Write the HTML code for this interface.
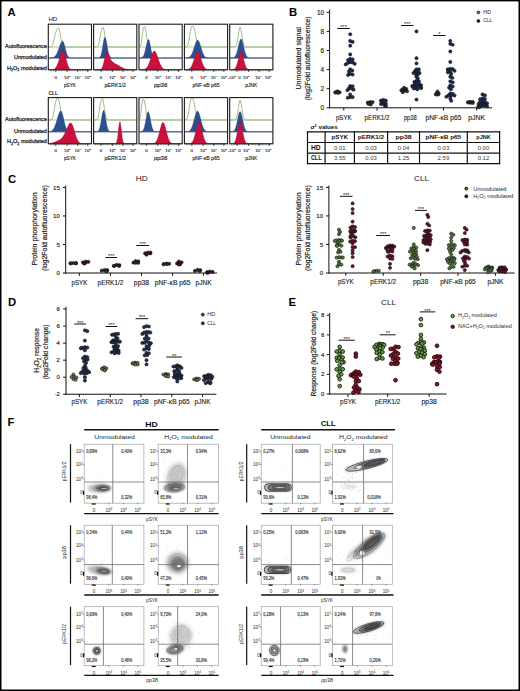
<!DOCTYPE html>
<html><head><meta charset="utf-8"><style>
html,body{margin:0;padding:0;background:#fff;overflow:hidden;}
svg{display:block;font-family:"Liberation Sans", sans-serif;}
</style></head><body>
<svg width="520" height="691" viewBox="0 0 520 691">
<rect width="520" height="691" fill="#fff"/>
<text x="7.6" y="16.1" font-size="11.3" text-anchor="start" font-weight="bold" fill="#000">A</text>
<text x="289" y="16.4" font-size="11.3" text-anchor="start" font-weight="bold" fill="#000">B</text>
<text x="8" y="182.6" font-size="11.3" text-anchor="start" font-weight="bold" fill="#000">C</text>
<text x="8" y="305.6" font-size="11.3" text-anchor="start" font-weight="bold" fill="#000">D</text>
<text x="288.6" y="306" font-size="11.3" text-anchor="start" font-weight="bold" fill="#000">E</text>
<text x="7.6" y="425.7" font-size="11.3" text-anchor="start" font-weight="bold" fill="#000">F</text>
<clipPath id="ha0"><rect x="48.3" y="24.2" width="43.2" height="45.6"/></clipPath>
<g clip-path="url(#ha0)">
<line x1="48.3" y1="47" x2="91.5" y2="47" stroke="#a2bd8a" stroke-width="0.85"/>
<line x1="48.3" y1="58" x2="91.5" y2="58" stroke="#4a5676" stroke-width="0.85"/>
<path d="M48.3,47 L48.3,47 L49.02,47 L49.74,46.99 L50.46,46.96 L51.18,46.82 L51.9,46.33 L52.62,45.08 L53.34,42.7 L54.06,39.33 L54.78,35.87 L55.5,33.22 L56.22,31.37 L56.94,29.76 L57.66,28.28 L58.38,27.72 L59.1,28.89 L59.82,31.85 L60.54,35.82 L61.26,39.74 L61.98,42.86 L62.7,44.93 L63.42,46.09 L64.14,46.65 L64.86,46.88 L65.58,46.96 L66.3,46.99 L67.02,47 L67.74,47 L68.46,47 L69.18,47 L69.9,47 L70.62,47 L71.34,47 L72.06,47 L72.78,47 L73.5,47 L74.22,47 L74.94,47 L75.66,47 L76.38,47 L77.1,47 L77.82,47 L78.54,47 L79.26,47 L79.98,47 L80.7,47 L81.42,47 L82.14,47 L82.86,47 L83.58,47 L84.3,47 L85.02,47 L85.74,47 L86.46,47 L87.18,47 L87.9,47 L88.62,47 L89.34,47 L90.06,47 L90.78,47 L91.5,47 L91.5,47" fill="none" stroke="#7ea85e" stroke-width="0.75"/>
<path d="M48.3,58 L48.3,58 L49.02,57.99 L49.74,57.98 L50.46,57.96 L51.18,57.92 L51.9,57.84 L52.62,57.71 L53.34,57.49 L54.06,57.14 L54.78,56.62 L55.5,55.85 L56.22,54.81 L56.94,53.46 L57.66,51.8 L58.38,49.88 L59.1,47.81 L59.82,45.75 L60.54,43.87 L61.26,42.39 L61.98,41.46 L62.7,41.21 L63.42,42.08 L64.14,44.1 L64.86,46.84 L65.58,49.74 L66.3,52.38 L67.02,54.48 L67.74,55.97 L68.46,56.92 L69.18,57.47 L69.9,57.76 L70.62,57.9 L71.34,57.96 L72.06,57.99 L72.78,58 L73.5,58 L74.22,58 L74.94,58 L75.66,58 L76.38,58 L77.1,58 L77.82,58 L78.54,58 L79.26,58 L79.98,58 L80.7,58 L81.42,58 L82.14,58 L82.86,58 L83.58,58 L84.3,58 L85.02,58 L85.74,58 L86.46,58 L87.18,58 L87.9,58 L88.62,58 L89.34,58 L90.06,58 L90.78,58 L91.5,58 L91.5,58 Z" fill="#2c4f8e" stroke="#27427a" stroke-width="0.4"/>
<path d="M48.3,69.8 L48.3,69.8 L49.02,69.79 L49.74,69.79 L50.46,69.77 L51.18,69.74 L51.9,69.69 L52.62,69.58 L53.34,69.41 L54.06,69.12 L54.78,68.66 L55.5,67.98 L56.22,67.02 L56.94,65.72 L57.66,64.06 L58.38,62.07 L59.1,59.81 L59.82,57.42 L60.54,55.11 L61.26,53.08 L61.98,51.56 L62.7,50.72 L63.42,50.72 L64.14,51.88 L64.86,54.04 L65.58,56.83 L66.3,59.81 L67.02,62.59 L67.74,64.94 L68.46,66.73 L69.18,67.98 L69.9,68.79 L70.62,69.28 L71.34,69.55 L72.06,69.69 L72.78,69.75 L73.5,69.78 L74.22,69.79 L74.94,69.8 L75.66,69.8 L76.38,69.8 L77.1,69.8 L77.82,69.8 L78.54,69.8 L79.26,69.8 L79.98,69.8 L80.7,69.8 L81.42,69.8 L82.14,69.8 L82.86,69.8 L83.58,69.8 L84.3,69.8 L85.02,69.8 L85.74,69.8 L86.46,69.8 L87.18,69.8 L87.9,69.8 L88.62,69.8 L89.34,69.8 L90.06,69.8 L90.78,69.8 L91.5,69.8 L91.5,69.8 Z" fill="#c8113c" stroke="#a80e33" stroke-width="0.4"/>
</g>
<rect x="48.3" y="24.2" width="43.2" height="45.6" fill="none" stroke="#1a1a1a" stroke-width="1.1"/>
<line x1="55.7" y1="69.8" x2="55.7" y2="71.8" stroke="#111" stroke-width="0.8"/>
<line x1="67.1" y1="69.8" x2="67.1" y2="71.8" stroke="#111" stroke-width="0.8"/>
<line x1="77.7" y1="69.8" x2="77.7" y2="71.8" stroke="#111" stroke-width="0.8"/>
<line x1="87.7" y1="69.8" x2="87.7" y2="71.8" stroke="#111" stroke-width="0.8"/>
<line x1="50.3" y1="69.8" x2="50.3" y2="71.2" stroke="#333" stroke-width="0.5"/>
<line x1="51.9" y1="69.8" x2="51.9" y2="71.2" stroke="#333" stroke-width="0.5"/>
<line x1="53.5" y1="69.8" x2="53.5" y2="71.2" stroke="#333" stroke-width="0.5"/>
<line x1="55.1" y1="69.8" x2="55.1" y2="71.2" stroke="#333" stroke-width="0.5"/>
<line x1="56.7" y1="69.8" x2="56.7" y2="71.2" stroke="#333" stroke-width="0.5"/>
<line x1="58.3" y1="69.8" x2="58.3" y2="71.2" stroke="#333" stroke-width="0.5"/>
<line x1="59.9" y1="69.8" x2="59.9" y2="71.2" stroke="#333" stroke-width="0.5"/>
<line x1="61.5" y1="69.8" x2="61.5" y2="71.2" stroke="#333" stroke-width="0.5"/>
<line x1="63.1" y1="69.8" x2="63.1" y2="71.2" stroke="#333" stroke-width="0.5"/>
<line x1="64.7" y1="69.8" x2="64.7" y2="71.2" stroke="#333" stroke-width="0.5"/>
<line x1="66.3" y1="69.8" x2="66.3" y2="71.2" stroke="#333" stroke-width="0.5"/>
<line x1="67.9" y1="69.8" x2="67.9" y2="71.2" stroke="#333" stroke-width="0.5"/>
<line x1="69.5" y1="69.8" x2="69.5" y2="71.2" stroke="#333" stroke-width="0.5"/>
<line x1="71.1" y1="69.8" x2="71.1" y2="71.2" stroke="#333" stroke-width="0.5"/>
<line x1="72.7" y1="69.8" x2="72.7" y2="71.2" stroke="#333" stroke-width="0.5"/>
<line x1="74.3" y1="69.8" x2="74.3" y2="71.2" stroke="#333" stroke-width="0.5"/>
<line x1="75.9" y1="69.8" x2="75.9" y2="71.2" stroke="#333" stroke-width="0.5"/>
<line x1="77.5" y1="69.8" x2="77.5" y2="71.2" stroke="#333" stroke-width="0.5"/>
<line x1="79.1" y1="69.8" x2="79.1" y2="71.2" stroke="#333" stroke-width="0.5"/>
<line x1="80.7" y1="69.8" x2="80.7" y2="71.2" stroke="#333" stroke-width="0.5"/>
<line x1="82.3" y1="69.8" x2="82.3" y2="71.2" stroke="#333" stroke-width="0.5"/>
<line x1="83.9" y1="69.8" x2="83.9" y2="71.2" stroke="#333" stroke-width="0.5"/>
<line x1="85.5" y1="69.8" x2="85.5" y2="71.2" stroke="#333" stroke-width="0.5"/>
<line x1="87.1" y1="69.8" x2="87.1" y2="71.2" stroke="#333" stroke-width="0.5"/>
<line x1="88.7" y1="69.8" x2="88.7" y2="71.2" stroke="#333" stroke-width="0.5"/>
<clipPath id="ha1"><rect x="93.6" y="24.2" width="43.2" height="45.6"/></clipPath>
<g clip-path="url(#ha1)">
<line x1="93.6" y1="47" x2="136.8" y2="47" stroke="#a2bd8a" stroke-width="0.85"/>
<line x1="93.6" y1="58" x2="136.8" y2="58" stroke="#4a5676" stroke-width="0.85"/>
<path d="M93.6,47 L93.6,47 L94.32,47 L95.04,47 L95.76,46.99 L96.48,46.96 L97.2,46.8 L97.92,46.21 L98.64,44.55 L99.36,41.31 L100.08,36.94 L100.8,32.77 L101.52,29.74 L102.24,27.87 L102.96,27.39 L103.68,28.93 L104.4,32.48 L105.12,36.98 L105.84,41.1 L106.56,44.04 L107.28,45.73 L108,46.54 L108.72,46.86 L109.44,46.96 L110.16,46.99 L110.88,47 L111.6,47 L112.32,47 L113.04,47 L113.76,47 L114.48,47 L115.2,47 L115.92,47 L116.64,47 L117.36,47 L118.08,47 L118.8,47 L119.52,47 L120.24,47 L120.96,47 L121.68,47 L122.4,47 L123.12,47 L123.84,47 L124.56,47 L125.28,47 L126,47 L126.72,47 L127.44,47 L128.16,47 L128.88,47 L129.6,47 L130.32,47 L131.04,47 L131.76,47 L132.48,47 L133.2,47 L133.92,47 L134.64,47 L135.36,47 L136.08,47 L136.8,47 L136.8,47" fill="none" stroke="#7ea85e" stroke-width="0.75"/>
<path d="M93.6,58 L93.6,58 L94.32,58 L95.04,58 L95.76,58 L96.48,58 L97.2,57.99 L97.92,57.97 L98.64,57.89 L99.36,57.66 L100.08,57.05 L100.8,55.74 L101.52,53.34 L102.24,49.65 L102.96,45.05 L103.68,40.6 L104.4,37.75 L105.12,37.52 L105.84,39.49 L106.56,42.97 L107.28,47.03 L108,50.81 L108.72,53.77 L109.44,55.76 L110.16,56.94 L110.88,57.55 L111.6,57.83 L112.32,57.94 L113.04,57.98 L113.76,57.99 L114.48,58 L115.2,58 L115.92,58 L116.64,58 L117.36,58 L118.08,58 L118.8,58 L119.52,58 L120.24,58 L120.96,58 L121.68,58 L122.4,58 L123.12,58 L123.84,58 L124.56,58 L125.28,58 L126,58 L126.72,58 L127.44,58 L128.16,58 L128.88,58 L129.6,58 L130.32,58 L131.04,58 L131.76,58 L132.48,58 L133.2,58 L133.92,58 L134.64,58 L135.36,58 L136.08,58 L136.8,58 L136.8,58 Z" fill="#2c4f8e" stroke="#27427a" stroke-width="0.4"/>
<path d="M93.6,69.8 L93.6,69.8 L94.32,69.8 L95.04,69.8 L95.76,69.8 L96.48,69.8 L97.2,69.8 L97.92,69.79 L98.64,69.78 L99.36,69.73 L100.08,69.59 L100.8,69.28 L101.52,68.63 L102.24,67.44 L102.96,65.51 L103.68,62.81 L104.4,59.56 L105.12,56.29 L105.84,53.76 L106.56,52.62 L107.28,52.77 L108,53.68 L108.72,55.11 L109.44,56.77 L110.16,58.38 L110.88,59.75 L111.6,60.81 L112.32,61.59 L113.04,62.23 L113.76,62.83 L114.48,63.33 L115.2,63.73 L115.92,64.1 L116.64,64.46 L117.36,64.84 L118.08,65.25 L118.8,65.67 L119.52,66.11 L120.24,66.55 L120.96,66.97 L121.68,67.38 L122.4,67.75 L123.12,68.1 L123.84,68.4 L124.56,68.67 L125.28,68.9 L126,69.09 L126.72,69.25 L127.44,69.38 L128.16,69.48 L128.88,69.57 L129.6,69.63 L130.32,69.68 L131.04,69.71 L131.76,69.74 L132.48,69.76 L133.2,69.77 L133.92,69.78 L134.64,69.79 L135.36,69.79 L136.08,69.79 L136.8,69.8 L136.8,69.8 Z" fill="#c8113c" stroke="#a80e33" stroke-width="0.4"/>
</g>
<rect x="93.6" y="24.2" width="43.2" height="45.6" fill="none" stroke="#1a1a1a" stroke-width="1.1"/>
<line x1="101" y1="69.8" x2="101" y2="71.8" stroke="#111" stroke-width="0.8"/>
<line x1="112.4" y1="69.8" x2="112.4" y2="71.8" stroke="#111" stroke-width="0.8"/>
<line x1="123" y1="69.8" x2="123" y2="71.8" stroke="#111" stroke-width="0.8"/>
<line x1="133" y1="69.8" x2="133" y2="71.8" stroke="#111" stroke-width="0.8"/>
<line x1="95.6" y1="69.8" x2="95.6" y2="71.2" stroke="#333" stroke-width="0.5"/>
<line x1="97.2" y1="69.8" x2="97.2" y2="71.2" stroke="#333" stroke-width="0.5"/>
<line x1="98.8" y1="69.8" x2="98.8" y2="71.2" stroke="#333" stroke-width="0.5"/>
<line x1="100.4" y1="69.8" x2="100.4" y2="71.2" stroke="#333" stroke-width="0.5"/>
<line x1="102" y1="69.8" x2="102" y2="71.2" stroke="#333" stroke-width="0.5"/>
<line x1="103.6" y1="69.8" x2="103.6" y2="71.2" stroke="#333" stroke-width="0.5"/>
<line x1="105.2" y1="69.8" x2="105.2" y2="71.2" stroke="#333" stroke-width="0.5"/>
<line x1="106.8" y1="69.8" x2="106.8" y2="71.2" stroke="#333" stroke-width="0.5"/>
<line x1="108.4" y1="69.8" x2="108.4" y2="71.2" stroke="#333" stroke-width="0.5"/>
<line x1="110" y1="69.8" x2="110" y2="71.2" stroke="#333" stroke-width="0.5"/>
<line x1="111.6" y1="69.8" x2="111.6" y2="71.2" stroke="#333" stroke-width="0.5"/>
<line x1="113.2" y1="69.8" x2="113.2" y2="71.2" stroke="#333" stroke-width="0.5"/>
<line x1="114.8" y1="69.8" x2="114.8" y2="71.2" stroke="#333" stroke-width="0.5"/>
<line x1="116.4" y1="69.8" x2="116.4" y2="71.2" stroke="#333" stroke-width="0.5"/>
<line x1="118" y1="69.8" x2="118" y2="71.2" stroke="#333" stroke-width="0.5"/>
<line x1="119.6" y1="69.8" x2="119.6" y2="71.2" stroke="#333" stroke-width="0.5"/>
<line x1="121.2" y1="69.8" x2="121.2" y2="71.2" stroke="#333" stroke-width="0.5"/>
<line x1="122.8" y1="69.8" x2="122.8" y2="71.2" stroke="#333" stroke-width="0.5"/>
<line x1="124.4" y1="69.8" x2="124.4" y2="71.2" stroke="#333" stroke-width="0.5"/>
<line x1="126" y1="69.8" x2="126" y2="71.2" stroke="#333" stroke-width="0.5"/>
<line x1="127.6" y1="69.8" x2="127.6" y2="71.2" stroke="#333" stroke-width="0.5"/>
<line x1="129.2" y1="69.8" x2="129.2" y2="71.2" stroke="#333" stroke-width="0.5"/>
<line x1="130.8" y1="69.8" x2="130.8" y2="71.2" stroke="#333" stroke-width="0.5"/>
<line x1="132.4" y1="69.8" x2="132.4" y2="71.2" stroke="#333" stroke-width="0.5"/>
<line x1="134" y1="69.8" x2="134" y2="71.2" stroke="#333" stroke-width="0.5"/>
<clipPath id="ha2"><rect x="139" y="24.2" width="43.2" height="45.6"/></clipPath>
<g clip-path="url(#ha2)">
<line x1="139" y1="47" x2="182.2" y2="47" stroke="#a2bd8a" stroke-width="0.85"/>
<line x1="139" y1="58" x2="182.2" y2="58" stroke="#4a5676" stroke-width="0.85"/>
<path d="M139,47 L139,46.95 L139.72,46.75 L140.44,45.95 L141.16,43.47 L141.88,38.45 L142.6,32.45 L143.32,28.42 L144.04,26.86 L144.76,26.84 L145.48,28.69 L146.2,32.65 L146.92,37.52 L147.64,41.76 L148.36,44.58 L149.08,46.07 L149.8,46.7 L150.52,46.92 L151.24,46.98 L151.96,47 L152.68,47 L153.4,47 L154.12,47 L154.84,47 L155.56,47 L156.28,47 L157,47 L157.72,47 L158.44,47 L159.16,47 L159.88,47 L160.6,47 L161.32,47 L162.04,47 L162.76,47 L163.48,47 L164.2,47 L164.92,47 L165.64,47 L166.36,47 L167.08,47 L167.8,47 L168.52,47 L169.24,47 L169.96,47 L170.68,47 L171.4,47 L172.12,47 L172.84,47 L173.56,47 L174.28,47 L175,47 L175.72,47 L176.44,47 L177.16,47 L177.88,47 L178.6,47 L179.32,47 L180.04,47 L180.76,47 L181.48,47 L182.2,47 L182.2,47" fill="none" stroke="#7ea85e" stroke-width="0.75"/>
<path d="M139,58 L139,57.99 L139.72,57.98 L140.44,57.93 L141.16,57.83 L141.88,57.59 L142.6,57.09 L143.32,56.19 L144.04,54.69 L144.76,52.48 L145.48,49.57 L146.2,46.25 L146.92,43.02 L147.64,40.56 L148.36,39.43 L149.08,40.17 L149.8,42.94 L150.52,46.83 L151.24,50.72 L151.96,53.84 L152.68,55.91 L153.4,57.08 L154.12,57.64 L154.84,57.88 L155.56,57.96 L156.28,57.99 L157,58 L157.72,58 L158.44,58 L159.16,58 L159.88,58 L160.6,58 L161.32,58 L162.04,58 L162.76,58 L163.48,58 L164.2,58 L164.92,58 L165.64,58 L166.36,58 L167.08,58 L167.8,58 L168.52,58 L169.24,58 L169.96,58 L170.68,58 L171.4,58 L172.12,58 L172.84,58 L173.56,58 L174.28,58 L175,58 L175.72,58 L176.44,58 L177.16,58 L177.88,58 L178.6,58 L179.32,58 L180.04,58 L180.76,58 L181.48,58 L182.2,58 L182.2,58 Z" fill="#2c4f8e" stroke="#27427a" stroke-width="0.4"/>
<path d="M139,69.8 L139,69.8 L139.72,69.79 L140.44,69.79 L141.16,69.78 L141.88,69.75 L142.6,69.7 L143.32,69.62 L144.04,69.48 L144.76,69.24 L145.48,68.87 L146.2,68.3 L146.92,67.5 L147.64,66.4 L148.36,64.98 L149.08,63.23 L149.8,61.19 L150.52,58.97 L151.24,56.7 L151.96,54.58 L152.68,52.81 L153.4,51.58 L154.12,51.02 L154.84,51.19 L155.56,52.01 L156.28,53.39 L157,55.19 L157.72,57.26 L158.44,59.41 L159.16,61.5 L159.88,63.4 L160.6,65.04 L161.32,66.39 L162.04,67.44 L162.76,68.22 L163.48,68.78 L164.2,69.17 L164.92,69.42 L165.64,69.58 L166.36,69.68 L167.08,69.73 L167.8,69.77 L168.52,69.78 L169.24,69.79 L169.96,69.8 L170.68,69.8 L171.4,69.8 L172.12,69.8 L172.84,69.8 L173.56,69.8 L174.28,69.8 L175,69.8 L175.72,69.8 L176.44,69.8 L177.16,69.8 L177.88,69.8 L178.6,69.8 L179.32,69.8 L180.04,69.8 L180.76,69.8 L181.48,69.8 L182.2,69.8 L182.2,69.8 Z" fill="#c8113c" stroke="#a80e33" stroke-width="0.4"/>
</g>
<rect x="139" y="24.2" width="43.2" height="45.6" fill="none" stroke="#1a1a1a" stroke-width="1.1"/>
<line x1="146.4" y1="69.8" x2="146.4" y2="71.8" stroke="#111" stroke-width="0.8"/>
<line x1="157.8" y1="69.8" x2="157.8" y2="71.8" stroke="#111" stroke-width="0.8"/>
<line x1="168.4" y1="69.8" x2="168.4" y2="71.8" stroke="#111" stroke-width="0.8"/>
<line x1="178.4" y1="69.8" x2="178.4" y2="71.8" stroke="#111" stroke-width="0.8"/>
<line x1="141" y1="69.8" x2="141" y2="71.2" stroke="#333" stroke-width="0.5"/>
<line x1="142.6" y1="69.8" x2="142.6" y2="71.2" stroke="#333" stroke-width="0.5"/>
<line x1="144.2" y1="69.8" x2="144.2" y2="71.2" stroke="#333" stroke-width="0.5"/>
<line x1="145.8" y1="69.8" x2="145.8" y2="71.2" stroke="#333" stroke-width="0.5"/>
<line x1="147.4" y1="69.8" x2="147.4" y2="71.2" stroke="#333" stroke-width="0.5"/>
<line x1="149" y1="69.8" x2="149" y2="71.2" stroke="#333" stroke-width="0.5"/>
<line x1="150.6" y1="69.8" x2="150.6" y2="71.2" stroke="#333" stroke-width="0.5"/>
<line x1="152.2" y1="69.8" x2="152.2" y2="71.2" stroke="#333" stroke-width="0.5"/>
<line x1="153.8" y1="69.8" x2="153.8" y2="71.2" stroke="#333" stroke-width="0.5"/>
<line x1="155.4" y1="69.8" x2="155.4" y2="71.2" stroke="#333" stroke-width="0.5"/>
<line x1="157" y1="69.8" x2="157" y2="71.2" stroke="#333" stroke-width="0.5"/>
<line x1="158.6" y1="69.8" x2="158.6" y2="71.2" stroke="#333" stroke-width="0.5"/>
<line x1="160.2" y1="69.8" x2="160.2" y2="71.2" stroke="#333" stroke-width="0.5"/>
<line x1="161.8" y1="69.8" x2="161.8" y2="71.2" stroke="#333" stroke-width="0.5"/>
<line x1="163.4" y1="69.8" x2="163.4" y2="71.2" stroke="#333" stroke-width="0.5"/>
<line x1="165" y1="69.8" x2="165" y2="71.2" stroke="#333" stroke-width="0.5"/>
<line x1="166.6" y1="69.8" x2="166.6" y2="71.2" stroke="#333" stroke-width="0.5"/>
<line x1="168.2" y1="69.8" x2="168.2" y2="71.2" stroke="#333" stroke-width="0.5"/>
<line x1="169.8" y1="69.8" x2="169.8" y2="71.2" stroke="#333" stroke-width="0.5"/>
<line x1="171.4" y1="69.8" x2="171.4" y2="71.2" stroke="#333" stroke-width="0.5"/>
<line x1="173" y1="69.8" x2="173" y2="71.2" stroke="#333" stroke-width="0.5"/>
<line x1="174.6" y1="69.8" x2="174.6" y2="71.2" stroke="#333" stroke-width="0.5"/>
<line x1="176.2" y1="69.8" x2="176.2" y2="71.2" stroke="#333" stroke-width="0.5"/>
<line x1="177.8" y1="69.8" x2="177.8" y2="71.2" stroke="#333" stroke-width="0.5"/>
<line x1="179.4" y1="69.8" x2="179.4" y2="71.2" stroke="#333" stroke-width="0.5"/>
<clipPath id="ha3"><rect x="184.4" y="24.2" width="43.2" height="45.6"/></clipPath>
<g clip-path="url(#ha3)">
<line x1="184.4" y1="47" x2="227.6" y2="47" stroke="#a2bd8a" stroke-width="0.85"/>
<line x1="184.4" y1="58" x2="227.6" y2="58" stroke="#4a5676" stroke-width="0.85"/>
<path d="M184.4,47 L184.4,47 L185.12,46.98 L185.84,46.92 L186.56,46.72 L187.28,46.11 L188,44.62 L188.72,41.72 L189.44,37.47 L190.16,32.79 L190.88,29.04 L191.6,26.85 L192.32,25.95 L193.04,26.01 L193.76,27.13 L194.48,29.54 L195.2,33.01 L195.92,36.88 L196.64,40.41 L197.36,43.14 L198.08,44.97 L198.8,46.04 L199.52,46.59 L200.24,46.84 L200.96,46.95 L201.68,46.98 L202.4,47 L203.12,47 L203.84,47 L204.56,47 L205.28,47 L206,47 L206.72,47 L207.44,47 L208.16,47 L208.88,47 L209.6,47 L210.32,47 L211.04,47 L211.76,47 L212.48,47 L213.2,47 L213.92,47 L214.64,47 L215.36,47 L216.08,47 L216.8,47 L217.52,47 L218.24,47 L218.96,47 L219.68,47 L220.4,47 L221.12,47 L221.84,47 L222.56,47 L223.28,47 L224,47 L224.72,47 L225.44,47 L226.16,47 L226.88,47 L227.6,47 L227.6,47" fill="none" stroke="#7ea85e" stroke-width="0.75"/>
<path d="M184.4,58 L184.4,57.99 L185.12,57.98 L185.84,57.96 L186.56,57.92 L187.28,57.84 L188,57.7 L188.72,57.46 L189.44,57.07 L190.16,56.48 L190.88,55.62 L191.6,54.44 L192.32,52.91 L193.04,51.04 L193.76,48.9 L194.48,46.63 L195.2,44.42 L195.92,42.48 L196.64,41.04 L197.36,40.29 L198.08,40.33 L198.8,41.22 L199.52,42.86 L200.24,45.01 L200.96,47.41 L201.68,49.79 L202.4,51.95 L203.12,53.76 L203.84,55.18 L204.56,56.21 L205.28,56.92 L206,57.38 L206.72,57.66 L207.44,57.83 L208.16,57.91 L208.88,57.96 L209.6,57.98 L210.32,57.99 L211.04,58 L211.76,58 L212.48,58 L213.2,58 L213.92,58 L214.64,58 L215.36,58 L216.08,58 L216.8,58 L217.52,58 L218.24,58 L218.96,58 L219.68,58 L220.4,58 L221.12,58 L221.84,58 L222.56,58 L223.28,58 L224,58 L224.72,58 L225.44,58 L226.16,58 L226.88,58 L227.6,58 L227.6,58 Z" fill="#2c4f8e" stroke="#27427a" stroke-width="0.4"/>
<path d="M184.4,69.8 L184.4,69.79 L185.12,69.78 L185.84,69.75 L186.56,69.71 L187.28,69.62 L188,69.47 L188.72,69.21 L189.44,68.79 L190.16,68.16 L190.88,67.25 L191.6,66.01 L192.32,64.41 L193.04,62.48 L193.76,60.29 L194.48,57.99 L195.2,55.77 L195.92,53.87 L196.64,52.5 L197.36,51.84 L198.08,51.98 L198.8,52.89 L199.52,54.45 L200.24,56.48 L200.96,58.75 L201.68,61.04 L202.4,63.16 L203.12,64.98 L203.84,66.46 L204.56,67.59 L205.28,68.4 L206,68.95 L206.72,69.31 L207.44,69.53 L208.16,69.66 L208.88,69.73 L209.6,69.76 L210.32,69.78 L211.04,69.79 L211.76,69.8 L212.48,69.8 L213.2,69.8 L213.92,69.8 L214.64,69.8 L215.36,69.8 L216.08,69.8 L216.8,69.8 L217.52,69.8 L218.24,69.8 L218.96,69.8 L219.68,69.8 L220.4,69.8 L221.12,69.8 L221.84,69.8 L222.56,69.8 L223.28,69.8 L224,69.8 L224.72,69.8 L225.44,69.8 L226.16,69.8 L226.88,69.8 L227.6,69.8 L227.6,69.8 Z" fill="#c8113c" stroke="#a80e33" stroke-width="0.4"/>
</g>
<rect x="184.4" y="24.2" width="43.2" height="45.6" fill="none" stroke="#1a1a1a" stroke-width="1.1"/>
<line x1="191.8" y1="69.8" x2="191.8" y2="71.8" stroke="#111" stroke-width="0.8"/>
<line x1="203.2" y1="69.8" x2="203.2" y2="71.8" stroke="#111" stroke-width="0.8"/>
<line x1="213.8" y1="69.8" x2="213.8" y2="71.8" stroke="#111" stroke-width="0.8"/>
<line x1="223.8" y1="69.8" x2="223.8" y2="71.8" stroke="#111" stroke-width="0.8"/>
<line x1="186.4" y1="69.8" x2="186.4" y2="71.2" stroke="#333" stroke-width="0.5"/>
<line x1="188" y1="69.8" x2="188" y2="71.2" stroke="#333" stroke-width="0.5"/>
<line x1="189.6" y1="69.8" x2="189.6" y2="71.2" stroke="#333" stroke-width="0.5"/>
<line x1="191.2" y1="69.8" x2="191.2" y2="71.2" stroke="#333" stroke-width="0.5"/>
<line x1="192.8" y1="69.8" x2="192.8" y2="71.2" stroke="#333" stroke-width="0.5"/>
<line x1="194.4" y1="69.8" x2="194.4" y2="71.2" stroke="#333" stroke-width="0.5"/>
<line x1="196" y1="69.8" x2="196" y2="71.2" stroke="#333" stroke-width="0.5"/>
<line x1="197.6" y1="69.8" x2="197.6" y2="71.2" stroke="#333" stroke-width="0.5"/>
<line x1="199.2" y1="69.8" x2="199.2" y2="71.2" stroke="#333" stroke-width="0.5"/>
<line x1="200.8" y1="69.8" x2="200.8" y2="71.2" stroke="#333" stroke-width="0.5"/>
<line x1="202.4" y1="69.8" x2="202.4" y2="71.2" stroke="#333" stroke-width="0.5"/>
<line x1="204" y1="69.8" x2="204" y2="71.2" stroke="#333" stroke-width="0.5"/>
<line x1="205.6" y1="69.8" x2="205.6" y2="71.2" stroke="#333" stroke-width="0.5"/>
<line x1="207.2" y1="69.8" x2="207.2" y2="71.2" stroke="#333" stroke-width="0.5"/>
<line x1="208.8" y1="69.8" x2="208.8" y2="71.2" stroke="#333" stroke-width="0.5"/>
<line x1="210.4" y1="69.8" x2="210.4" y2="71.2" stroke="#333" stroke-width="0.5"/>
<line x1="212" y1="69.8" x2="212" y2="71.2" stroke="#333" stroke-width="0.5"/>
<line x1="213.6" y1="69.8" x2="213.6" y2="71.2" stroke="#333" stroke-width="0.5"/>
<line x1="215.2" y1="69.8" x2="215.2" y2="71.2" stroke="#333" stroke-width="0.5"/>
<line x1="216.8" y1="69.8" x2="216.8" y2="71.2" stroke="#333" stroke-width="0.5"/>
<line x1="218.4" y1="69.8" x2="218.4" y2="71.2" stroke="#333" stroke-width="0.5"/>
<line x1="220" y1="69.8" x2="220" y2="71.2" stroke="#333" stroke-width="0.5"/>
<line x1="221.6" y1="69.8" x2="221.6" y2="71.2" stroke="#333" stroke-width="0.5"/>
<line x1="223.2" y1="69.8" x2="223.2" y2="71.2" stroke="#333" stroke-width="0.5"/>
<line x1="224.8" y1="69.8" x2="224.8" y2="71.2" stroke="#333" stroke-width="0.5"/>
<clipPath id="ha4"><rect x="229.7" y="24.2" width="43.2" height="45.6"/></clipPath>
<g clip-path="url(#ha4)">
<line x1="229.7" y1="47" x2="272.9" y2="47" stroke="#a2bd8a" stroke-width="0.85"/>
<line x1="229.7" y1="58" x2="272.9" y2="58" stroke="#4a5676" stroke-width="0.85"/>
<path d="M229.7,47 L229.7,47 L230.42,47 L231.14,47 L231.86,47 L232.58,47 L233.3,46.99 L234.02,46.97 L234.74,46.86 L235.46,46.52 L236.18,45.6 L236.9,43.6 L237.62,40.1 L238.34,35.3 L239.06,30.41 L239.78,27.35 L240.5,27.55 L241.22,30.9 L241.94,35.87 L242.66,40.56 L243.38,43.89 L244.1,45.74 L244.82,46.58 L245.54,46.88 L246.26,46.97 L246.98,46.99 L247.7,47 L248.42,47 L249.14,47 L249.86,47 L250.58,47 L251.3,47 L252.02,47 L252.74,47 L253.46,47 L254.18,47 L254.9,47 L255.62,47 L256.34,47 L257.06,47 L257.78,47 L258.5,47 L259.22,47 L259.94,47 L260.66,47 L261.38,47 L262.1,47 L262.82,47 L263.54,47 L264.26,47 L264.98,47 L265.7,47 L266.42,47 L267.14,47 L267.86,47 L268.58,47 L269.3,47 L270.02,47 L270.74,47 L271.46,47 L272.18,47 L272.9,47 L272.9,47" fill="none" stroke="#7ea85e" stroke-width="0.75"/>
<path d="M229.7,58 L229.7,58 L230.42,58 L231.14,57.99 L231.86,57.96 L232.58,57.9 L233.3,57.76 L234.02,57.48 L234.74,56.95 L235.46,56.04 L236.18,54.59 L236.9,52.52 L237.62,49.84 L238.34,46.74 L239.06,43.62 L239.78,40.98 L240.5,39.35 L241.22,39.07 L241.94,40.2 L242.66,42.5 L243.38,45.5 L244.1,48.67 L244.82,51.54 L245.54,53.86 L246.26,55.55 L246.98,56.65 L247.7,57.31 L248.42,57.68 L249.14,57.86 L249.86,57.94 L250.58,57.98 L251.3,57.99 L252.02,58 L252.74,58 L253.46,58 L254.18,58 L254.9,58 L255.62,58 L256.34,58 L257.06,58 L257.78,58 L258.5,58 L259.22,58 L259.94,58 L260.66,58 L261.38,58 L262.1,58 L262.82,58 L263.54,58 L264.26,58 L264.98,58 L265.7,58 L266.42,58 L267.14,58 L267.86,58 L268.58,58 L269.3,58 L270.02,58 L270.74,58 L271.46,58 L272.18,58 L272.9,58 L272.9,58 Z" fill="#2c4f8e" stroke="#27427a" stroke-width="0.4"/>
<path d="M229.7,69.8 L229.7,69.8 L230.42,69.8 L231.14,69.79 L231.86,69.76 L232.58,69.71 L233.3,69.58 L234.02,69.31 L234.74,68.81 L235.46,67.95 L236.18,66.59 L236.9,64.64 L237.62,62.11 L238.34,59.19 L239.06,56.25 L239.78,53.77 L240.5,52.23 L241.22,51.96 L241.94,53.03 L242.66,55.2 L243.38,58.03 L244.1,61.01 L244.82,63.72 L245.54,65.9 L246.26,67.49 L246.98,68.53 L247.7,69.15 L248.42,69.49 L249.14,69.67 L249.86,69.75 L250.58,69.78 L251.3,69.79 L252.02,69.8 L252.74,69.8 L253.46,69.8 L254.18,69.8 L254.9,69.8 L255.62,69.8 L256.34,69.8 L257.06,69.8 L257.78,69.8 L258.5,69.8 L259.22,69.8 L259.94,69.8 L260.66,69.8 L261.38,69.8 L262.1,69.8 L262.82,69.8 L263.54,69.8 L264.26,69.8 L264.98,69.8 L265.7,69.8 L266.42,69.8 L267.14,69.8 L267.86,69.8 L268.58,69.8 L269.3,69.8 L270.02,69.8 L270.74,69.8 L271.46,69.8 L272.18,69.8 L272.9,69.8 L272.9,69.8 Z" fill="#c8113c" stroke="#a80e33" stroke-width="0.4"/>
</g>
<rect x="229.7" y="24.2" width="43.2" height="45.6" fill="none" stroke="#1a1a1a" stroke-width="1.1"/>
<line x1="237.1" y1="69.8" x2="237.1" y2="71.8" stroke="#111" stroke-width="0.8"/>
<line x1="248.5" y1="69.8" x2="248.5" y2="71.8" stroke="#111" stroke-width="0.8"/>
<line x1="259.1" y1="69.8" x2="259.1" y2="71.8" stroke="#111" stroke-width="0.8"/>
<line x1="269.1" y1="69.8" x2="269.1" y2="71.8" stroke="#111" stroke-width="0.8"/>
<line x1="231.7" y1="69.8" x2="231.7" y2="71.2" stroke="#333" stroke-width="0.5"/>
<line x1="233.3" y1="69.8" x2="233.3" y2="71.2" stroke="#333" stroke-width="0.5"/>
<line x1="234.9" y1="69.8" x2="234.9" y2="71.2" stroke="#333" stroke-width="0.5"/>
<line x1="236.5" y1="69.8" x2="236.5" y2="71.2" stroke="#333" stroke-width="0.5"/>
<line x1="238.1" y1="69.8" x2="238.1" y2="71.2" stroke="#333" stroke-width="0.5"/>
<line x1="239.7" y1="69.8" x2="239.7" y2="71.2" stroke="#333" stroke-width="0.5"/>
<line x1="241.3" y1="69.8" x2="241.3" y2="71.2" stroke="#333" stroke-width="0.5"/>
<line x1="242.9" y1="69.8" x2="242.9" y2="71.2" stroke="#333" stroke-width="0.5"/>
<line x1="244.5" y1="69.8" x2="244.5" y2="71.2" stroke="#333" stroke-width="0.5"/>
<line x1="246.1" y1="69.8" x2="246.1" y2="71.2" stroke="#333" stroke-width="0.5"/>
<line x1="247.7" y1="69.8" x2="247.7" y2="71.2" stroke="#333" stroke-width="0.5"/>
<line x1="249.3" y1="69.8" x2="249.3" y2="71.2" stroke="#333" stroke-width="0.5"/>
<line x1="250.9" y1="69.8" x2="250.9" y2="71.2" stroke="#333" stroke-width="0.5"/>
<line x1="252.5" y1="69.8" x2="252.5" y2="71.2" stroke="#333" stroke-width="0.5"/>
<line x1="254.1" y1="69.8" x2="254.1" y2="71.2" stroke="#333" stroke-width="0.5"/>
<line x1="255.7" y1="69.8" x2="255.7" y2="71.2" stroke="#333" stroke-width="0.5"/>
<line x1="257.3" y1="69.8" x2="257.3" y2="71.2" stroke="#333" stroke-width="0.5"/>
<line x1="258.9" y1="69.8" x2="258.9" y2="71.2" stroke="#333" stroke-width="0.5"/>
<line x1="260.5" y1="69.8" x2="260.5" y2="71.2" stroke="#333" stroke-width="0.5"/>
<line x1="262.1" y1="69.8" x2="262.1" y2="71.2" stroke="#333" stroke-width="0.5"/>
<line x1="263.7" y1="69.8" x2="263.7" y2="71.2" stroke="#333" stroke-width="0.5"/>
<line x1="265.3" y1="69.8" x2="265.3" y2="71.2" stroke="#333" stroke-width="0.5"/>
<line x1="266.9" y1="69.8" x2="266.9" y2="71.2" stroke="#333" stroke-width="0.5"/>
<line x1="268.5" y1="69.8" x2="268.5" y2="71.2" stroke="#333" stroke-width="0.5"/>
<line x1="270.1" y1="69.8" x2="270.1" y2="71.2" stroke="#333" stroke-width="0.5"/>
<clipPath id="ca0"><rect x="48.3" y="97.6" width="43.2" height="46.2"/></clipPath>
<g clip-path="url(#ca0)">
<line x1="48.3" y1="120" x2="91.5" y2="120" stroke="#a2bd8a" stroke-width="0.85"/>
<line x1="48.3" y1="131.8" x2="91.5" y2="131.8" stroke="#4a5676" stroke-width="0.85"/>
<path d="M48.3,120 L48.3,120 L49.02,120 L49.74,119.99 L50.46,119.94 L51.18,119.73 L51.9,119.11 L52.62,117.62 L53.34,114.81 L54.06,110.76 L54.78,106.29 L55.5,102.51 L56.22,99.95 L56.94,98.47 L57.66,97.91 L58.38,98.6 L59.1,100.95 L59.82,104.76 L60.54,109.19 L61.26,113.24 L61.98,116.28 L62.7,118.2 L63.42,119.24 L64.14,119.72 L64.86,119.91 L65.58,119.97 L66.3,119.99 L67.02,120 L67.74,120 L68.46,120 L69.18,120 L69.9,120 L70.62,120 L71.34,120 L72.06,120 L72.78,120 L73.5,120 L74.22,120 L74.94,120 L75.66,120 L76.38,120 L77.1,120 L77.82,120 L78.54,120 L79.26,120 L79.98,120 L80.7,120 L81.42,120 L82.14,120 L82.86,120 L83.58,120 L84.3,120 L85.02,120 L85.74,120 L86.46,120 L87.18,120 L87.9,120 L88.62,120 L89.34,120 L90.06,120 L90.78,120 L91.5,120 L91.5,120" fill="none" stroke="#7ea85e" stroke-width="0.75"/>
<path d="M48.3,131.8 L48.3,131.74 L49.02,131.68 L49.74,131.58 L50.46,131.41 L51.18,131.14 L51.9,130.72 L52.62,130.1 L53.34,129.22 L54.06,128.03 L54.78,126.5 L55.5,124.63 L56.22,122.45 L56.94,120.07 L57.66,117.62 L58.38,115.31 L59.1,113.32 L59.82,111.87 L60.54,111.1 L61.26,111.17 L61.98,112.49 L62.7,114.88 L63.42,117.93 L64.14,121.15 L64.86,124.15 L65.58,126.65 L66.3,128.56 L67.02,129.89 L67.74,130.75 L68.46,131.26 L69.18,131.54 L69.9,131.68 L70.62,131.75 L71.34,131.78 L72.06,131.79 L72.78,131.8 L73.5,131.8 L74.22,131.8 L74.94,131.8 L75.66,131.8 L76.38,131.8 L77.1,131.8 L77.82,131.8 L78.54,131.8 L79.26,131.8 L79.98,131.8 L80.7,131.8 L81.42,131.8 L82.14,131.8 L82.86,131.8 L83.58,131.8 L84.3,131.8 L85.02,131.8 L85.74,131.8 L86.46,131.8 L87.18,131.8 L87.9,131.8 L88.62,131.8 L89.34,131.8 L90.06,131.8 L90.78,131.8 L91.5,131.8 L91.5,131.8 Z" fill="#2c4f8e" stroke="#27427a" stroke-width="0.4"/>
<path d="M48.3,143.8 L48.3,143.62 L49.02,143.55 L49.74,143.46 L50.46,143.34 L51.18,143.19 L51.9,143.02 L52.62,142.81 L53.34,142.58 L54.06,142.31 L54.78,142.03 L55.5,141.72 L56.22,141.41 L56.94,141.08 L57.66,140.75 L58.38,140.4 L59.1,140.03 L59.82,139.63 L60.54,139.16 L61.26,138.59 L61.98,137.9 L62.7,137.05 L63.42,136.02 L64.14,134.78 L64.86,133.36 L65.58,131.78 L66.3,130.08 L67.02,128.37 L67.74,126.72 L68.46,125.26 L69.18,124.08 L69.9,123.29 L70.62,122.96 L71.34,123.17 L72.06,124.14 L72.78,125.77 L73.5,127.91 L74.22,130.33 L74.94,132.83 L75.66,135.22 L76.38,137.35 L77.1,139.14 L77.82,140.56 L78.54,141.64 L79.26,142.41 L79.98,142.95 L80.7,143.3 L81.42,143.51 L82.14,143.64 L82.86,143.72 L83.58,143.76 L84.3,143.78 L85.02,143.79 L85.74,143.8 L86.46,143.8 L87.18,143.8 L87.9,143.8 L88.62,143.8 L89.34,143.8 L90.06,143.8 L90.78,143.8 L91.5,143.8 L91.5,143.8 Z" fill="#c8113c" stroke="#a80e33" stroke-width="0.4"/>
</g>
<rect x="48.3" y="97.6" width="43.2" height="46.2" fill="none" stroke="#1a1a1a" stroke-width="1.1"/>
<line x1="55.7" y1="143.8" x2="55.7" y2="145.8" stroke="#111" stroke-width="0.8"/>
<line x1="67.1" y1="143.8" x2="67.1" y2="145.8" stroke="#111" stroke-width="0.8"/>
<line x1="77.7" y1="143.8" x2="77.7" y2="145.8" stroke="#111" stroke-width="0.8"/>
<line x1="87.7" y1="143.8" x2="87.7" y2="145.8" stroke="#111" stroke-width="0.8"/>
<line x1="50.3" y1="143.8" x2="50.3" y2="145.2" stroke="#333" stroke-width="0.5"/>
<line x1="51.9" y1="143.8" x2="51.9" y2="145.2" stroke="#333" stroke-width="0.5"/>
<line x1="53.5" y1="143.8" x2="53.5" y2="145.2" stroke="#333" stroke-width="0.5"/>
<line x1="55.1" y1="143.8" x2="55.1" y2="145.2" stroke="#333" stroke-width="0.5"/>
<line x1="56.7" y1="143.8" x2="56.7" y2="145.2" stroke="#333" stroke-width="0.5"/>
<line x1="58.3" y1="143.8" x2="58.3" y2="145.2" stroke="#333" stroke-width="0.5"/>
<line x1="59.9" y1="143.8" x2="59.9" y2="145.2" stroke="#333" stroke-width="0.5"/>
<line x1="61.5" y1="143.8" x2="61.5" y2="145.2" stroke="#333" stroke-width="0.5"/>
<line x1="63.1" y1="143.8" x2="63.1" y2="145.2" stroke="#333" stroke-width="0.5"/>
<line x1="64.7" y1="143.8" x2="64.7" y2="145.2" stroke="#333" stroke-width="0.5"/>
<line x1="66.3" y1="143.8" x2="66.3" y2="145.2" stroke="#333" stroke-width="0.5"/>
<line x1="67.9" y1="143.8" x2="67.9" y2="145.2" stroke="#333" stroke-width="0.5"/>
<line x1="69.5" y1="143.8" x2="69.5" y2="145.2" stroke="#333" stroke-width="0.5"/>
<line x1="71.1" y1="143.8" x2="71.1" y2="145.2" stroke="#333" stroke-width="0.5"/>
<line x1="72.7" y1="143.8" x2="72.7" y2="145.2" stroke="#333" stroke-width="0.5"/>
<line x1="74.3" y1="143.8" x2="74.3" y2="145.2" stroke="#333" stroke-width="0.5"/>
<line x1="75.9" y1="143.8" x2="75.9" y2="145.2" stroke="#333" stroke-width="0.5"/>
<line x1="77.5" y1="143.8" x2="77.5" y2="145.2" stroke="#333" stroke-width="0.5"/>
<line x1="79.1" y1="143.8" x2="79.1" y2="145.2" stroke="#333" stroke-width="0.5"/>
<line x1="80.7" y1="143.8" x2="80.7" y2="145.2" stroke="#333" stroke-width="0.5"/>
<line x1="82.3" y1="143.8" x2="82.3" y2="145.2" stroke="#333" stroke-width="0.5"/>
<line x1="83.9" y1="143.8" x2="83.9" y2="145.2" stroke="#333" stroke-width="0.5"/>
<line x1="85.5" y1="143.8" x2="85.5" y2="145.2" stroke="#333" stroke-width="0.5"/>
<line x1="87.1" y1="143.8" x2="87.1" y2="145.2" stroke="#333" stroke-width="0.5"/>
<line x1="88.7" y1="143.8" x2="88.7" y2="145.2" stroke="#333" stroke-width="0.5"/>
<clipPath id="ca1"><rect x="93.6" y="97.6" width="43.2" height="46.2"/></clipPath>
<g clip-path="url(#ca1)">
<line x1="93.6" y1="120" x2="136.8" y2="120" stroke="#a2bd8a" stroke-width="0.85"/>
<line x1="93.6" y1="131.8" x2="136.8" y2="131.8" stroke="#4a5676" stroke-width="0.85"/>
<path d="M93.6,120 L93.6,120 L94.32,120 L95.04,120 L95.76,119.98 L96.48,119.88 L97.2,119.44 L97.92,118.01 L98.64,114.84 L99.36,110.1 L100.08,105.27 L100.8,101.72 L101.52,99.52 L102.24,98.62 L102.96,99.78 L103.68,103.4 L104.4,108.45 L105.12,113.27 L105.84,116.71 L106.56,118.66 L107.28,119.54 L108,119.87 L108.72,119.97 L109.44,119.99 L110.16,120 L110.88,120 L111.6,120 L112.32,120 L113.04,120 L113.76,120 L114.48,120 L115.2,120 L115.92,120 L116.64,120 L117.36,120 L118.08,120 L118.8,120 L119.52,120 L120.24,120 L120.96,120 L121.68,120 L122.4,120 L123.12,120 L123.84,120 L124.56,120 L125.28,120 L126,120 L126.72,120 L127.44,120 L128.16,120 L128.88,120 L129.6,120 L130.32,120 L131.04,120 L131.76,120 L132.48,120 L133.2,120 L133.92,120 L134.64,120 L135.36,120 L136.08,120 L136.8,120 L136.8,120" fill="none" stroke="#7ea85e" stroke-width="0.75"/>
<path d="M93.6,131.8 L93.6,131.8 L94.32,131.8 L95.04,131.79 L95.76,131.78 L96.48,131.73 L97.2,131.59 L97.92,131.25 L98.64,130.48 L99.36,129 L100.08,126.52 L100.8,122.96 L101.52,118.64 L102.24,114.37 L102.96,111.28 L103.68,110.32 L104.4,111.8 L105.12,115.25 L105.84,119.63 L106.56,123.84 L107.28,127.17 L108,129.41 L108.72,130.7 L109.44,131.35 L110.16,131.64 L110.88,131.75 L111.6,131.78 L112.32,131.8 L113.04,131.8 L113.76,131.8 L114.48,131.8 L115.2,131.8 L115.92,131.8 L116.64,131.8 L117.36,131.8 L118.08,131.8 L118.8,131.8 L119.52,131.8 L120.24,131.8 L120.96,131.8 L121.68,131.8 L122.4,131.8 L123.12,131.8 L123.84,131.8 L124.56,131.8 L125.28,131.8 L126,131.8 L126.72,131.8 L127.44,131.8 L128.16,131.8 L128.88,131.8 L129.6,131.8 L130.32,131.8 L131.04,131.8 L131.76,131.8 L132.48,131.8 L133.2,131.8 L133.92,131.8 L134.64,131.8 L135.36,131.8 L136.08,131.8 L136.8,131.8 L136.8,131.8 Z" fill="#2c4f8e" stroke="#27427a" stroke-width="0.4"/>
<path d="M93.6,143.8 L93.6,143.8 L94.32,143.8 L95.04,143.8 L95.76,143.8 L96.48,143.8 L97.2,143.8 L97.92,143.8 L98.64,143.8 L99.36,143.8 L100.08,143.8 L100.8,143.8 L101.52,143.8 L102.24,143.8 L102.96,143.8 L103.68,143.8 L104.4,143.8 L105.12,143.8 L105.84,143.8 L106.56,143.8 L107.28,143.8 L108,143.8 L108.72,143.8 L109.44,143.8 L110.16,143.8 L110.88,143.8 L111.6,143.8 L112.32,143.8 L113.04,143.8 L113.76,143.8 L114.48,143.78 L115.2,143.68 L115.92,143.28 L116.64,142.01 L117.36,138.97 L118.08,133.61 L118.8,127 L119.52,122.16 L120.24,122.01 L120.96,126.65 L121.68,133.26 L122.4,138.73 L123.12,141.9 L123.84,143.24 L124.56,143.67 L125.28,143.78 L126,143.8 L126.72,143.8 L127.44,143.8 L128.16,143.8 L128.88,143.8 L129.6,143.8 L130.32,143.8 L131.04,143.8 L131.76,143.8 L132.48,143.8 L133.2,143.8 L133.92,143.8 L134.64,143.8 L135.36,143.8 L136.08,143.8 L136.8,143.8 L136.8,143.8 Z" fill="#c8113c" stroke="#a80e33" stroke-width="0.4"/>
</g>
<rect x="93.6" y="97.6" width="43.2" height="46.2" fill="none" stroke="#1a1a1a" stroke-width="1.1"/>
<line x1="101" y1="143.8" x2="101" y2="145.8" stroke="#111" stroke-width="0.8"/>
<line x1="112.4" y1="143.8" x2="112.4" y2="145.8" stroke="#111" stroke-width="0.8"/>
<line x1="123" y1="143.8" x2="123" y2="145.8" stroke="#111" stroke-width="0.8"/>
<line x1="133" y1="143.8" x2="133" y2="145.8" stroke="#111" stroke-width="0.8"/>
<line x1="95.6" y1="143.8" x2="95.6" y2="145.2" stroke="#333" stroke-width="0.5"/>
<line x1="97.2" y1="143.8" x2="97.2" y2="145.2" stroke="#333" stroke-width="0.5"/>
<line x1="98.8" y1="143.8" x2="98.8" y2="145.2" stroke="#333" stroke-width="0.5"/>
<line x1="100.4" y1="143.8" x2="100.4" y2="145.2" stroke="#333" stroke-width="0.5"/>
<line x1="102" y1="143.8" x2="102" y2="145.2" stroke="#333" stroke-width="0.5"/>
<line x1="103.6" y1="143.8" x2="103.6" y2="145.2" stroke="#333" stroke-width="0.5"/>
<line x1="105.2" y1="143.8" x2="105.2" y2="145.2" stroke="#333" stroke-width="0.5"/>
<line x1="106.8" y1="143.8" x2="106.8" y2="145.2" stroke="#333" stroke-width="0.5"/>
<line x1="108.4" y1="143.8" x2="108.4" y2="145.2" stroke="#333" stroke-width="0.5"/>
<line x1="110" y1="143.8" x2="110" y2="145.2" stroke="#333" stroke-width="0.5"/>
<line x1="111.6" y1="143.8" x2="111.6" y2="145.2" stroke="#333" stroke-width="0.5"/>
<line x1="113.2" y1="143.8" x2="113.2" y2="145.2" stroke="#333" stroke-width="0.5"/>
<line x1="114.8" y1="143.8" x2="114.8" y2="145.2" stroke="#333" stroke-width="0.5"/>
<line x1="116.4" y1="143.8" x2="116.4" y2="145.2" stroke="#333" stroke-width="0.5"/>
<line x1="118" y1="143.8" x2="118" y2="145.2" stroke="#333" stroke-width="0.5"/>
<line x1="119.6" y1="143.8" x2="119.6" y2="145.2" stroke="#333" stroke-width="0.5"/>
<line x1="121.2" y1="143.8" x2="121.2" y2="145.2" stroke="#333" stroke-width="0.5"/>
<line x1="122.8" y1="143.8" x2="122.8" y2="145.2" stroke="#333" stroke-width="0.5"/>
<line x1="124.4" y1="143.8" x2="124.4" y2="145.2" stroke="#333" stroke-width="0.5"/>
<line x1="126" y1="143.8" x2="126" y2="145.2" stroke="#333" stroke-width="0.5"/>
<line x1="127.6" y1="143.8" x2="127.6" y2="145.2" stroke="#333" stroke-width="0.5"/>
<line x1="129.2" y1="143.8" x2="129.2" y2="145.2" stroke="#333" stroke-width="0.5"/>
<line x1="130.8" y1="143.8" x2="130.8" y2="145.2" stroke="#333" stroke-width="0.5"/>
<line x1="132.4" y1="143.8" x2="132.4" y2="145.2" stroke="#333" stroke-width="0.5"/>
<line x1="134" y1="143.8" x2="134" y2="145.2" stroke="#333" stroke-width="0.5"/>
<clipPath id="ca2"><rect x="139" y="97.6" width="43.2" height="46.2"/></clipPath>
<g clip-path="url(#ca2)">
<line x1="139" y1="120" x2="182.2" y2="120" stroke="#a2bd8a" stroke-width="0.85"/>
<line x1="139" y1="131.8" x2="182.2" y2="131.8" stroke="#4a5676" stroke-width="0.85"/>
<path d="M139,120 L139,119.77 L139.72,118.93 L140.44,116.28 L141.16,111.02 L141.88,104.9 L142.6,100.79 L143.32,99.16 L144.04,99.53 L144.76,102.34 L145.48,107.21 L146.2,112.38 L146.92,116.29 L147.64,118.53 L148.36,119.52 L149.08,119.87 L149.8,119.97 L150.52,120 L151.24,120 L151.96,120 L152.68,120 L153.4,120 L154.12,120 L154.84,120 L155.56,120 L156.28,120 L157,120 L157.72,120 L158.44,120 L159.16,120 L159.88,120 L160.6,120 L161.32,120 L162.04,120 L162.76,120 L163.48,120 L164.2,120 L164.92,120 L165.64,120 L166.36,120 L167.08,120 L167.8,120 L168.52,120 L169.24,120 L169.96,120 L170.68,120 L171.4,120 L172.12,120 L172.84,120 L173.56,120 L174.28,120 L175,120 L175.72,120 L176.44,120 L177.16,120 L177.88,120 L178.6,120 L179.32,120 L180.04,120 L180.76,120 L181.48,120 L182.2,120 L182.2,120" fill="none" stroke="#7ea85e" stroke-width="0.75"/>
<path d="M139,131.8 L139,131.8 L139.72,131.79 L140.44,131.76 L141.16,131.68 L141.88,131.47 L142.6,131.01 L143.32,130.07 L144.04,128.42 L144.76,125.85 L145.48,122.39 L146.2,118.44 L146.92,114.75 L147.64,112.24 L148.36,111.65 L149.08,113.15 L149.8,116.29 L150.52,120.22 L151.24,124.02 L151.96,127.11 L152.68,129.26 L153.4,130.56 L154.12,131.26 L154.84,131.59 L155.56,131.73 L156.28,131.78 L157,131.79 L157.72,131.8 L158.44,131.8 L159.16,131.8 L159.88,131.8 L160.6,131.8 L161.32,131.8 L162.04,131.8 L162.76,131.8 L163.48,131.8 L164.2,131.8 L164.92,131.8 L165.64,131.8 L166.36,131.8 L167.08,131.8 L167.8,131.8 L168.52,131.8 L169.24,131.8 L169.96,131.8 L170.68,131.8 L171.4,131.8 L172.12,131.8 L172.84,131.8 L173.56,131.8 L174.28,131.8 L175,131.8 L175.72,131.8 L176.44,131.8 L177.16,131.8 L177.88,131.8 L178.6,131.8 L179.32,131.8 L180.04,131.8 L180.76,131.8 L181.48,131.8 L182.2,131.8 L182.2,131.8 Z" fill="#2c4f8e" stroke="#27427a" stroke-width="0.4"/>
<path d="M139,143.8 L139,143.8 L139.72,143.8 L140.44,143.8 L141.16,143.8 L141.88,143.8 L142.6,143.8 L143.32,143.8 L144.04,143.8 L144.76,143.8 L145.48,143.8 L146.2,143.8 L146.92,143.8 L147.64,143.8 L148.36,143.8 L149.08,143.8 L149.8,143.8 L150.52,143.79 L151.24,143.78 L151.96,143.74 L152.68,143.68 L153.4,143.56 L154.12,143.34 L154.84,142.97 L155.56,142.37 L156.28,141.44 L157,140.11 L157.72,138.31 L158.44,136.05 L159.16,133.38 L159.88,130.5 L160.6,127.65 L161.32,125.15 L162.04,123.34 L162.76,122.46 L163.48,122.64 L164.2,123.85 L164.92,125.93 L165.64,128.57 L166.36,131.47 L167.08,134.31 L167.8,136.85 L168.52,138.97 L169.24,140.6 L169.96,141.79 L170.68,142.6 L171.4,143.12 L172.12,143.43 L172.84,143.61 L173.56,143.71 L174.28,143.76 L175,143.78 L175.72,143.79 L176.44,143.8 L177.16,143.8 L177.88,143.8 L178.6,143.8 L179.32,143.8 L180.04,143.8 L180.76,143.8 L181.48,143.8 L182.2,143.8 L182.2,143.8 Z" fill="#c8113c" stroke="#a80e33" stroke-width="0.4"/>
</g>
<rect x="139" y="97.6" width="43.2" height="46.2" fill="none" stroke="#1a1a1a" stroke-width="1.1"/>
<line x1="146.4" y1="143.8" x2="146.4" y2="145.8" stroke="#111" stroke-width="0.8"/>
<line x1="157.8" y1="143.8" x2="157.8" y2="145.8" stroke="#111" stroke-width="0.8"/>
<line x1="168.4" y1="143.8" x2="168.4" y2="145.8" stroke="#111" stroke-width="0.8"/>
<line x1="178.4" y1="143.8" x2="178.4" y2="145.8" stroke="#111" stroke-width="0.8"/>
<line x1="141" y1="143.8" x2="141" y2="145.2" stroke="#333" stroke-width="0.5"/>
<line x1="142.6" y1="143.8" x2="142.6" y2="145.2" stroke="#333" stroke-width="0.5"/>
<line x1="144.2" y1="143.8" x2="144.2" y2="145.2" stroke="#333" stroke-width="0.5"/>
<line x1="145.8" y1="143.8" x2="145.8" y2="145.2" stroke="#333" stroke-width="0.5"/>
<line x1="147.4" y1="143.8" x2="147.4" y2="145.2" stroke="#333" stroke-width="0.5"/>
<line x1="149" y1="143.8" x2="149" y2="145.2" stroke="#333" stroke-width="0.5"/>
<line x1="150.6" y1="143.8" x2="150.6" y2="145.2" stroke="#333" stroke-width="0.5"/>
<line x1="152.2" y1="143.8" x2="152.2" y2="145.2" stroke="#333" stroke-width="0.5"/>
<line x1="153.8" y1="143.8" x2="153.8" y2="145.2" stroke="#333" stroke-width="0.5"/>
<line x1="155.4" y1="143.8" x2="155.4" y2="145.2" stroke="#333" stroke-width="0.5"/>
<line x1="157" y1="143.8" x2="157" y2="145.2" stroke="#333" stroke-width="0.5"/>
<line x1="158.6" y1="143.8" x2="158.6" y2="145.2" stroke="#333" stroke-width="0.5"/>
<line x1="160.2" y1="143.8" x2="160.2" y2="145.2" stroke="#333" stroke-width="0.5"/>
<line x1="161.8" y1="143.8" x2="161.8" y2="145.2" stroke="#333" stroke-width="0.5"/>
<line x1="163.4" y1="143.8" x2="163.4" y2="145.2" stroke="#333" stroke-width="0.5"/>
<line x1="165" y1="143.8" x2="165" y2="145.2" stroke="#333" stroke-width="0.5"/>
<line x1="166.6" y1="143.8" x2="166.6" y2="145.2" stroke="#333" stroke-width="0.5"/>
<line x1="168.2" y1="143.8" x2="168.2" y2="145.2" stroke="#333" stroke-width="0.5"/>
<line x1="169.8" y1="143.8" x2="169.8" y2="145.2" stroke="#333" stroke-width="0.5"/>
<line x1="171.4" y1="143.8" x2="171.4" y2="145.2" stroke="#333" stroke-width="0.5"/>
<line x1="173" y1="143.8" x2="173" y2="145.2" stroke="#333" stroke-width="0.5"/>
<line x1="174.6" y1="143.8" x2="174.6" y2="145.2" stroke="#333" stroke-width="0.5"/>
<line x1="176.2" y1="143.8" x2="176.2" y2="145.2" stroke="#333" stroke-width="0.5"/>
<line x1="177.8" y1="143.8" x2="177.8" y2="145.2" stroke="#333" stroke-width="0.5"/>
<line x1="179.4" y1="143.8" x2="179.4" y2="145.2" stroke="#333" stroke-width="0.5"/>
<clipPath id="ca3"><rect x="184.4" y="97.6" width="43.2" height="46.2"/></clipPath>
<g clip-path="url(#ca3)">
<line x1="184.4" y1="120" x2="227.6" y2="120" stroke="#a2bd8a" stroke-width="0.85"/>
<line x1="184.4" y1="131.8" x2="227.6" y2="131.8" stroke="#4a5676" stroke-width="0.85"/>
<path d="M184.4,120 L184.4,119.99 L185.12,119.95 L185.84,119.82 L186.56,119.39 L187.28,118.23 L188,115.74 L188.72,111.63 L189.44,106.54 L190.16,101.98 L190.88,99.14 L191.6,98.08 L192.32,98.21 L193.04,99.29 L193.76,101.49 L194.48,104.77 L195.2,108.64 L195.92,112.36 L196.64,115.38 L197.36,117.49 L198.08,118.77 L198.8,119.46 L199.52,119.79 L200.24,119.92 L200.96,119.98 L201.68,119.99 L202.4,120 L203.12,120 L203.84,120 L204.56,120 L205.28,120 L206,120 L206.72,120 L207.44,120 L208.16,120 L208.88,120 L209.6,120 L210.32,120 L211.04,120 L211.76,120 L212.48,120 L213.2,120 L213.92,120 L214.64,120 L215.36,120 L216.08,120 L216.8,120 L217.52,120 L218.24,120 L218.96,120 L219.68,120 L220.4,120 L221.12,120 L221.84,120 L222.56,120 L223.28,120 L224,120 L224.72,120 L225.44,120 L226.16,120 L226.88,120 L227.6,120 L227.6,120" fill="none" stroke="#7ea85e" stroke-width="0.75"/>
<path d="M184.4,131.8 L184.4,131.8 L185.12,131.79 L185.84,131.77 L186.56,131.74 L187.28,131.67 L188,131.55 L188.72,131.32 L189.44,130.93 L190.16,130.31 L190.88,129.36 L191.6,128.02 L192.32,126.22 L193.04,123.96 L193.76,121.34 L194.48,118.54 L195.2,115.81 L195.92,113.48 L196.64,111.83 L197.36,111.12 L198.08,111.44 L198.8,112.74 L199.52,114.84 L200.24,117.45 L200.96,120.26 L201.68,122.98 L202.4,125.39 L203.12,127.37 L203.84,128.89 L204.56,129.98 L205.28,130.72 L206,131.19 L206.72,131.47 L207.44,131.63 L208.16,131.72 L208.88,131.76 L209.6,131.78 L210.32,131.79 L211.04,131.8 L211.76,131.8 L212.48,131.8 L213.2,131.8 L213.92,131.8 L214.64,131.8 L215.36,131.8 L216.08,131.8 L216.8,131.8 L217.52,131.8 L218.24,131.8 L218.96,131.8 L219.68,131.8 L220.4,131.8 L221.12,131.8 L221.84,131.8 L222.56,131.8 L223.28,131.8 L224,131.8 L224.72,131.8 L225.44,131.8 L226.16,131.8 L226.88,131.8 L227.6,131.8 L227.6,131.8 Z" fill="#2c4f8e" stroke="#27427a" stroke-width="0.4"/>
<path d="M184.4,143.8 L184.4,143.8 L185.12,143.8 L185.84,143.8 L186.56,143.8 L187.28,143.79 L188,143.77 L188.72,143.74 L189.44,143.66 L190.16,143.51 L190.88,143.24 L191.6,142.75 L192.32,141.96 L193.04,140.74 L193.76,139.01 L194.48,136.73 L195.2,133.94 L195.92,130.81 L196.64,127.65 L197.36,124.85 L198.08,122.81 L198.8,121.85 L199.52,122.13 L200.24,123.6 L200.96,126.03 L201.68,129.04 L202.4,132.23 L203.12,135.23 L203.84,137.81 L204.56,139.85 L205.28,141.34 L206,142.35 L206.72,143 L207.44,143.38 L208.16,143.59 L208.88,143.7 L209.6,143.76 L210.32,143.78 L211.04,143.79 L211.76,143.8 L212.48,143.8 L213.2,143.8 L213.92,143.8 L214.64,143.8 L215.36,143.8 L216.08,143.8 L216.8,143.8 L217.52,143.8 L218.24,143.8 L218.96,143.8 L219.68,143.8 L220.4,143.8 L221.12,143.8 L221.84,143.8 L222.56,143.8 L223.28,143.8 L224,143.8 L224.72,143.8 L225.44,143.8 L226.16,143.8 L226.88,143.8 L227.6,143.8 L227.6,143.8 Z" fill="#c8113c" stroke="#a80e33" stroke-width="0.4"/>
</g>
<rect x="184.4" y="97.6" width="43.2" height="46.2" fill="none" stroke="#1a1a1a" stroke-width="1.1"/>
<line x1="191.8" y1="143.8" x2="191.8" y2="145.8" stroke="#111" stroke-width="0.8"/>
<line x1="203.2" y1="143.8" x2="203.2" y2="145.8" stroke="#111" stroke-width="0.8"/>
<line x1="213.8" y1="143.8" x2="213.8" y2="145.8" stroke="#111" stroke-width="0.8"/>
<line x1="223.8" y1="143.8" x2="223.8" y2="145.8" stroke="#111" stroke-width="0.8"/>
<line x1="186.4" y1="143.8" x2="186.4" y2="145.2" stroke="#333" stroke-width="0.5"/>
<line x1="188" y1="143.8" x2="188" y2="145.2" stroke="#333" stroke-width="0.5"/>
<line x1="189.6" y1="143.8" x2="189.6" y2="145.2" stroke="#333" stroke-width="0.5"/>
<line x1="191.2" y1="143.8" x2="191.2" y2="145.2" stroke="#333" stroke-width="0.5"/>
<line x1="192.8" y1="143.8" x2="192.8" y2="145.2" stroke="#333" stroke-width="0.5"/>
<line x1="194.4" y1="143.8" x2="194.4" y2="145.2" stroke="#333" stroke-width="0.5"/>
<line x1="196" y1="143.8" x2="196" y2="145.2" stroke="#333" stroke-width="0.5"/>
<line x1="197.6" y1="143.8" x2="197.6" y2="145.2" stroke="#333" stroke-width="0.5"/>
<line x1="199.2" y1="143.8" x2="199.2" y2="145.2" stroke="#333" stroke-width="0.5"/>
<line x1="200.8" y1="143.8" x2="200.8" y2="145.2" stroke="#333" stroke-width="0.5"/>
<line x1="202.4" y1="143.8" x2="202.4" y2="145.2" stroke="#333" stroke-width="0.5"/>
<line x1="204" y1="143.8" x2="204" y2="145.2" stroke="#333" stroke-width="0.5"/>
<line x1="205.6" y1="143.8" x2="205.6" y2="145.2" stroke="#333" stroke-width="0.5"/>
<line x1="207.2" y1="143.8" x2="207.2" y2="145.2" stroke="#333" stroke-width="0.5"/>
<line x1="208.8" y1="143.8" x2="208.8" y2="145.2" stroke="#333" stroke-width="0.5"/>
<line x1="210.4" y1="143.8" x2="210.4" y2="145.2" stroke="#333" stroke-width="0.5"/>
<line x1="212" y1="143.8" x2="212" y2="145.2" stroke="#333" stroke-width="0.5"/>
<line x1="213.6" y1="143.8" x2="213.6" y2="145.2" stroke="#333" stroke-width="0.5"/>
<line x1="215.2" y1="143.8" x2="215.2" y2="145.2" stroke="#333" stroke-width="0.5"/>
<line x1="216.8" y1="143.8" x2="216.8" y2="145.2" stroke="#333" stroke-width="0.5"/>
<line x1="218.4" y1="143.8" x2="218.4" y2="145.2" stroke="#333" stroke-width="0.5"/>
<line x1="220" y1="143.8" x2="220" y2="145.2" stroke="#333" stroke-width="0.5"/>
<line x1="221.6" y1="143.8" x2="221.6" y2="145.2" stroke="#333" stroke-width="0.5"/>
<line x1="223.2" y1="143.8" x2="223.2" y2="145.2" stroke="#333" stroke-width="0.5"/>
<line x1="224.8" y1="143.8" x2="224.8" y2="145.2" stroke="#333" stroke-width="0.5"/>
<clipPath id="ca4"><rect x="229.7" y="97.6" width="43.2" height="46.2"/></clipPath>
<g clip-path="url(#ca4)">
<line x1="229.7" y1="120" x2="272.9" y2="120" stroke="#a2bd8a" stroke-width="0.85"/>
<line x1="229.7" y1="131.8" x2="272.9" y2="131.8" stroke="#4a5676" stroke-width="0.85"/>
<path d="M229.7,120 L229.7,120 L230.42,120 L231.14,120 L231.86,120 L232.58,120 L233.3,119.99 L234.02,119.97 L234.74,119.86 L235.46,119.52 L236.18,118.6 L236.9,116.6 L237.62,113.1 L238.34,108.3 L239.06,103.41 L239.78,100.35 L240.5,100.55 L241.22,103.9 L241.94,108.87 L242.66,113.56 L243.38,116.89 L244.1,118.74 L244.82,119.58 L245.54,119.88 L246.26,119.97 L246.98,119.99 L247.7,120 L248.42,120 L249.14,120 L249.86,120 L250.58,120 L251.3,120 L252.02,120 L252.74,120 L253.46,120 L254.18,120 L254.9,120 L255.62,120 L256.34,120 L257.06,120 L257.78,120 L258.5,120 L259.22,120 L259.94,120 L260.66,120 L261.38,120 L262.1,120 L262.82,120 L263.54,120 L264.26,120 L264.98,120 L265.7,120 L266.42,120 L267.14,120 L267.86,120 L268.58,120 L269.3,120 L270.02,120 L270.74,120 L271.46,120 L272.18,120 L272.9,120 L272.9,120" fill="none" stroke="#7ea85e" stroke-width="0.75"/>
<path d="M229.7,131.8 L229.7,131.8 L230.42,131.79 L231.14,131.77 L231.86,131.71 L232.58,131.58 L233.3,131.3 L234.02,130.75 L234.74,129.77 L235.46,128.19 L236.18,125.89 L236.9,122.9 L237.62,119.45 L238.34,116.03 L239.06,113.27 L239.78,111.76 L240.5,111.86 L241.22,113.53 L241.94,116.39 L242.66,119.84 L243.38,123.26 L244.1,126.18 L244.82,128.4 L245.54,129.91 L246.26,130.83 L246.98,131.34 L247.7,131.6 L248.42,131.72 L249.14,131.77 L249.86,131.79 L250.58,131.8 L251.3,131.8 L252.02,131.8 L252.74,131.8 L253.46,131.8 L254.18,131.8 L254.9,131.8 L255.62,131.8 L256.34,131.8 L257.06,131.8 L257.78,131.8 L258.5,131.8 L259.22,131.8 L259.94,131.8 L260.66,131.8 L261.38,131.8 L262.1,131.8 L262.82,131.8 L263.54,131.8 L264.26,131.8 L264.98,131.8 L265.7,131.8 L266.42,131.8 L267.14,131.8 L267.86,131.8 L268.58,131.8 L269.3,131.8 L270.02,131.8 L270.74,131.8 L271.46,131.8 L272.18,131.8 L272.9,131.8 L272.9,131.8 Z" fill="#2c4f8e" stroke="#27427a" stroke-width="0.4"/>
<path d="M229.7,143.8 L229.7,143.8 L230.42,143.79 L231.14,143.78 L231.86,143.74 L232.58,143.64 L233.3,143.4 L234.02,142.91 L234.74,141.98 L235.46,140.41 L236.18,138 L236.9,134.76 L237.62,130.9 L238.34,126.99 L239.06,123.77 L239.78,121.99 L240.5,122.1 L241.22,124.07 L241.94,127.4 L242.66,131.34 L243.38,135.15 L244.1,138.31 L244.82,140.62 L245.54,142.11 L246.26,142.98 L246.98,143.44 L247.7,143.65 L248.42,143.75 L249.14,143.78 L249.86,143.79 L250.58,143.8 L251.3,143.8 L252.02,143.8 L252.74,143.8 L253.46,143.8 L254.18,143.8 L254.9,143.8 L255.62,143.8 L256.34,143.8 L257.06,143.8 L257.78,143.8 L258.5,143.8 L259.22,143.8 L259.94,143.8 L260.66,143.8 L261.38,143.8 L262.1,143.8 L262.82,143.8 L263.54,143.8 L264.26,143.8 L264.98,143.8 L265.7,143.8 L266.42,143.8 L267.14,143.8 L267.86,143.8 L268.58,143.8 L269.3,143.8 L270.02,143.8 L270.74,143.8 L271.46,143.8 L272.18,143.8 L272.9,143.8 L272.9,143.8 Z" fill="#c8113c" stroke="#a80e33" stroke-width="0.4"/>
</g>
<rect x="229.7" y="97.6" width="43.2" height="46.2" fill="none" stroke="#1a1a1a" stroke-width="1.1"/>
<line x1="237.1" y1="143.8" x2="237.1" y2="145.8" stroke="#111" stroke-width="0.8"/>
<line x1="248.5" y1="143.8" x2="248.5" y2="145.8" stroke="#111" stroke-width="0.8"/>
<line x1="259.1" y1="143.8" x2="259.1" y2="145.8" stroke="#111" stroke-width="0.8"/>
<line x1="269.1" y1="143.8" x2="269.1" y2="145.8" stroke="#111" stroke-width="0.8"/>
<line x1="231.7" y1="143.8" x2="231.7" y2="145.2" stroke="#333" stroke-width="0.5"/>
<line x1="233.3" y1="143.8" x2="233.3" y2="145.2" stroke="#333" stroke-width="0.5"/>
<line x1="234.9" y1="143.8" x2="234.9" y2="145.2" stroke="#333" stroke-width="0.5"/>
<line x1="236.5" y1="143.8" x2="236.5" y2="145.2" stroke="#333" stroke-width="0.5"/>
<line x1="238.1" y1="143.8" x2="238.1" y2="145.2" stroke="#333" stroke-width="0.5"/>
<line x1="239.7" y1="143.8" x2="239.7" y2="145.2" stroke="#333" stroke-width="0.5"/>
<line x1="241.3" y1="143.8" x2="241.3" y2="145.2" stroke="#333" stroke-width="0.5"/>
<line x1="242.9" y1="143.8" x2="242.9" y2="145.2" stroke="#333" stroke-width="0.5"/>
<line x1="244.5" y1="143.8" x2="244.5" y2="145.2" stroke="#333" stroke-width="0.5"/>
<line x1="246.1" y1="143.8" x2="246.1" y2="145.2" stroke="#333" stroke-width="0.5"/>
<line x1="247.7" y1="143.8" x2="247.7" y2="145.2" stroke="#333" stroke-width="0.5"/>
<line x1="249.3" y1="143.8" x2="249.3" y2="145.2" stroke="#333" stroke-width="0.5"/>
<line x1="250.9" y1="143.8" x2="250.9" y2="145.2" stroke="#333" stroke-width="0.5"/>
<line x1="252.5" y1="143.8" x2="252.5" y2="145.2" stroke="#333" stroke-width="0.5"/>
<line x1="254.1" y1="143.8" x2="254.1" y2="145.2" stroke="#333" stroke-width="0.5"/>
<line x1="255.7" y1="143.8" x2="255.7" y2="145.2" stroke="#333" stroke-width="0.5"/>
<line x1="257.3" y1="143.8" x2="257.3" y2="145.2" stroke="#333" stroke-width="0.5"/>
<line x1="258.9" y1="143.8" x2="258.9" y2="145.2" stroke="#333" stroke-width="0.5"/>
<line x1="260.5" y1="143.8" x2="260.5" y2="145.2" stroke="#333" stroke-width="0.5"/>
<line x1="262.1" y1="143.8" x2="262.1" y2="145.2" stroke="#333" stroke-width="0.5"/>
<line x1="263.7" y1="143.8" x2="263.7" y2="145.2" stroke="#333" stroke-width="0.5"/>
<line x1="265.3" y1="143.8" x2="265.3" y2="145.2" stroke="#333" stroke-width="0.5"/>
<line x1="266.9" y1="143.8" x2="266.9" y2="145.2" stroke="#333" stroke-width="0.5"/>
<line x1="268.5" y1="143.8" x2="268.5" y2="145.2" stroke="#333" stroke-width="0.5"/>
<line x1="270.1" y1="143.8" x2="270.1" y2="145.2" stroke="#333" stroke-width="0.5"/>
<text x="48.4" y="20.7" font-size="5.6" text-anchor="start" font-weight="normal" fill="#111" textLength="8.8" lengthAdjust="spacingAndGlyphs">HD</text>
<text x="48.4" y="94.7" font-size="5.4" text-anchor="start" font-weight="bold" fill="#222" textLength="9.6" lengthAdjust="spacingAndGlyphs">CLL</text>
<text x="46.9" y="47.7" font-size="5.6" text-anchor="end" font-weight="normal" fill="#1a1a1a" textLength="41.8" lengthAdjust="spacingAndGlyphs" stroke="#1a1a1a" stroke-width="0.25">Autofluorescence</text>
<text x="46.9" y="59.2" font-size="5.6" text-anchor="end" font-weight="normal" fill="#1a1a1a" textLength="32.9" lengthAdjust="spacingAndGlyphs" stroke="#1a1a1a" stroke-width="0.25">Unmodulated</text>
<text x="46.9" y="69.8" font-size="5.6" text-anchor="end" fill="#1a1a1a" stroke="#1a1a1a" stroke-width="0.25" textLength="39.9" lengthAdjust="spacingAndGlyphs">H<tspan dy="1.3" font-size="3.6">2</tspan><tspan dy="-1.3">O</tspan><tspan dy="1.3" font-size="3.6">2</tspan><tspan dy="-1.3"> modulated</tspan></text>
<text x="46.9" y="121.2" font-size="5.6" text-anchor="end" font-weight="normal" fill="#1a1a1a" textLength="41.8" lengthAdjust="spacingAndGlyphs" stroke="#1a1a1a" stroke-width="0.25">Autofluorescence</text>
<text x="46.9" y="132.7" font-size="5.6" text-anchor="end" font-weight="normal" fill="#1a1a1a" textLength="32.9" lengthAdjust="spacingAndGlyphs" stroke="#1a1a1a" stroke-width="0.25">Unmodulated</text>
<text x="46.9" y="143.3" font-size="5.6" text-anchor="end" fill="#1a1a1a" stroke="#1a1a1a" stroke-width="0.25" textLength="39.9" lengthAdjust="spacingAndGlyphs">H<tspan dy="1.3" font-size="3.6">2</tspan><tspan dy="-1.3">O</tspan><tspan dy="1.3" font-size="3.6">2</tspan><tspan dy="-1.3"> modulated</tspan></text>
<text x="55.7" y="78.8" font-size="4.3" text-anchor="middle" fill="#1a1a1a" stroke="#1a1a1a" stroke-width="0.12">0</text>
<text x="67.1" y="78.8" font-size="4.3" text-anchor="middle" fill="#1a1a1a" stroke="#1a1a1a" stroke-width="0.12">10<tspan dy="-1.5" font-size="2.5">3</tspan></text>
<text x="77.7" y="78.8" font-size="4.3" text-anchor="middle" fill="#1a1a1a" stroke="#1a1a1a" stroke-width="0.12">10<tspan dy="-1.5" font-size="2.5">4</tspan></text>
<text x="87.7" y="78.8" font-size="4.3" text-anchor="middle" fill="#1a1a1a" stroke="#1a1a1a" stroke-width="0.12">10<tspan dy="-1.5" font-size="2.5">5</tspan></text>
<text x="55.7" y="151.6" font-size="4.3" text-anchor="middle" fill="#1a1a1a" stroke="#1a1a1a" stroke-width="0.12">0</text>
<text x="67.1" y="151.6" font-size="4.3" text-anchor="middle" fill="#1a1a1a" stroke="#1a1a1a" stroke-width="0.12">10<tspan dy="-1.5" font-size="2.5">3</tspan></text>
<text x="77.7" y="151.6" font-size="4.3" text-anchor="middle" fill="#1a1a1a" stroke="#1a1a1a" stroke-width="0.12">10<tspan dy="-1.5" font-size="2.5">4</tspan></text>
<text x="87.7" y="151.6" font-size="4.3" text-anchor="middle" fill="#1a1a1a" stroke="#1a1a1a" stroke-width="0.12">10<tspan dy="-1.5" font-size="2.5">5</tspan></text>
<text x="69.9" y="86.8" font-size="6.1" text-anchor="middle" font-weight="normal" fill="#1a1a1a" textLength="12" lengthAdjust="spacingAndGlyphs" stroke="#1a1a1a" stroke-width="0.15">pSYK</text>
<text x="69.9" y="160.3" font-size="6.1" text-anchor="middle" font-weight="normal" fill="#1a1a1a" textLength="12" lengthAdjust="spacingAndGlyphs" stroke="#1a1a1a" stroke-width="0.15">pSYK</text>
<text x="101" y="78.8" font-size="4.3" text-anchor="middle" fill="#1a1a1a" stroke="#1a1a1a" stroke-width="0.12">0</text>
<text x="112.4" y="78.8" font-size="4.3" text-anchor="middle" fill="#1a1a1a" stroke="#1a1a1a" stroke-width="0.12">10<tspan dy="-1.5" font-size="2.5">3</tspan></text>
<text x="123" y="78.8" font-size="4.3" text-anchor="middle" fill="#1a1a1a" stroke="#1a1a1a" stroke-width="0.12">10<tspan dy="-1.5" font-size="2.5">4</tspan></text>
<text x="133" y="78.8" font-size="4.3" text-anchor="middle" fill="#1a1a1a" stroke="#1a1a1a" stroke-width="0.12">10<tspan dy="-1.5" font-size="2.5">5</tspan></text>
<text x="101" y="151.6" font-size="4.3" text-anchor="middle" fill="#1a1a1a" stroke="#1a1a1a" stroke-width="0.12">0</text>
<text x="112.4" y="151.6" font-size="4.3" text-anchor="middle" fill="#1a1a1a" stroke="#1a1a1a" stroke-width="0.12">10<tspan dy="-1.5" font-size="2.5">3</tspan></text>
<text x="123" y="151.6" font-size="4.3" text-anchor="middle" fill="#1a1a1a" stroke="#1a1a1a" stroke-width="0.12">10<tspan dy="-1.5" font-size="2.5">4</tspan></text>
<text x="133" y="151.6" font-size="4.3" text-anchor="middle" fill="#1a1a1a" stroke="#1a1a1a" stroke-width="0.12">10<tspan dy="-1.5" font-size="2.5">5</tspan></text>
<text x="115.2" y="86.8" font-size="6.1" text-anchor="middle" font-weight="normal" fill="#1a1a1a" textLength="21.3" lengthAdjust="spacingAndGlyphs" stroke="#1a1a1a" stroke-width="0.15">pERK1/2</text>
<text x="115.2" y="160.3" font-size="6.1" text-anchor="middle" font-weight="normal" fill="#1a1a1a" textLength="21.3" lengthAdjust="spacingAndGlyphs" stroke="#1a1a1a" stroke-width="0.15">pERK1/2</text>
<text x="146.4" y="78.8" font-size="4.3" text-anchor="middle" fill="#1a1a1a" stroke="#1a1a1a" stroke-width="0.12">0</text>
<text x="157.8" y="78.8" font-size="4.3" text-anchor="middle" fill="#1a1a1a" stroke="#1a1a1a" stroke-width="0.12">10<tspan dy="-1.5" font-size="2.5">3</tspan></text>
<text x="168.4" y="78.8" font-size="4.3" text-anchor="middle" fill="#1a1a1a" stroke="#1a1a1a" stroke-width="0.12">10<tspan dy="-1.5" font-size="2.5">4</tspan></text>
<text x="178.4" y="78.8" font-size="4.3" text-anchor="middle" fill="#1a1a1a" stroke="#1a1a1a" stroke-width="0.12">10<tspan dy="-1.5" font-size="2.5">5</tspan></text>
<text x="146.4" y="151.6" font-size="4.3" text-anchor="middle" fill="#1a1a1a" stroke="#1a1a1a" stroke-width="0.12">0</text>
<text x="157.8" y="151.6" font-size="4.3" text-anchor="middle" fill="#1a1a1a" stroke="#1a1a1a" stroke-width="0.12">10<tspan dy="-1.5" font-size="2.5">3</tspan></text>
<text x="168.4" y="151.6" font-size="4.3" text-anchor="middle" fill="#1a1a1a" stroke="#1a1a1a" stroke-width="0.12">10<tspan dy="-1.5" font-size="2.5">4</tspan></text>
<text x="178.4" y="151.6" font-size="4.3" text-anchor="middle" fill="#1a1a1a" stroke="#1a1a1a" stroke-width="0.12">10<tspan dy="-1.5" font-size="2.5">5</tspan></text>
<text x="160.6" y="86.8" font-size="6.1" text-anchor="middle" font-weight="normal" fill="#1a1a1a" textLength="13.4" lengthAdjust="spacingAndGlyphs" stroke="#1a1a1a" stroke-width="0.15">pp38</text>
<text x="160.6" y="160.3" font-size="6.1" text-anchor="middle" font-weight="normal" fill="#1a1a1a" textLength="13.4" lengthAdjust="spacingAndGlyphs" stroke="#1a1a1a" stroke-width="0.15">pp38</text>
<text x="191.8" y="78.8" font-size="4.3" text-anchor="middle" fill="#1a1a1a" stroke="#1a1a1a" stroke-width="0.12">0</text>
<text x="203.2" y="78.8" font-size="4.3" text-anchor="middle" fill="#1a1a1a" stroke="#1a1a1a" stroke-width="0.12">10<tspan dy="-1.5" font-size="2.5">3</tspan></text>
<text x="213.8" y="78.8" font-size="4.3" text-anchor="middle" fill="#1a1a1a" stroke="#1a1a1a" stroke-width="0.12">10<tspan dy="-1.5" font-size="2.5">4</tspan></text>
<text x="223.8" y="78.8" font-size="4.3" text-anchor="middle" fill="#1a1a1a" stroke="#1a1a1a" stroke-width="0.12">10<tspan dy="-1.5" font-size="2.5">5</tspan></text>
<text x="191.8" y="151.6" font-size="4.3" text-anchor="middle" fill="#1a1a1a" stroke="#1a1a1a" stroke-width="0.12">0</text>
<text x="203.2" y="151.6" font-size="4.3" text-anchor="middle" fill="#1a1a1a" stroke="#1a1a1a" stroke-width="0.12">10<tspan dy="-1.5" font-size="2.5">3</tspan></text>
<text x="213.8" y="151.6" font-size="4.3" text-anchor="middle" fill="#1a1a1a" stroke="#1a1a1a" stroke-width="0.12">10<tspan dy="-1.5" font-size="2.5">4</tspan></text>
<text x="223.8" y="151.6" font-size="4.3" text-anchor="middle" fill="#1a1a1a" stroke="#1a1a1a" stroke-width="0.12">10<tspan dy="-1.5" font-size="2.5">5</tspan></text>
<text x="206" y="86.8" font-size="6.1" text-anchor="middle" font-weight="normal" fill="#1a1a1a" textLength="27.2" lengthAdjust="spacingAndGlyphs" stroke="#1a1a1a" stroke-width="0.15">pNF-κB p65</text>
<text x="206" y="160.3" font-size="6.1" text-anchor="middle" font-weight="normal" fill="#1a1a1a" textLength="27.2" lengthAdjust="spacingAndGlyphs" stroke="#1a1a1a" stroke-width="0.15">pNF-κB p65</text>
<text x="232" y="78.8" font-size="4.3" text-anchor="middle" fill="#1a1a1a" stroke="#1a1a1a" stroke-width="0.12">-10<tspan dy="-1.5" font-size="2.5">3</tspan></text>
<text x="239.4" y="78.8" font-size="4.3" text-anchor="middle" fill="#1a1a1a" stroke="#1a1a1a" stroke-width="0.12">0</text>
<text x="246.2" y="78.8" font-size="4.3" text-anchor="middle" fill="#1a1a1a" stroke="#1a1a1a" stroke-width="0.12">10<tspan dy="-1.5" font-size="2.5">3</tspan></text>
<text x="258.3" y="78.8" font-size="4.3" text-anchor="middle" fill="#1a1a1a" stroke="#1a1a1a" stroke-width="0.12">10<tspan dy="-1.5" font-size="2.5">4</tspan></text>
<text x="268.2" y="78.8" font-size="4.3" text-anchor="middle" fill="#1a1a1a" stroke="#1a1a1a" stroke-width="0.12">10<tspan dy="-1.5" font-size="2.5">5</tspan></text>
<text x="232" y="151.6" font-size="4.3" text-anchor="middle" fill="#1a1a1a" stroke="#1a1a1a" stroke-width="0.12">-10<tspan dy="-1.5" font-size="2.5">3</tspan></text>
<text x="239.4" y="151.6" font-size="4.3" text-anchor="middle" fill="#1a1a1a" stroke="#1a1a1a" stroke-width="0.12">0</text>
<text x="246.2" y="151.6" font-size="4.3" text-anchor="middle" fill="#1a1a1a" stroke="#1a1a1a" stroke-width="0.12">10<tspan dy="-1.5" font-size="2.5">3</tspan></text>
<text x="258.3" y="151.6" font-size="4.3" text-anchor="middle" fill="#1a1a1a" stroke="#1a1a1a" stroke-width="0.12">10<tspan dy="-1.5" font-size="2.5">4</tspan></text>
<text x="268.2" y="151.6" font-size="4.3" text-anchor="middle" fill="#1a1a1a" stroke="#1a1a1a" stroke-width="0.12">10<tspan dy="-1.5" font-size="2.5">5</tspan></text>
<text x="251.3" y="86.8" font-size="6.1" text-anchor="middle" font-weight="normal" fill="#1a1a1a" textLength="12" lengthAdjust="spacingAndGlyphs" stroke="#1a1a1a" stroke-width="0.15">pJNK</text>
<text x="251.3" y="160.3" font-size="6.1" text-anchor="middle" font-weight="normal" fill="#1a1a1a" textLength="12" lengthAdjust="spacingAndGlyphs" stroke="#1a1a1a" stroke-width="0.15">pJNK</text>
<line x1="329.6" y1="9.6" x2="329.6" y2="108.3" stroke="#111" stroke-width="1.0"/>
<line x1="326.7" y1="12.3" x2="329.6" y2="12.3" stroke="#111" stroke-width="1.0"/>
<text x="324.1" y="14.5" font-size="6.4" text-anchor="end" font-weight="normal" fill="#222" stroke="#222" stroke-width="0.15">10</text>
<line x1="326.7" y1="31.4" x2="329.6" y2="31.4" stroke="#111" stroke-width="1.0"/>
<text x="324.1" y="33.6" font-size="6.4" text-anchor="end" font-weight="normal" fill="#222" stroke="#222" stroke-width="0.15">8</text>
<line x1="326.7" y1="50.5" x2="329.6" y2="50.5" stroke="#111" stroke-width="1.0"/>
<text x="324.1" y="52.7" font-size="6.4" text-anchor="end" font-weight="normal" fill="#222" stroke="#222" stroke-width="0.15">6</text>
<line x1="326.7" y1="69.6" x2="329.6" y2="69.6" stroke="#111" stroke-width="1.0"/>
<text x="324.1" y="71.8" font-size="6.4" text-anchor="end" font-weight="normal" fill="#222" stroke="#222" stroke-width="0.15">4</text>
<line x1="326.7" y1="88.7" x2="329.6" y2="88.7" stroke="#111" stroke-width="1.0"/>
<text x="324.1" y="90.9" font-size="6.4" text-anchor="end" font-weight="normal" fill="#222" stroke="#222" stroke-width="0.15">2</text>
<line x1="326.7" y1="107.8" x2="329.6" y2="107.8" stroke="#111" stroke-width="1.0"/>
<text x="324.1" y="110" font-size="6.4" text-anchor="end" font-weight="normal" fill="#222" stroke="#222" stroke-width="0.15">0</text>
<line x1="329.1" y1="107.8" x2="492" y2="107.8" stroke="#111" stroke-width="1.0"/>
<line x1="343.8" y1="107.8" x2="343.8" y2="110.6" stroke="#111" stroke-width="1.0"/>
<text x="343.8" y="119.8" font-size="6.6" text-anchor="middle" font-weight="normal" fill="#222" textLength="15.8" lengthAdjust="spacingAndGlyphs" stroke="#222" stroke-width="0.12">pSYK</text>
<line x1="377" y1="107.8" x2="377" y2="110.6" stroke="#111" stroke-width="1.0"/>
<text x="377" y="119.8" font-size="6.6" text-anchor="middle" font-weight="normal" fill="#222" textLength="24.8" lengthAdjust="spacingAndGlyphs" stroke="#222" stroke-width="0.12">pERK1/2</text>
<line x1="410.3" y1="107.8" x2="410.3" y2="110.6" stroke="#111" stroke-width="1.0"/>
<text x="410.3" y="119.8" font-size="6.6" text-anchor="middle" font-weight="normal" fill="#222" textLength="12.8" lengthAdjust="spacingAndGlyphs" stroke="#222" stroke-width="0.12">pp38</text>
<line x1="443.5" y1="107.8" x2="443.5" y2="110.6" stroke="#111" stroke-width="1.0"/>
<text x="443.5" y="119.8" font-size="6.6" text-anchor="middle" font-weight="normal" fill="#222" textLength="36" lengthAdjust="spacingAndGlyphs" stroke="#222" stroke-width="0.12">pNF-κB p65</text>
<line x1="476.7" y1="107.8" x2="476.7" y2="110.6" stroke="#111" stroke-width="1.0"/>
<text x="476.7" y="119.8" font-size="6.6" text-anchor="middle" font-weight="normal" fill="#222" textLength="16.8" lengthAdjust="spacingAndGlyphs" stroke="#222" stroke-width="0.12">pJNK</text>
<text x="301.2" y="58.3" font-size="7.0" text-anchor="middle" font-weight="normal" fill="#222" textLength="62.4" lengthAdjust="spacingAndGlyphs" transform="rotate(-90 301.2 58.3)" stroke="#222" stroke-width="0.18">Unmodulated signal</text>
<text x="309.8" y="58.3" font-size="7.0" text-anchor="middle" font-weight="normal" fill="#222" textLength="83.8" lengthAdjust="spacingAndGlyphs" transform="rotate(-90 309.8 58.3)" stroke="#222" stroke-width="0.18">(log2Fold autofluorescence)</text>
<circle cx="337.5" cy="91.3" r="1.6" fill="#2a2a2e" stroke="#111" stroke-width="0.55"/>
<circle cx="339.6" cy="92.27" r="1.6" fill="#2a2a2e" stroke="#111" stroke-width="0.55"/>
<circle cx="335.4" cy="92.35" r="1.6" fill="#2a2a2e" stroke="#111" stroke-width="0.55"/>
<circle cx="335.48" cy="92.5" r="1.6" fill="#2a2a2e" stroke="#111" stroke-width="0.55"/>
<circle cx="337.58" cy="92.62" r="1.6" fill="#2a2a2e" stroke="#111" stroke-width="0.55"/>
<circle cx="338.33" cy="92.66" r="1.6" fill="#2a2a2e" stroke="#111" stroke-width="0.55"/>
<circle cx="350.2" cy="34.26" r="1.6" fill="#1c2b50" stroke="#111" stroke-width="0.55"/>
<circle cx="350.2" cy="40.95" r="1.6" fill="#1c2b50" stroke="#111" stroke-width="0.55"/>
<circle cx="352.6" cy="41.9" r="1.6" fill="#1c2b50" stroke="#111" stroke-width="0.55"/>
<circle cx="350.2" cy="45.72" r="1.6" fill="#1c2b50" stroke="#111" stroke-width="0.55"/>
<circle cx="350.2" cy="54.41" r="1.6" fill="#1c2b50" stroke="#111" stroke-width="0.55"/>
<circle cx="350.2" cy="58.88" r="1.6" fill="#1c2b50" stroke="#111" stroke-width="0.55"/>
<circle cx="352.6" cy="59.43" r="1.6" fill="#1c2b50" stroke="#111" stroke-width="0.55"/>
<circle cx="348.1" cy="60.05" r="1.6" fill="#1c2b50" stroke="#111" stroke-width="0.55"/>
<circle cx="350.2" cy="62.21" r="1.6" fill="#1c2b50" stroke="#111" stroke-width="0.55"/>
<circle cx="352.6" cy="62.44" r="1.6" fill="#1c2b50" stroke="#111" stroke-width="0.55"/>
<circle cx="347.8" cy="62.92" r="1.6" fill="#1c2b50" stroke="#111" stroke-width="0.55"/>
<circle cx="354.7" cy="63.81" r="1.6" fill="#1c2b50" stroke="#111" stroke-width="0.55"/>
<circle cx="345.7" cy="64.39" r="1.6" fill="#1c2b50" stroke="#111" stroke-width="0.55"/>
<circle cx="350.2" cy="69.32" r="1.6" fill="#1c2b50" stroke="#111" stroke-width="0.55"/>
<circle cx="352.3" cy="70.61" r="1.6" fill="#1c2b50" stroke="#111" stroke-width="0.55"/>
<circle cx="349" cy="71.42" r="1.6" fill="#1c2b50" stroke="#111" stroke-width="0.55"/>
<circle cx="350.2" cy="73.85" r="1.6" fill="#1c2b50" stroke="#111" stroke-width="0.55"/>
<circle cx="352.6" cy="74.58" r="1.6" fill="#1c2b50" stroke="#111" stroke-width="0.55"/>
<circle cx="348.1" cy="74.96" r="1.6" fill="#1c2b50" stroke="#111" stroke-width="0.55"/>
<circle cx="350.2" cy="86.06" r="1.6" fill="#1c2b50" stroke="#111" stroke-width="0.55"/>
<circle cx="352.6" cy="86.27" r="1.6" fill="#1c2b50" stroke="#111" stroke-width="0.55"/>
<circle cx="349" cy="88.2" r="1.6" fill="#1c2b50" stroke="#111" stroke-width="0.55"/>
<circle cx="351.4" cy="88.41" r="1.6" fill="#1c2b50" stroke="#111" stroke-width="0.55"/>
<circle cx="353.5" cy="89.64" r="1.6" fill="#1c2b50" stroke="#111" stroke-width="0.55"/>
<circle cx="347.5" cy="90.13" r="1.6" fill="#1c2b50" stroke="#111" stroke-width="0.55"/>
<circle cx="350.2" cy="94.48" r="1.6" fill="#1c2b50" stroke="#111" stroke-width="0.55"/>
<circle cx="350.2" cy="97.08" r="1.6" fill="#1c2b50" stroke="#111" stroke-width="0.55"/>
<circle cx="352.6" cy="97.12" r="1.6" fill="#1c2b50" stroke="#111" stroke-width="0.55"/>
<circle cx="347.8" cy="97.73" r="1.6" fill="#1c2b50" stroke="#111" stroke-width="0.55"/>
<circle cx="370.2" cy="102.08" r="1.6" fill="#2a2a2e" stroke="#111" stroke-width="0.55"/>
<circle cx="372.6" cy="102.08" r="1.6" fill="#2a2a2e" stroke="#111" stroke-width="0.55"/>
<circle cx="367.8" cy="102.6" r="1.6" fill="#2a2a2e" stroke="#111" stroke-width="0.55"/>
<circle cx="369.02" cy="103.05" r="1.6" fill="#2a2a2e" stroke="#111" stroke-width="0.55"/>
<circle cx="368.47" cy="103.88" r="1.6" fill="#2a2a2e" stroke="#111" stroke-width="0.55"/>
<circle cx="370.8" cy="104.48" r="1.6" fill="#2a2a2e" stroke="#111" stroke-width="0.55"/>
<circle cx="383.4" cy="99.94" r="1.6" fill="#1c2b50" stroke="#111" stroke-width="0.55"/>
<circle cx="385.8" cy="100.63" r="1.6" fill="#1c2b50" stroke="#111" stroke-width="0.55"/>
<circle cx="381" cy="100.63" r="1.6" fill="#1c2b50" stroke="#111" stroke-width="0.55"/>
<circle cx="381.54" cy="101.13" r="1.6" fill="#1c2b50" stroke="#111" stroke-width="0.55"/>
<circle cx="383.4" cy="103.4" r="1.6" fill="#1c2b50" stroke="#111" stroke-width="0.55"/>
<circle cx="385.8" cy="103.49" r="1.6" fill="#1c2b50" stroke="#111" stroke-width="0.55"/>
<circle cx="381" cy="104.1" r="1.6" fill="#1c2b50" stroke="#111" stroke-width="0.55"/>
<circle cx="384.6" cy="105.45" r="1.6" fill="#1c2b50" stroke="#111" stroke-width="0.55"/>
<circle cx="386.03" cy="105.89" r="1.6" fill="#1c2b50" stroke="#111" stroke-width="0.55"/>
<circle cx="404" cy="87.84" r="1.6" fill="#2a2a2e" stroke="#111" stroke-width="0.55"/>
<circle cx="406.1" cy="88.8" r="1.6" fill="#2a2a2e" stroke="#111" stroke-width="0.55"/>
<circle cx="402.5" cy="89.51" r="1.6" fill="#2a2a2e" stroke="#111" stroke-width="0.55"/>
<circle cx="401.36" cy="90.28" r="1.6" fill="#2a2a2e" stroke="#111" stroke-width="0.55"/>
<circle cx="404.6" cy="90.62" r="1.6" fill="#2a2a2e" stroke="#111" stroke-width="0.55"/>
<circle cx="407" cy="91.23" r="1.6" fill="#2a2a2e" stroke="#111" stroke-width="0.55"/>
<circle cx="402.8" cy="92.17" r="1.6" fill="#2a2a2e" stroke="#111" stroke-width="0.55"/>
<circle cx="416.5" cy="31.4" r="1.6" fill="#1c2b50" stroke="#111" stroke-width="0.55"/>
<circle cx="416.5" cy="58.14" r="1.6" fill="#1c2b50" stroke="#111" stroke-width="0.55"/>
<circle cx="416.5" cy="63.39" r="1.6" fill="#1c2b50" stroke="#111" stroke-width="0.55"/>
<circle cx="416.5" cy="69.28" r="1.6" fill="#1c2b50" stroke="#111" stroke-width="0.55"/>
<circle cx="418.9" cy="69.43" r="1.6" fill="#1c2b50" stroke="#111" stroke-width="0.55"/>
<circle cx="415" cy="71.17" r="1.6" fill="#1c2b50" stroke="#111" stroke-width="0.55"/>
<circle cx="417.4" cy="71.84" r="1.6" fill="#1c2b50" stroke="#111" stroke-width="0.55"/>
<circle cx="419.5" cy="72.96" r="1.6" fill="#1c2b50" stroke="#111" stroke-width="0.55"/>
<circle cx="413.5" cy="73.1" r="1.6" fill="#1c2b50" stroke="#111" stroke-width="0.55"/>
<circle cx="416.2" cy="73.96" r="1.6" fill="#1c2b50" stroke="#111" stroke-width="0.55"/>
<circle cx="417.8" cy="74.53" r="1.6" fill="#1c2b50" stroke="#111" stroke-width="0.55"/>
<circle cx="416.2" cy="76.47" r="1.6" fill="#1c2b50" stroke="#111" stroke-width="0.55"/>
<circle cx="417.7" cy="78.33" r="1.6" fill="#1c2b50" stroke="#111" stroke-width="0.55"/>
<circle cx="416.5" cy="80.78" r="1.6" fill="#1c2b50" stroke="#111" stroke-width="0.55"/>
<circle cx="418.9" cy="81.37" r="1.6" fill="#1c2b50" stroke="#111" stroke-width="0.55"/>
<circle cx="414.4" cy="81.95" r="1.6" fill="#1c2b50" stroke="#111" stroke-width="0.55"/>
<circle cx="416.5" cy="83.3" r="1.6" fill="#1c2b50" stroke="#111" stroke-width="0.55"/>
<circle cx="418.9" cy="83.93" r="1.6" fill="#1c2b50" stroke="#111" stroke-width="0.55"/>
<circle cx="414.4" cy="84.68" r="1.6" fill="#1c2b50" stroke="#111" stroke-width="0.55"/>
<circle cx="421" cy="85.2" r="1.6" fill="#1c2b50" stroke="#111" stroke-width="0.55"/>
<circle cx="416.5" cy="85.93" r="1.6" fill="#1c2b50" stroke="#111" stroke-width="0.55"/>
<circle cx="412.3" cy="85.98" r="1.6" fill="#1c2b50" stroke="#111" stroke-width="0.55"/>
<circle cx="418.9" cy="86.42" r="1.6" fill="#1c2b50" stroke="#111" stroke-width="0.55"/>
<circle cx="412.82" cy="86.71" r="1.6" fill="#1c2b50" stroke="#111" stroke-width="0.55"/>
<circle cx="421" cy="87.73" r="1.6" fill="#1c2b50" stroke="#111" stroke-width="0.55"/>
<circle cx="415.3" cy="88.02" r="1.6" fill="#1c2b50" stroke="#111" stroke-width="0.55"/>
<circle cx="421" cy="88.05" r="1.6" fill="#1c2b50" stroke="#111" stroke-width="0.55"/>
<circle cx="413.86" cy="88.39" r="1.6" fill="#1c2b50" stroke="#111" stroke-width="0.55"/>
<circle cx="417.4" cy="89.29" r="1.6" fill="#1c2b50" stroke="#111" stroke-width="0.55"/>
<circle cx="416.5" cy="99.59" r="1.6" fill="#1c2b50" stroke="#111" stroke-width="0.55"/>
<circle cx="437.5" cy="91.59" r="1.6" fill="#2a2a2e" stroke="#111" stroke-width="0.55"/>
<circle cx="438.7" cy="93.49" r="1.6" fill="#2a2a2e" stroke="#111" stroke-width="0.55"/>
<circle cx="436.3" cy="93.63" r="1.6" fill="#2a2a2e" stroke="#111" stroke-width="0.55"/>
<circle cx="438.03" cy="93.8" r="1.6" fill="#2a2a2e" stroke="#111" stroke-width="0.55"/>
<circle cx="435.86" cy="94.52" r="1.6" fill="#2a2a2e" stroke="#111" stroke-width="0.55"/>
<circle cx="438.15" cy="94.59" r="1.6" fill="#2a2a2e" stroke="#111" stroke-width="0.55"/>
<circle cx="450.3" cy="40.95" r="1.6" fill="#1c2b50" stroke="#111" stroke-width="0.55"/>
<circle cx="450.3" cy="43.81" r="1.6" fill="#1c2b50" stroke="#111" stroke-width="0.55"/>
<circle cx="452.7" cy="44.77" r="1.6" fill="#1c2b50" stroke="#111" stroke-width="0.55"/>
<circle cx="450.3" cy="51.45" r="1.6" fill="#1c2b50" stroke="#111" stroke-width="0.55"/>
<circle cx="450.3" cy="61.96" r="1.6" fill="#1c2b50" stroke="#111" stroke-width="0.55"/>
<circle cx="450.3" cy="68.97" r="1.6" fill="#1c2b50" stroke="#111" stroke-width="0.55"/>
<circle cx="452.7" cy="69.09" r="1.6" fill="#1c2b50" stroke="#111" stroke-width="0.55"/>
<circle cx="447.9" cy="69.4" r="1.6" fill="#1c2b50" stroke="#111" stroke-width="0.55"/>
<circle cx="448.06" cy="69.74" r="1.6" fill="#1c2b50" stroke="#111" stroke-width="0.55"/>
<circle cx="454.5" cy="70.84" r="1.6" fill="#1c2b50" stroke="#111" stroke-width="0.55"/>
<circle cx="450.3" cy="71.74" r="1.6" fill="#1c2b50" stroke="#111" stroke-width="0.55"/>
<circle cx="447.9" cy="72.28" r="1.6" fill="#1c2b50" stroke="#111" stroke-width="0.55"/>
<circle cx="451.2" cy="73.95" r="1.6" fill="#1c2b50" stroke="#111" stroke-width="0.55"/>
<circle cx="450.3" cy="76.65" r="1.6" fill="#1c2b50" stroke="#111" stroke-width="0.55"/>
<circle cx="452.4" cy="77.85" r="1.6" fill="#1c2b50" stroke="#111" stroke-width="0.55"/>
<circle cx="450.3" cy="81.32" r="1.6" fill="#1c2b50" stroke="#111" stroke-width="0.55"/>
<circle cx="452.7" cy="82.32" r="1.6" fill="#1c2b50" stroke="#111" stroke-width="0.55"/>
<circle cx="450.3" cy="85.44" r="1.6" fill="#1c2b50" stroke="#111" stroke-width="0.55"/>
<circle cx="452.7" cy="86.49" r="1.6" fill="#1c2b50" stroke="#111" stroke-width="0.55"/>
<circle cx="449.1" cy="87.58" r="1.6" fill="#1c2b50" stroke="#111" stroke-width="0.55"/>
<circle cx="450.9" cy="89.29" r="1.6" fill="#1c2b50" stroke="#111" stroke-width="0.55"/>
<circle cx="450.3" cy="93.49" r="1.6" fill="#1c2b50" stroke="#111" stroke-width="0.55"/>
<circle cx="452.7" cy="93.87" r="1.6" fill="#1c2b50" stroke="#111" stroke-width="0.55"/>
<circle cx="448.5" cy="95.31" r="1.6" fill="#1c2b50" stroke="#111" stroke-width="0.55"/>
<circle cx="454.5" cy="95.54" r="1.6" fill="#1c2b50" stroke="#111" stroke-width="0.55"/>
<circle cx="450.9" cy="95.78" r="1.6" fill="#1c2b50" stroke="#111" stroke-width="0.55"/>
<circle cx="446.4" cy="96.77" r="1.6" fill="#1c2b50" stroke="#111" stroke-width="0.55"/>
<circle cx="450.3" cy="98.5" r="1.6" fill="#1c2b50" stroke="#111" stroke-width="0.55"/>
<circle cx="451.2" cy="100.74" r="1.6" fill="#1c2b50" stroke="#111" stroke-width="0.55"/>
<circle cx="470.4" cy="101.85" r="1.6" fill="#2a2a2e" stroke="#111" stroke-width="0.55"/>
<circle cx="472.8" cy="101.99" r="1.6" fill="#2a2a2e" stroke="#111" stroke-width="0.55"/>
<circle cx="468" cy="102.17" r="1.6" fill="#2a2a2e" stroke="#111" stroke-width="0.55"/>
<circle cx="468.66" cy="102.6" r="1.6" fill="#2a2a2e" stroke="#111" stroke-width="0.55"/>
<circle cx="470.78" cy="102.77" r="1.6" fill="#2a2a2e" stroke="#111" stroke-width="0.55"/>
<circle cx="472.66" cy="102.93" r="1.6" fill="#2a2a2e" stroke="#111" stroke-width="0.55"/>
<circle cx="482.5" cy="94.43" r="1.6" fill="#1c2b50" stroke="#111" stroke-width="0.55"/>
<circle cx="484.9" cy="95.38" r="1.6" fill="#1c2b50" stroke="#111" stroke-width="0.55"/>
<circle cx="482.5" cy="98.43" r="1.6" fill="#1c2b50" stroke="#111" stroke-width="0.55"/>
<circle cx="484.9" cy="99" r="1.6" fill="#1c2b50" stroke="#111" stroke-width="0.55"/>
<circle cx="480.1" cy="99.24" r="1.6" fill="#1c2b50" stroke="#111" stroke-width="0.55"/>
<circle cx="482.5" cy="101.36" r="1.6" fill="#1c2b50" stroke="#111" stroke-width="0.55"/>
<circle cx="484.9" cy="101.75" r="1.6" fill="#1c2b50" stroke="#111" stroke-width="0.55"/>
<circle cx="480.1" cy="102.13" r="1.6" fill="#1c2b50" stroke="#111" stroke-width="0.55"/>
<circle cx="487" cy="103.28" r="1.6" fill="#1c2b50" stroke="#111" stroke-width="0.55"/>
<circle cx="482.5" cy="103.98" r="1.6" fill="#1c2b50" stroke="#111" stroke-width="0.55"/>
<circle cx="478.6" cy="104.04" r="1.6" fill="#1c2b50" stroke="#111" stroke-width="0.55"/>
<circle cx="484.9" cy="104.78" r="1.6" fill="#1c2b50" stroke="#111" stroke-width="0.55"/>
<circle cx="484.26" cy="104.88" r="1.6" fill="#1c2b50" stroke="#111" stroke-width="0.55"/>
<circle cx="483.28" cy="105.47" r="1.6" fill="#1c2b50" stroke="#111" stroke-width="0.55"/>
<circle cx="480.7" cy="105.72" r="1.6" fill="#1c2b50" stroke="#111" stroke-width="0.55"/>
<circle cx="487" cy="106.13" r="1.6" fill="#1c2b50" stroke="#111" stroke-width="0.55"/>
<circle cx="478.3" cy="106.77" r="1.6" fill="#1c2b50" stroke="#111" stroke-width="0.55"/>
<circle cx="479.19" cy="107.17" r="1.6" fill="#1c2b50" stroke="#111" stroke-width="0.55"/>
<line x1="337.3" y1="28.5" x2="349.8" y2="28.5" stroke="#111" stroke-width="1.0"/>
<text x="343.55" y="29.1" font-size="5.6" text-anchor="middle" font-weight="normal" fill="#222">***</text>
<line x1="401" y1="25.5" x2="413.5" y2="25.5" stroke="#111" stroke-width="1.0"/>
<text x="407.25" y="26.1" font-size="5.6" text-anchor="middle" font-weight="normal" fill="#222">***</text>
<line x1="433.1" y1="35.5" x2="445.5" y2="35.5" stroke="#111" stroke-width="1.0"/>
<text x="439.3" y="36.1" font-size="5.6" text-anchor="middle" font-weight="normal" fill="#222">*</text>
<circle cx="478.4" cy="12.4" r="1.35" fill="#888" stroke="#111" stroke-width="0.9"/>
<circle cx="478.4" cy="20.9" r="1.5" fill="#111" stroke="#111" stroke-width="0.6"/>
<text x="483.3" y="13.9" font-size="4.9" text-anchor="start" font-weight="normal" fill="#2a2a2a" textLength="7.9" lengthAdjust="spacingAndGlyphs">HD</text>
<text x="483.3" y="22.3" font-size="4.9" text-anchor="start" font-weight="normal" fill="#2a2a2a" textLength="9" lengthAdjust="spacingAndGlyphs">CLL</text>
<text x="310.4" y="129" font-size="6.1" font-weight="bold" fill="#111" textLength="27.3" lengthAdjust="spacingAndGlyphs">σ<tspan dy="-2.2" font-size="3.8">2</tspan><tspan dy="2.2"> values</tspan></text>
<line x1="307.5" y1="131.2" x2="307.5" y2="164.2" stroke="#111" stroke-width="1.2"/>
<line x1="325.1" y1="131.2" x2="325.1" y2="164.2" stroke="#111" stroke-width="1.2"/>
<line x1="354.4" y1="131.2" x2="354.4" y2="164.2" stroke="#111" stroke-width="1.2"/>
<line x1="387.6" y1="131.2" x2="387.6" y2="164.2" stroke="#111" stroke-width="1.2"/>
<line x1="419.5" y1="131.2" x2="419.5" y2="164.2" stroke="#111" stroke-width="1.2"/>
<line x1="467.3" y1="131.2" x2="467.3" y2="164.2" stroke="#111" stroke-width="1.2"/>
<line x1="499.6" y1="131.2" x2="499.6" y2="164.2" stroke="#111" stroke-width="1.2"/>
<line x1="306.9" y1="131.8" x2="500.2" y2="131.8" stroke="#111" stroke-width="1.2"/>
<line x1="306.9" y1="142.5" x2="500.2" y2="142.5" stroke="#111" stroke-width="1.2"/>
<line x1="306.9" y1="153.2" x2="500.2" y2="153.2" stroke="#111" stroke-width="1.2"/>
<line x1="306.9" y1="163.6" x2="500.2" y2="163.6" stroke="#111" stroke-width="1.2"/>
<text x="339.75" y="139" font-size="5.9" text-anchor="middle" font-weight="bold" fill="#111" textLength="16.5" lengthAdjust="spacingAndGlyphs">pSYK</text>
<text x="371" y="139" font-size="5.9" text-anchor="middle" font-weight="bold" fill="#111" textLength="26.4" lengthAdjust="spacingAndGlyphs">pERK1/2</text>
<text x="403.55" y="139" font-size="5.9" text-anchor="middle" font-weight="bold" fill="#111" textLength="16.2" lengthAdjust="spacingAndGlyphs">pp38</text>
<text x="443.4" y="139" font-size="5.9" text-anchor="middle" font-weight="bold" fill="#111" textLength="35.6" lengthAdjust="spacingAndGlyphs">pNF-κB p65</text>
<text x="483.45" y="139" font-size="5.9" text-anchor="middle" font-weight="bold" fill="#111" textLength="14.3" lengthAdjust="spacingAndGlyphs">pJNK</text>
<text x="310.9" y="150" font-size="6.3" text-anchor="start" font-weight="bold" fill="#111" textLength="9.6" lengthAdjust="spacingAndGlyphs">HD</text>
<text x="310.9" y="160.4" font-size="6.3" text-anchor="start" font-weight="bold" fill="#111" textLength="10.7" lengthAdjust="spacingAndGlyphs">CLL</text>
<text x="339.75" y="150" font-size="5.9" text-anchor="middle" font-weight="normal" fill="#3a3a3a" textLength="11.6" lengthAdjust="spacingAndGlyphs">0.01</text>
<text x="371" y="150" font-size="5.9" text-anchor="middle" font-weight="normal" fill="#3a3a3a" textLength="11.6" lengthAdjust="spacingAndGlyphs">0.03</text>
<text x="403.55" y="150" font-size="5.9" text-anchor="middle" font-weight="normal" fill="#3a3a3a" textLength="11.6" lengthAdjust="spacingAndGlyphs">0.04</text>
<text x="443.4" y="150" font-size="5.9" text-anchor="middle" font-weight="normal" fill="#3a3a3a" textLength="11.6" lengthAdjust="spacingAndGlyphs">0.03</text>
<text x="483.45" y="150" font-size="5.9" text-anchor="middle" font-weight="normal" fill="#3a3a3a" textLength="11.6" lengthAdjust="spacingAndGlyphs">0.00</text>
<text x="339.75" y="160.4" font-size="5.9" text-anchor="middle" font-weight="normal" fill="#3a3a3a" textLength="11.6" lengthAdjust="spacingAndGlyphs">3.55</text>
<text x="371" y="160.4" font-size="5.9" text-anchor="middle" font-weight="normal" fill="#3a3a3a" textLength="11.6" lengthAdjust="spacingAndGlyphs">0.03</text>
<text x="403.55" y="160.4" font-size="5.9" text-anchor="middle" font-weight="normal" fill="#3a3a3a" textLength="11.6" lengthAdjust="spacingAndGlyphs">1.25</text>
<text x="443.4" y="160.4" font-size="5.9" text-anchor="middle" font-weight="normal" fill="#3a3a3a" textLength="11.6" lengthAdjust="spacingAndGlyphs">2.59</text>
<text x="483.45" y="160.4" font-size="5.9" text-anchor="middle" font-weight="normal" fill="#3a3a3a" textLength="11.6" lengthAdjust="spacingAndGlyphs">0.12</text>
<line x1="65.7" y1="185.6" x2="65.7" y2="273.5" stroke="#111" stroke-width="1.0"/>
<line x1="62.8" y1="187.41" x2="65.7" y2="187.41" stroke="#111" stroke-width="1.0"/>
<text x="59.9" y="189.51" font-size="6.1" text-anchor="end" font-weight="normal" fill="#222" stroke="#222" stroke-width="0.15">15</text>
<line x1="62.8" y1="215.94" x2="65.7" y2="215.94" stroke="#111" stroke-width="1.0"/>
<text x="59.9" y="218.04" font-size="6.1" text-anchor="end" font-weight="normal" fill="#222" stroke="#222" stroke-width="0.15">10</text>
<line x1="62.8" y1="244.47" x2="65.7" y2="244.47" stroke="#111" stroke-width="1.0"/>
<text x="59.9" y="246.57" font-size="6.1" text-anchor="end" font-weight="normal" fill="#222" stroke="#222" stroke-width="0.15">5</text>
<line x1="62.8" y1="273" x2="65.7" y2="273" stroke="#111" stroke-width="1.0"/>
<text x="59.9" y="275.1" font-size="6.1" text-anchor="end" font-weight="normal" fill="#222" stroke="#222" stroke-width="0.15">0</text>
<line x1="328.9" y1="185.6" x2="328.9" y2="273.5" stroke="#111" stroke-width="1.0"/>
<line x1="326" y1="187.41" x2="328.9" y2="187.41" stroke="#111" stroke-width="1.0"/>
<text x="323.1" y="189.51" font-size="6.1" text-anchor="end" font-weight="normal" fill="#222" stroke="#222" stroke-width="0.15">15</text>
<line x1="326" y1="215.94" x2="328.9" y2="215.94" stroke="#111" stroke-width="1.0"/>
<text x="323.1" y="218.04" font-size="6.1" text-anchor="end" font-weight="normal" fill="#222" stroke="#222" stroke-width="0.15">10</text>
<line x1="326" y1="244.47" x2="328.9" y2="244.47" stroke="#111" stroke-width="1.0"/>
<text x="323.1" y="246.57" font-size="6.1" text-anchor="end" font-weight="normal" fill="#222" stroke="#222" stroke-width="0.15">5</text>
<line x1="326" y1="273" x2="328.9" y2="273" stroke="#111" stroke-width="1.0"/>
<text x="323.1" y="275.1" font-size="6.1" text-anchor="end" font-weight="normal" fill="#222" stroke="#222" stroke-width="0.15">0</text>
<text x="141.8" y="181" font-size="7.8" text-anchor="middle" font-weight="normal" fill="#1a1a1a" textLength="12" lengthAdjust="spacingAndGlyphs">HD</text>
<text x="421.6" y="181.4" font-size="7.8" text-anchor="middle" font-weight="normal" fill="#1a1a1a" textLength="15" lengthAdjust="spacingAndGlyphs">CLL</text>
<text x="37.3" y="229" font-size="7.0" text-anchor="middle" font-weight="normal" fill="#222" textLength="73.2" lengthAdjust="spacingAndGlyphs" transform="rotate(-90 37.3 229)" stroke="#222" stroke-width="0.18">Protein phosphorylation</text>
<text x="46.6" y="228.1" font-size="7.0" text-anchor="middle" font-weight="normal" fill="#222" textLength="86" lengthAdjust="spacingAndGlyphs" transform="rotate(-90 46.6 228.1)" stroke="#222" stroke-width="0.18">(log2Fold autofluorescence)</text>
<text x="300.5" y="229" font-size="7.0" text-anchor="middle" font-weight="normal" fill="#222" textLength="73.2" lengthAdjust="spacingAndGlyphs" transform="rotate(-90 300.5 229)" stroke="#222" stroke-width="0.18">Protein phosphorylation</text>
<text x="309.8" y="228.1" font-size="7.0" text-anchor="middle" font-weight="normal" fill="#222" textLength="86" lengthAdjust="spacingAndGlyphs" transform="rotate(-90 309.8 228.1)" stroke="#222" stroke-width="0.18">(log2Fold autofluorescence)</text>
<line x1="65.2" y1="273" x2="217" y2="273" stroke="#111" stroke-width="1.0"/>
<line x1="79.4" y1="273" x2="79.4" y2="275.8" stroke="#111" stroke-width="1.0"/>
<text x="79.4" y="284.5" font-size="6.6" text-anchor="middle" font-weight="normal" fill="#222" textLength="15.8" lengthAdjust="spacingAndGlyphs" stroke="#222" stroke-width="0.12">pSYK</text>
<line x1="110.45" y1="273" x2="110.45" y2="275.8" stroke="#111" stroke-width="1.0"/>
<text x="110.45" y="284.5" font-size="6.6" text-anchor="middle" font-weight="normal" fill="#222" textLength="25.8" lengthAdjust="spacingAndGlyphs" stroke="#222" stroke-width="0.12">pERK1/2</text>
<line x1="141.5" y1="273" x2="141.5" y2="275.8" stroke="#111" stroke-width="1.0"/>
<text x="141.5" y="284.5" font-size="6.6" text-anchor="middle" font-weight="normal" fill="#222" textLength="15.3" lengthAdjust="spacingAndGlyphs" stroke="#222" stroke-width="0.12">pp38</text>
<line x1="172.55" y1="273" x2="172.55" y2="275.8" stroke="#111" stroke-width="1.0"/>
<text x="172.55" y="284.5" font-size="6.6" text-anchor="middle" font-weight="normal" fill="#222" textLength="35.7" lengthAdjust="spacingAndGlyphs" stroke="#222" stroke-width="0.12">pNF-κB p65</text>
<line x1="203.6" y1="273" x2="203.6" y2="275.8" stroke="#111" stroke-width="1.0"/>
<text x="203.6" y="284.5" font-size="6.6" text-anchor="middle" font-weight="normal" fill="#222" textLength="16" lengthAdjust="spacingAndGlyphs" stroke="#222" stroke-width="0.12">pJNK</text>
<line x1="328.4" y1="273" x2="514.6" y2="273" stroke="#111" stroke-width="1.0"/>
<line x1="345.8" y1="273" x2="345.8" y2="275.8" stroke="#111" stroke-width="1.0"/>
<text x="345.8" y="284.2" font-size="6.6" text-anchor="middle" font-weight="normal" fill="#222" textLength="15.8" lengthAdjust="spacingAndGlyphs" stroke="#222" stroke-width="0.12">pSYK</text>
<line x1="383.2" y1="273" x2="383.2" y2="275.8" stroke="#111" stroke-width="1.0"/>
<text x="383.2" y="284.2" font-size="6.6" text-anchor="middle" font-weight="normal" fill="#222" textLength="25.8" lengthAdjust="spacingAndGlyphs" stroke="#222" stroke-width="0.12">pERK1/2</text>
<line x1="420.6" y1="273" x2="420.6" y2="275.8" stroke="#111" stroke-width="1.0"/>
<text x="420.6" y="284.2" font-size="6.6" text-anchor="middle" font-weight="normal" fill="#222" textLength="15.3" lengthAdjust="spacingAndGlyphs" stroke="#222" stroke-width="0.12">pp38</text>
<line x1="458" y1="273" x2="458" y2="275.8" stroke="#111" stroke-width="1.0"/>
<text x="458" y="284.2" font-size="6.6" text-anchor="middle" font-weight="normal" fill="#222" textLength="35.7" lengthAdjust="spacingAndGlyphs" stroke="#222" stroke-width="0.12">pNF-κB p65</text>
<line x1="495.4" y1="273" x2="495.4" y2="275.8" stroke="#111" stroke-width="1.0"/>
<text x="495.4" y="284.2" font-size="6.6" text-anchor="middle" font-weight="normal" fill="#222" textLength="16" lengthAdjust="spacingAndGlyphs" stroke="#222" stroke-width="0.12">pJNK</text>
<circle cx="73.4" cy="263.06" r="1.6" fill="#26331f" stroke="#111" stroke-width="0.55"/>
<circle cx="76.1" cy="263.19" r="1.6" fill="#26331f" stroke="#111" stroke-width="0.55"/>
<circle cx="70.7" cy="263.24" r="1.6" fill="#26331f" stroke="#111" stroke-width="0.55"/>
<circle cx="75.93" cy="263.24" r="1.6" fill="#26331f" stroke="#111" stroke-width="0.55"/>
<circle cx="70.57" cy="263.34" r="1.6" fill="#26331f" stroke="#111" stroke-width="0.55"/>
<circle cx="85.7" cy="261.72" r="1.6" fill="#3d1420" stroke="#111" stroke-width="0.55"/>
<circle cx="88.4" cy="261.81" r="1.6" fill="#3d1420" stroke="#111" stroke-width="0.55"/>
<circle cx="83" cy="262.39" r="1.6" fill="#3d1420" stroke="#111" stroke-width="0.55"/>
<circle cx="85.51" cy="262.81" r="1.6" fill="#3d1420" stroke="#111" stroke-width="0.55"/>
<circle cx="84.18" cy="263.61" r="1.6" fill="#3d1420" stroke="#111" stroke-width="0.55"/>
<circle cx="104.45" cy="269.98" r="1.6" fill="#26331f" stroke="#111" stroke-width="0.55"/>
<circle cx="107.15" cy="270.05" r="1.6" fill="#26331f" stroke="#111" stroke-width="0.55"/>
<circle cx="101.75" cy="270.65" r="1.6" fill="#26331f" stroke="#111" stroke-width="0.55"/>
<circle cx="106.95" cy="270.79" r="1.6" fill="#26331f" stroke="#111" stroke-width="0.55"/>
<circle cx="106.04" cy="271.26" r="1.6" fill="#26331f" stroke="#111" stroke-width="0.55"/>
<circle cx="116.75" cy="264.79" r="1.6" fill="#3d1420" stroke="#111" stroke-width="0.55"/>
<circle cx="119.45" cy="265.1" r="1.6" fill="#3d1420" stroke="#111" stroke-width="0.55"/>
<circle cx="114.35" cy="265.88" r="1.6" fill="#3d1420" stroke="#111" stroke-width="0.55"/>
<circle cx="113.76" cy="265.92" r="1.6" fill="#3d1420" stroke="#111" stroke-width="0.55"/>
<circle cx="118.98" cy="265.94" r="1.6" fill="#3d1420" stroke="#111" stroke-width="0.55"/>
<circle cx="135.5" cy="261.06" r="1.6" fill="#26331f" stroke="#111" stroke-width="0.55"/>
<circle cx="138.2" cy="261.31" r="1.6" fill="#26331f" stroke="#111" stroke-width="0.55"/>
<circle cx="133.4" cy="262.64" r="1.6" fill="#26331f" stroke="#111" stroke-width="0.55"/>
<circle cx="138.27" cy="262.81" r="1.6" fill="#26331f" stroke="#111" stroke-width="0.55"/>
<circle cx="135.74" cy="262.82" r="1.6" fill="#26331f" stroke="#111" stroke-width="0.55"/>
<circle cx="147.8" cy="252.55" r="1.6" fill="#3d1420" stroke="#111" stroke-width="0.55"/>
<circle cx="150.5" cy="252.63" r="1.6" fill="#3d1420" stroke="#111" stroke-width="0.55"/>
<circle cx="145.1" cy="253.34" r="1.6" fill="#3d1420" stroke="#111" stroke-width="0.55"/>
<circle cx="150.16" cy="253.38" r="1.6" fill="#3d1420" stroke="#111" stroke-width="0.55"/>
<circle cx="146.59" cy="254.73" r="1.6" fill="#3d1420" stroke="#111" stroke-width="0.55"/>
<circle cx="166.55" cy="263.62" r="1.6" fill="#26331f" stroke="#111" stroke-width="0.55"/>
<circle cx="169.25" cy="263.75" r="1.6" fill="#26331f" stroke="#111" stroke-width="0.55"/>
<circle cx="163.85" cy="264.06" r="1.6" fill="#26331f" stroke="#111" stroke-width="0.55"/>
<circle cx="167.17" cy="264.11" r="1.6" fill="#26331f" stroke="#111" stroke-width="0.55"/>
<circle cx="163.57" cy="264.29" r="1.6" fill="#26331f" stroke="#111" stroke-width="0.55"/>
<circle cx="178.85" cy="261.48" r="1.6" fill="#3d1420" stroke="#111" stroke-width="0.55"/>
<circle cx="181.55" cy="262.28" r="1.6" fill="#3d1420" stroke="#111" stroke-width="0.55"/>
<circle cx="177.05" cy="263.41" r="1.6" fill="#3d1420" stroke="#111" stroke-width="0.55"/>
<circle cx="179.75" cy="264.22" r="1.6" fill="#3d1420" stroke="#111" stroke-width="0.55"/>
<circle cx="178.74" cy="264.35" r="1.6" fill="#3d1420" stroke="#111" stroke-width="0.55"/>
<circle cx="180.08" cy="264.38" r="1.6" fill="#3d1420" stroke="#111" stroke-width="0.55"/>
<circle cx="197.6" cy="269.89" r="1.6" fill="#26331f" stroke="#111" stroke-width="0.55"/>
<circle cx="200.3" cy="270.15" r="1.6" fill="#26331f" stroke="#111" stroke-width="0.55"/>
<circle cx="194.9" cy="270.94" r="1.6" fill="#26331f" stroke="#111" stroke-width="0.55"/>
<circle cx="199.67" cy="270.98" r="1.6" fill="#26331f" stroke="#111" stroke-width="0.55"/>
<circle cx="209.9" cy="271.59" r="1.6" fill="#3d1420" stroke="#111" stroke-width="0.55"/>
<circle cx="212.6" cy="271.89" r="1.6" fill="#3d1420" stroke="#111" stroke-width="0.55"/>
<circle cx="207.2" cy="272.19" r="1.6" fill="#3d1420" stroke="#111" stroke-width="0.55"/>
<circle cx="207.18" cy="272.69" r="1.6" fill="#3d1420" stroke="#111" stroke-width="0.55"/>
<circle cx="207.99" cy="272.7" r="1.6" fill="#3d1420" stroke="#111" stroke-width="0.55"/>
<line x1="105.5" y1="257.5" x2="117" y2="257.5" stroke="#111" stroke-width="1.0"/>
<text x="111.25" y="258.1" font-size="5.6" text-anchor="middle" font-weight="normal" fill="#222">***</text>
<line x1="136.3" y1="245.5" x2="149.2" y2="245.5" stroke="#111" stroke-width="1.0"/>
<text x="142.75" y="246.1" font-size="5.6" text-anchor="middle" font-weight="normal" fill="#222">***</text>
<circle cx="339" cy="229.63" r="1.6" fill="#55763f" stroke="#111" stroke-width="0.55"/>
<circle cx="339.9" cy="231.92" r="1.6" fill="#55763f" stroke="#111" stroke-width="0.55"/>
<circle cx="339" cy="234.2" r="1.6" fill="#55763f" stroke="#111" stroke-width="0.55"/>
<circle cx="339" cy="240.04" r="1.6" fill="#55763f" stroke="#111" stroke-width="0.55"/>
<circle cx="341.4" cy="240.31" r="1.6" fill="#55763f" stroke="#111" stroke-width="0.55"/>
<circle cx="336.6" cy="240.42" r="1.6" fill="#55763f" stroke="#111" stroke-width="0.55"/>
<circle cx="341.88" cy="240.77" r="1.6" fill="#55763f" stroke="#111" stroke-width="0.55"/>
<circle cx="334.72" cy="240.93" r="1.6" fill="#55763f" stroke="#111" stroke-width="0.55"/>
<circle cx="339.29" cy="241.1" r="1.6" fill="#55763f" stroke="#111" stroke-width="0.55"/>
<circle cx="337.5" cy="242.77" r="1.6" fill="#55763f" stroke="#111" stroke-width="0.55"/>
<circle cx="339.3" cy="244.55" r="1.6" fill="#55763f" stroke="#111" stroke-width="0.55"/>
<circle cx="336.9" cy="245.17" r="1.6" fill="#55763f" stroke="#111" stroke-width="0.55"/>
<circle cx="341.4" cy="245.73" r="1.6" fill="#55763f" stroke="#111" stroke-width="0.55"/>
<circle cx="337.01" cy="245.94" r="1.6" fill="#55763f" stroke="#111" stroke-width="0.55"/>
<circle cx="339" cy="249.87" r="1.6" fill="#55763f" stroke="#111" stroke-width="0.55"/>
<circle cx="340.5" cy="251.74" r="1.6" fill="#55763f" stroke="#111" stroke-width="0.55"/>
<circle cx="338.1" cy="252.32" r="1.6" fill="#55763f" stroke="#111" stroke-width="0.55"/>
<circle cx="339" cy="257.17" r="1.6" fill="#55763f" stroke="#111" stroke-width="0.55"/>
<circle cx="341.4" cy="257.47" r="1.6" fill="#55763f" stroke="#111" stroke-width="0.55"/>
<circle cx="336.6" cy="257.57" r="1.6" fill="#55763f" stroke="#111" stroke-width="0.55"/>
<circle cx="342.83" cy="257.59" r="1.6" fill="#55763f" stroke="#111" stroke-width="0.55"/>
<circle cx="339" cy="261.69" r="1.6" fill="#55763f" stroke="#111" stroke-width="0.55"/>
<circle cx="339" cy="264.21" r="1.6" fill="#55763f" stroke="#111" stroke-width="0.55"/>
<circle cx="341.4" cy="264.69" r="1.6" fill="#55763f" stroke="#111" stroke-width="0.55"/>
<circle cx="337.5" cy="266.25" r="1.6" fill="#55763f" stroke="#111" stroke-width="0.55"/>
<circle cx="352.6" cy="203.39" r="1.6" fill="#611529" stroke="#111" stroke-width="0.55"/>
<circle cx="352.6" cy="209.09" r="1.6" fill="#611529" stroke="#111" stroke-width="0.55"/>
<circle cx="352.6" cy="213.09" r="1.6" fill="#611529" stroke="#111" stroke-width="0.55"/>
<circle cx="352.6" cy="221.65" r="1.6" fill="#611529" stroke="#111" stroke-width="0.55"/>
<circle cx="352.6" cy="226.43" r="1.6" fill="#611529" stroke="#111" stroke-width="0.55"/>
<circle cx="355" cy="227.08" r="1.6" fill="#611529" stroke="#111" stroke-width="0.55"/>
<circle cx="350.5" cy="227.71" r="1.6" fill="#611529" stroke="#111" stroke-width="0.55"/>
<circle cx="352.6" cy="229.95" r="1.6" fill="#611529" stroke="#111" stroke-width="0.55"/>
<circle cx="355" cy="230.84" r="1.6" fill="#611529" stroke="#111" stroke-width="0.55"/>
<circle cx="350.5" cy="231.05" r="1.6" fill="#611529" stroke="#111" stroke-width="0.55"/>
<circle cx="355.08" cy="231.33" r="1.6" fill="#611529" stroke="#111" stroke-width="0.55"/>
<circle cx="350.36" cy="231.71" r="1.6" fill="#611529" stroke="#111" stroke-width="0.55"/>
<circle cx="352.9" cy="232.34" r="1.6" fill="#611529" stroke="#111" stroke-width="0.55"/>
<circle cx="351.4" cy="234.32" r="1.6" fill="#611529" stroke="#111" stroke-width="0.55"/>
<circle cx="353.2" cy="235.95" r="1.6" fill="#611529" stroke="#111" stroke-width="0.55"/>
<circle cx="350.5" cy="236.51" r="1.6" fill="#611529" stroke="#111" stroke-width="0.55"/>
<circle cx="355.3" cy="237.31" r="1.6" fill="#611529" stroke="#111" stroke-width="0.55"/>
<circle cx="350.56" cy="237.42" r="1.6" fill="#611529" stroke="#111" stroke-width="0.55"/>
<circle cx="352.6" cy="240.63" r="1.6" fill="#611529" stroke="#111" stroke-width="0.55"/>
<circle cx="355" cy="241.22" r="1.6" fill="#611529" stroke="#111" stroke-width="0.55"/>
<circle cx="350.2" cy="241.59" r="1.6" fill="#611529" stroke="#111" stroke-width="0.55"/>
<circle cx="352.6" cy="243.41" r="1.6" fill="#611529" stroke="#111" stroke-width="0.55"/>
<circle cx="352.6" cy="247.15" r="1.6" fill="#611529" stroke="#111" stroke-width="0.55"/>
<circle cx="355" cy="247.22" r="1.6" fill="#611529" stroke="#111" stroke-width="0.55"/>
<circle cx="352.6" cy="250.44" r="1.6" fill="#611529" stroke="#111" stroke-width="0.55"/>
<circle cx="352.6" cy="253.24" r="1.6" fill="#611529" stroke="#111" stroke-width="0.55"/>
<circle cx="352.6" cy="257.02" r="1.6" fill="#611529" stroke="#111" stroke-width="0.55"/>
<circle cx="352.6" cy="266.15" r="1.6" fill="#611529" stroke="#111" stroke-width="0.55"/>
<circle cx="376.4" cy="270.77" r="1.6" fill="#55763f" stroke="#111" stroke-width="0.55"/>
<circle cx="378.8" cy="270.79" r="1.6" fill="#55763f" stroke="#111" stroke-width="0.55"/>
<circle cx="374" cy="271.25" r="1.6" fill="#55763f" stroke="#111" stroke-width="0.55"/>
<circle cx="373.36" cy="271.59" r="1.6" fill="#55763f" stroke="#111" stroke-width="0.55"/>
<circle cx="390" cy="245.5" r="1.6" fill="#611529" stroke="#111" stroke-width="0.55"/>
<circle cx="392.4" cy="245.6" r="1.6" fill="#611529" stroke="#111" stroke-width="0.55"/>
<circle cx="387.6" cy="246.39" r="1.6" fill="#611529" stroke="#111" stroke-width="0.55"/>
<circle cx="394.3" cy="246.56" r="1.6" fill="#611529" stroke="#111" stroke-width="0.55"/>
<circle cx="388.18" cy="246.58" r="1.6" fill="#611529" stroke="#111" stroke-width="0.55"/>
<circle cx="390.95" cy="247.08" r="1.6" fill="#611529" stroke="#111" stroke-width="0.55"/>
<circle cx="389.78" cy="247.17" r="1.6" fill="#611529" stroke="#111" stroke-width="0.55"/>
<circle cx="391.27" cy="247.53" r="1.6" fill="#611529" stroke="#111" stroke-width="0.55"/>
<circle cx="390.91" cy="247.81" r="1.6" fill="#611529" stroke="#111" stroke-width="0.55"/>
<circle cx="385.8" cy="248.04" r="1.6" fill="#611529" stroke="#111" stroke-width="0.55"/>
<circle cx="392.14" cy="248.15" r="1.6" fill="#611529" stroke="#111" stroke-width="0.55"/>
<circle cx="386.64" cy="248.27" r="1.6" fill="#611529" stroke="#111" stroke-width="0.55"/>
<circle cx="392.29" cy="249.03" r="1.6" fill="#611529" stroke="#111" stroke-width="0.55"/>
<circle cx="390" cy="250.86" r="1.6" fill="#611529" stroke="#111" stroke-width="0.55"/>
<circle cx="387.6" cy="250.96" r="1.6" fill="#611529" stroke="#111" stroke-width="0.55"/>
<circle cx="392.4" cy="251.5" r="1.6" fill="#611529" stroke="#111" stroke-width="0.55"/>
<circle cx="388.25" cy="251.86" r="1.6" fill="#611529" stroke="#111" stroke-width="0.55"/>
<circle cx="390" cy="255.43" r="1.6" fill="#611529" stroke="#111" stroke-width="0.55"/>
<circle cx="392.4" cy="256.27" r="1.6" fill="#611529" stroke="#111" stroke-width="0.55"/>
<circle cx="387.6" cy="256.48" r="1.6" fill="#611529" stroke="#111" stroke-width="0.55"/>
<circle cx="390" cy="258.57" r="1.6" fill="#611529" stroke="#111" stroke-width="0.55"/>
<circle cx="392.4" cy="258.82" r="1.6" fill="#611529" stroke="#111" stroke-width="0.55"/>
<circle cx="390" cy="263.87" r="1.6" fill="#611529" stroke="#111" stroke-width="0.55"/>
<circle cx="390" cy="267.86" r="1.6" fill="#611529" stroke="#111" stroke-width="0.55"/>
<circle cx="413.8" cy="227.92" r="1.6" fill="#55763f" stroke="#111" stroke-width="0.55"/>
<circle cx="413.8" cy="244.47" r="1.6" fill="#55763f" stroke="#111" stroke-width="0.55"/>
<circle cx="413.8" cy="247.39" r="1.6" fill="#55763f" stroke="#111" stroke-width="0.55"/>
<circle cx="416.2" cy="247.59" r="1.6" fill="#55763f" stroke="#111" stroke-width="0.55"/>
<circle cx="411.4" cy="248.33" r="1.6" fill="#55763f" stroke="#111" stroke-width="0.55"/>
<circle cx="414.09" cy="249" r="1.6" fill="#55763f" stroke="#111" stroke-width="0.55"/>
<circle cx="412.3" cy="250.55" r="1.6" fill="#55763f" stroke="#111" stroke-width="0.55"/>
<circle cx="415.9" cy="250.79" r="1.6" fill="#55763f" stroke="#111" stroke-width="0.55"/>
<circle cx="409.9" cy="251.56" r="1.6" fill="#55763f" stroke="#111" stroke-width="0.55"/>
<circle cx="413.8" cy="252.68" r="1.6" fill="#55763f" stroke="#111" stroke-width="0.55"/>
<circle cx="416.2" cy="253.53" r="1.6" fill="#55763f" stroke="#111" stroke-width="0.55"/>
<circle cx="412.3" cy="254.7" r="1.6" fill="#55763f" stroke="#111" stroke-width="0.55"/>
<circle cx="414.7" cy="255.43" r="1.6" fill="#55763f" stroke="#111" stroke-width="0.55"/>
<circle cx="416.8" cy="256.64" r="1.6" fill="#55763f" stroke="#111" stroke-width="0.55"/>
<circle cx="413.2" cy="257.44" r="1.6" fill="#55763f" stroke="#111" stroke-width="0.55"/>
<circle cx="410.8" cy="258.19" r="1.6" fill="#55763f" stroke="#111" stroke-width="0.55"/>
<circle cx="415.3" cy="258.87" r="1.6" fill="#55763f" stroke="#111" stroke-width="0.55"/>
<circle cx="417.7" cy="259.19" r="1.6" fill="#55763f" stroke="#111" stroke-width="0.55"/>
<circle cx="413.8" cy="262.55" r="1.6" fill="#55763f" stroke="#111" stroke-width="0.55"/>
<circle cx="415.9" cy="264.07" r="1.6" fill="#55763f" stroke="#111" stroke-width="0.55"/>
<circle cx="412" cy="264.32" r="1.6" fill="#55763f" stroke="#111" stroke-width="0.55"/>
<circle cx="409.6" cy="264.69" r="1.6" fill="#55763f" stroke="#111" stroke-width="0.55"/>
<circle cx="418" cy="265.16" r="1.6" fill="#55763f" stroke="#111" stroke-width="0.55"/>
<circle cx="413.8" cy="266.18" r="1.6" fill="#55763f" stroke="#111" stroke-width="0.55"/>
<circle cx="412.36" cy="266.32" r="1.6" fill="#55763f" stroke="#111" stroke-width="0.55"/>
<circle cx="412.01" cy="266.64" r="1.6" fill="#55763f" stroke="#111" stroke-width="0.55"/>
<circle cx="414.7" cy="268.44" r="1.6" fill="#55763f" stroke="#111" stroke-width="0.55"/>
<circle cx="427.4" cy="214.8" r="1.6" fill="#611529" stroke="#111" stroke-width="0.55"/>
<circle cx="428.3" cy="217.08" r="1.6" fill="#611529" stroke="#111" stroke-width="0.55"/>
<circle cx="427.4" cy="223.86" r="1.6" fill="#611529" stroke="#111" stroke-width="0.55"/>
<circle cx="429.2" cy="225.49" r="1.6" fill="#611529" stroke="#111" stroke-width="0.55"/>
<circle cx="427.4" cy="230.47" r="1.6" fill="#611529" stroke="#111" stroke-width="0.55"/>
<circle cx="429.8" cy="230.51" r="1.6" fill="#611529" stroke="#111" stroke-width="0.55"/>
<circle cx="425" cy="231" r="1.6" fill="#611529" stroke="#111" stroke-width="0.55"/>
<circle cx="427.66" cy="231.21" r="1.6" fill="#611529" stroke="#111" stroke-width="0.55"/>
<circle cx="427.09" cy="232.03" r="1.6" fill="#611529" stroke="#111" stroke-width="0.55"/>
<circle cx="428.6" cy="233.85" r="1.6" fill="#611529" stroke="#111" stroke-width="0.55"/>
<circle cx="426.5" cy="235.11" r="1.6" fill="#611529" stroke="#111" stroke-width="0.55"/>
<circle cx="430.7" cy="235.22" r="1.6" fill="#611529" stroke="#111" stroke-width="0.55"/>
<circle cx="424.1" cy="235.79" r="1.6" fill="#611529" stroke="#111" stroke-width="0.55"/>
<circle cx="426.18" cy="235.94" r="1.6" fill="#611529" stroke="#111" stroke-width="0.55"/>
<circle cx="428.6" cy="236.72" r="1.6" fill="#611529" stroke="#111" stroke-width="0.55"/>
<circle cx="429.56" cy="237.23" r="1.6" fill="#611529" stroke="#111" stroke-width="0.55"/>
<circle cx="425" cy="238.11" r="1.6" fill="#611529" stroke="#111" stroke-width="0.55"/>
<circle cx="427.4" cy="239.04" r="1.6" fill="#611529" stroke="#111" stroke-width="0.55"/>
<circle cx="430.7" cy="239.31" r="1.6" fill="#611529" stroke="#111" stroke-width="0.55"/>
<circle cx="423.5" cy="240.06" r="1.6" fill="#611529" stroke="#111" stroke-width="0.55"/>
<circle cx="428.2" cy="240.33" r="1.6" fill="#611529" stroke="#111" stroke-width="0.55"/>
<circle cx="425.9" cy="241.42" r="1.6" fill="#611529" stroke="#111" stroke-width="0.55"/>
<circle cx="430.1" cy="241.84" r="1.6" fill="#611529" stroke="#111" stroke-width="0.55"/>
<circle cx="423.32" cy="242.31" r="1.6" fill="#611529" stroke="#111" stroke-width="0.55"/>
<circle cx="427.7" cy="243.23" r="1.6" fill="#611529" stroke="#111" stroke-width="0.55"/>
<circle cx="425.22" cy="243.65" r="1.6" fill="#611529" stroke="#111" stroke-width="0.55"/>
<circle cx="427.01" cy="243.66" r="1.6" fill="#611529" stroke="#111" stroke-width="0.55"/>
<circle cx="429.8" cy="244.45" r="1.6" fill="#611529" stroke="#111" stroke-width="0.55"/>
<circle cx="427.4" cy="250.18" r="1.6" fill="#611529" stroke="#111" stroke-width="0.55"/>
<circle cx="451.2" cy="233.63" r="1.6" fill="#55763f" stroke="#111" stroke-width="0.55"/>
<circle cx="453.3" cy="234.77" r="1.6" fill="#55763f" stroke="#111" stroke-width="0.55"/>
<circle cx="451.2" cy="237.62" r="1.6" fill="#55763f" stroke="#111" stroke-width="0.55"/>
<circle cx="451.2" cy="241.05" r="1.6" fill="#55763f" stroke="#111" stroke-width="0.55"/>
<circle cx="451.2" cy="244.49" r="1.6" fill="#55763f" stroke="#111" stroke-width="0.55"/>
<circle cx="453.6" cy="244.77" r="1.6" fill="#55763f" stroke="#111" stroke-width="0.55"/>
<circle cx="448.8" cy="245.1" r="1.6" fill="#55763f" stroke="#111" stroke-width="0.55"/>
<circle cx="454.87" cy="245.52" r="1.6" fill="#55763f" stroke="#111" stroke-width="0.55"/>
<circle cx="451.2" cy="247.95" r="1.6" fill="#55763f" stroke="#111" stroke-width="0.55"/>
<circle cx="453.6" cy="248.35" r="1.6" fill="#55763f" stroke="#111" stroke-width="0.55"/>
<circle cx="448.8" cy="248.55" r="1.6" fill="#55763f" stroke="#111" stroke-width="0.55"/>
<circle cx="452.1" cy="250.19" r="1.6" fill="#55763f" stroke="#111" stroke-width="0.55"/>
<circle cx="450" cy="251.57" r="1.6" fill="#55763f" stroke="#111" stroke-width="0.55"/>
<circle cx="451.2" cy="254.26" r="1.6" fill="#55763f" stroke="#111" stroke-width="0.55"/>
<circle cx="451.2" cy="257.61" r="1.6" fill="#55763f" stroke="#111" stroke-width="0.55"/>
<circle cx="453.6" cy="257.9" r="1.6" fill="#55763f" stroke="#111" stroke-width="0.55"/>
<circle cx="448.8" cy="258.14" r="1.6" fill="#55763f" stroke="#111" stroke-width="0.55"/>
<circle cx="454.61" cy="258.81" r="1.6" fill="#55763f" stroke="#111" stroke-width="0.55"/>
<circle cx="451.6" cy="258.82" r="1.6" fill="#55763f" stroke="#111" stroke-width="0.55"/>
<circle cx="446.93" cy="259.31" r="1.6" fill="#55763f" stroke="#111" stroke-width="0.55"/>
<circle cx="453.65" cy="260.12" r="1.6" fill="#55763f" stroke="#111" stroke-width="0.55"/>
<circle cx="450.3" cy="260.82" r="1.6" fill="#55763f" stroke="#111" stroke-width="0.55"/>
<circle cx="450.56" cy="261.23" r="1.6" fill="#55763f" stroke="#111" stroke-width="0.55"/>
<circle cx="447.9" cy="261.83" r="1.6" fill="#55763f" stroke="#111" stroke-width="0.55"/>
<circle cx="452.4" cy="262.98" r="1.6" fill="#55763f" stroke="#111" stroke-width="0.55"/>
<circle cx="454.8" cy="263.08" r="1.6" fill="#55763f" stroke="#111" stroke-width="0.55"/>
<circle cx="450" cy="263.57" r="1.6" fill="#55763f" stroke="#111" stroke-width="0.55"/>
<circle cx="451.2" cy="266.8" r="1.6" fill="#55763f" stroke="#111" stroke-width="0.55"/>
<circle cx="453.6" cy="266.87" r="1.6" fill="#55763f" stroke="#111" stroke-width="0.55"/>
<circle cx="449.4" cy="268.38" r="1.6" fill="#55763f" stroke="#111" stroke-width="0.55"/>
<circle cx="464.8" cy="227.92" r="1.6" fill="#611529" stroke="#111" stroke-width="0.55"/>
<circle cx="466.6" cy="229.63" r="1.6" fill="#611529" stroke="#111" stroke-width="0.55"/>
<circle cx="464.8" cy="233.06" r="1.6" fill="#611529" stroke="#111" stroke-width="0.55"/>
<circle cx="464.8" cy="239.63" r="1.6" fill="#611529" stroke="#111" stroke-width="0.55"/>
<circle cx="467.2" cy="239.77" r="1.6" fill="#611529" stroke="#111" stroke-width="0.55"/>
<circle cx="462.4" cy="240.07" r="1.6" fill="#611529" stroke="#111" stroke-width="0.55"/>
<circle cx="465.47" cy="240.11" r="1.6" fill="#611529" stroke="#111" stroke-width="0.55"/>
<circle cx="463.9" cy="242.11" r="1.6" fill="#611529" stroke="#111" stroke-width="0.55"/>
<circle cx="466.9" cy="242.18" r="1.6" fill="#611529" stroke="#111" stroke-width="0.55"/>
<circle cx="464.8" cy="244.46" r="1.6" fill="#611529" stroke="#111" stroke-width="0.55"/>
<circle cx="467.2" cy="244.63" r="1.6" fill="#611529" stroke="#111" stroke-width="0.55"/>
<circle cx="464.8" cy="249.99" r="1.6" fill="#611529" stroke="#111" stroke-width="0.55"/>
<circle cx="467.2" cy="250.39" r="1.6" fill="#611529" stroke="#111" stroke-width="0.55"/>
<circle cx="462.4" cy="250.84" r="1.6" fill="#611529" stroke="#111" stroke-width="0.55"/>
<circle cx="466.63" cy="251.05" r="1.6" fill="#611529" stroke="#111" stroke-width="0.55"/>
<circle cx="465.96" cy="251.44" r="1.6" fill="#611529" stroke="#111" stroke-width="0.55"/>
<circle cx="468.7" cy="252.39" r="1.6" fill="#611529" stroke="#111" stroke-width="0.55"/>
<circle cx="460.6" cy="252.45" r="1.6" fill="#611529" stroke="#111" stroke-width="0.55"/>
<circle cx="464.8" cy="256.6" r="1.6" fill="#611529" stroke="#111" stroke-width="0.55"/>
<circle cx="467.2" cy="256.99" r="1.6" fill="#611529" stroke="#111" stroke-width="0.55"/>
<circle cx="463" cy="258.35" r="1.6" fill="#611529" stroke="#111" stroke-width="0.55"/>
<circle cx="469" cy="258.55" r="1.6" fill="#611529" stroke="#111" stroke-width="0.55"/>
<circle cx="465.4" cy="259.13" r="1.6" fill="#611529" stroke="#111" stroke-width="0.55"/>
<circle cx="463.9" cy="261" r="1.6" fill="#611529" stroke="#111" stroke-width="0.55"/>
<circle cx="465.1" cy="263.04" r="1.6" fill="#611529" stroke="#111" stroke-width="0.55"/>
<circle cx="464.8" cy="265.69" r="1.6" fill="#611529" stroke="#111" stroke-width="0.55"/>
<circle cx="467.2" cy="265.73" r="1.6" fill="#611529" stroke="#111" stroke-width="0.55"/>
<circle cx="462.4" cy="266.76" r="1.6" fill="#611529" stroke="#111" stroke-width="0.55"/>
<circle cx="464.8" cy="270.12" r="1.6" fill="#611529" stroke="#111" stroke-width="0.55"/>
<circle cx="488.6" cy="266.49" r="1.6" fill="#55763f" stroke="#111" stroke-width="0.55"/>
<circle cx="491" cy="267.5" r="1.6" fill="#55763f" stroke="#111" stroke-width="0.55"/>
<circle cx="486.2" cy="267.57" r="1.6" fill="#55763f" stroke="#111" stroke-width="0.55"/>
<circle cx="488.44" cy="267.6" r="1.6" fill="#55763f" stroke="#111" stroke-width="0.55"/>
<circle cx="492.22" cy="267.66" r="1.6" fill="#55763f" stroke="#111" stroke-width="0.55"/>
<circle cx="487.59" cy="268.01" r="1.6" fill="#55763f" stroke="#111" stroke-width="0.55"/>
<circle cx="487.65" cy="268.07" r="1.6" fill="#55763f" stroke="#111" stroke-width="0.55"/>
<circle cx="491.7" cy="268.09" r="1.6" fill="#55763f" stroke="#111" stroke-width="0.55"/>
<circle cx="485.93" cy="268.26" r="1.6" fill="#55763f" stroke="#111" stroke-width="0.55"/>
<circle cx="486.81" cy="268.35" r="1.6" fill="#55763f" stroke="#111" stroke-width="0.55"/>
<circle cx="491.5" cy="268.78" r="1.6" fill="#55763f" stroke="#111" stroke-width="0.55"/>
<circle cx="484.78" cy="269.38" r="1.6" fill="#55763f" stroke="#111" stroke-width="0.55"/>
<circle cx="488.9" cy="270.15" r="1.6" fill="#55763f" stroke="#111" stroke-width="0.55"/>
<circle cx="491.56" cy="270.59" r="1.6" fill="#55763f" stroke="#111" stroke-width="0.55"/>
<circle cx="490.31" cy="270.67" r="1.6" fill="#55763f" stroke="#111" stroke-width="0.55"/>
<circle cx="488" cy="272.36" r="1.6" fill="#55763f" stroke="#111" stroke-width="0.55"/>
<circle cx="502.2" cy="267.38" r="1.6" fill="#611529" stroke="#111" stroke-width="0.55"/>
<circle cx="504.6" cy="267.4" r="1.6" fill="#611529" stroke="#111" stroke-width="0.55"/>
<circle cx="499.8" cy="267.5" r="1.6" fill="#611529" stroke="#111" stroke-width="0.55"/>
<circle cx="501.61" cy="267.76" r="1.6" fill="#611529" stroke="#111" stroke-width="0.55"/>
<circle cx="500.32" cy="268.48" r="1.6" fill="#611529" stroke="#111" stroke-width="0.55"/>
<circle cx="506.1" cy="269.34" r="1.6" fill="#611529" stroke="#111" stroke-width="0.55"/>
<circle cx="503.4" cy="269.48" r="1.6" fill="#611529" stroke="#111" stroke-width="0.55"/>
<circle cx="498.3" cy="270.02" r="1.6" fill="#611529" stroke="#111" stroke-width="0.55"/>
<circle cx="504.67" cy="270.05" r="1.6" fill="#611529" stroke="#111" stroke-width="0.55"/>
<circle cx="505.81" cy="270.13" r="1.6" fill="#611529" stroke="#111" stroke-width="0.55"/>
<circle cx="499.06" cy="270.31" r="1.6" fill="#611529" stroke="#111" stroke-width="0.55"/>
<circle cx="502.01" cy="270.46" r="1.6" fill="#611529" stroke="#111" stroke-width="0.55"/>
<circle cx="502.63" cy="270.66" r="1.6" fill="#611529" stroke="#111" stroke-width="0.55"/>
<circle cx="502.18" cy="270.98" r="1.6" fill="#611529" stroke="#111" stroke-width="0.55"/>
<circle cx="500.71" cy="271.13" r="1.6" fill="#611529" stroke="#111" stroke-width="0.55"/>
<circle cx="499.15" cy="271.16" r="1.6" fill="#611529" stroke="#111" stroke-width="0.55"/>
<circle cx="502.96" cy="271.31" r="1.6" fill="#611529" stroke="#111" stroke-width="0.55"/>
<circle cx="504.94" cy="272.05" r="1.6" fill="#611529" stroke="#111" stroke-width="0.55"/>
<line x1="340" y1="196.3" x2="352.5" y2="196.3" stroke="#111" stroke-width="1.0"/>
<text x="346.25" y="196.9" font-size="5.6" text-anchor="middle" font-weight="normal" fill="#222">***</text>
<line x1="376.3" y1="235.5" x2="390" y2="235.5" stroke="#111" stroke-width="1.0"/>
<text x="383.15" y="236.1" font-size="5.6" text-anchor="middle" font-weight="normal" fill="#222">***</text>
<line x1="415" y1="210.4" x2="427" y2="210.4" stroke="#111" stroke-width="1.0"/>
<text x="421" y="211" font-size="5.6" text-anchor="middle" font-weight="normal" fill="#222">***</text>
<circle cx="466.3" cy="188.6" r="1.4" fill="#5a6a50" stroke="#000" stroke-width="0.9"/>
<circle cx="466.3" cy="196.3" r="1.5" fill="#1a0a0e" stroke="#000" stroke-width="0.7"/>
<text x="473.2" y="190.5" font-size="5.4" text-anchor="start" font-weight="normal" fill="#2a2a2a" textLength="33.3" lengthAdjust="spacingAndGlyphs">Unmodulated</text>
<text x="473.2" y="197.7" font-size="5.4" text-anchor="start" fill="#2a2a2a" textLength="40.2" lengthAdjust="spacingAndGlyphs">H<tspan dy="1.19" font-size="3.46">2</tspan><tspan dy="-1.19">O</tspan><tspan dy="1.19" font-size="3.46">2</tspan><tspan dy="-1.19"> modulated</tspan></text>
<line x1="66" y1="306.8" x2="66" y2="394.74" stroke="#111" stroke-width="1.0"/>
<line x1="63.1" y1="309.04" x2="66" y2="309.04" stroke="#111" stroke-width="1.0"/>
<text x="59.9" y="311.07" font-size="5.9" text-anchor="end" font-weight="normal" fill="#222" stroke="#222" stroke-width="0.15">8</text>
<line x1="63.1" y1="326.08" x2="66" y2="326.08" stroke="#111" stroke-width="1.0"/>
<text x="59.9" y="328.11" font-size="5.9" text-anchor="end" font-weight="normal" fill="#222" stroke="#222" stroke-width="0.15">6</text>
<line x1="63.1" y1="343.12" x2="66" y2="343.12" stroke="#111" stroke-width="1.0"/>
<text x="59.9" y="345.15" font-size="5.9" text-anchor="end" font-weight="normal" fill="#222" stroke="#222" stroke-width="0.15">4</text>
<line x1="63.1" y1="360.16" x2="66" y2="360.16" stroke="#111" stroke-width="1.0"/>
<text x="59.9" y="362.19" font-size="5.9" text-anchor="end" font-weight="normal" fill="#222" stroke="#222" stroke-width="0.15">2</text>
<line x1="63.1" y1="377.2" x2="66" y2="377.2" stroke="#111" stroke-width="1.0"/>
<text x="59.9" y="379.23" font-size="5.9" text-anchor="end" font-weight="normal" fill="#222" stroke="#222" stroke-width="0.15">0</text>
<line x1="63.1" y1="394.24" x2="66" y2="394.24" stroke="#111" stroke-width="1.0"/>
<text x="59.9" y="396.27" font-size="5.9" text-anchor="end" font-weight="normal" fill="#222" stroke="#222" stroke-width="0.15">-2</text>
<line x1="65.5" y1="394.24" x2="216.4" y2="394.24" stroke="#111" stroke-width="1.0"/>
<line x1="79.4" y1="394.24" x2="79.4" y2="397.04" stroke="#111" stroke-width="1.0"/>
<text x="79.4" y="404.3" font-size="6.6" text-anchor="middle" font-weight="normal" fill="#222" textLength="15.8" lengthAdjust="spacingAndGlyphs" stroke="#222" stroke-width="0.12">pSYK</text>
<line x1="110.2" y1="394.24" x2="110.2" y2="397.04" stroke="#111" stroke-width="1.0"/>
<text x="110.2" y="404.3" font-size="6.6" text-anchor="middle" font-weight="normal" fill="#222" textLength="25.8" lengthAdjust="spacingAndGlyphs" stroke="#222" stroke-width="0.12">pERK1/2</text>
<line x1="141" y1="394.24" x2="141" y2="397.04" stroke="#111" stroke-width="1.0"/>
<text x="141" y="404.3" font-size="6.6" text-anchor="middle" font-weight="normal" fill="#222" textLength="15.3" lengthAdjust="spacingAndGlyphs" stroke="#222" stroke-width="0.12">pp38</text>
<line x1="171.8" y1="394.24" x2="171.8" y2="397.04" stroke="#111" stroke-width="1.0"/>
<text x="171.8" y="404.3" font-size="6.6" text-anchor="middle" font-weight="normal" fill="#222" textLength="35.7" lengthAdjust="spacingAndGlyphs" stroke="#222" stroke-width="0.12">pNF-κB p65</text>
<line x1="202.6" y1="394.24" x2="202.6" y2="397.04" stroke="#111" stroke-width="1.0"/>
<text x="202.6" y="404.3" font-size="6.6" text-anchor="middle" font-weight="normal" fill="#222" textLength="16" lengthAdjust="spacingAndGlyphs" stroke="#222" stroke-width="0.12">pJNK</text>
<text x="39.2" y="350.4" font-size="7.0" text-anchor="middle" fill="#2a2a2a" textLength="44.6" lengthAdjust="spacingAndGlyphs" transform="rotate(-90 39.2 350.4)" stroke="#2a2a2a" stroke-width="0.18">H<tspan dy="1.54" font-size="4.48">2</tspan><tspan dy="-1.54">O</tspan><tspan dy="1.54" font-size="4.48">2</tspan><tspan dy="-1.54"> response</tspan></text>
<text x="47.9" y="351.8" font-size="7.0" text-anchor="middle" font-weight="normal" fill="#222" textLength="54.8" lengthAdjust="spacingAndGlyphs" transform="rotate(-90 47.9 351.8)" stroke="#222" stroke-width="0.18">(log2Fold change)</text>
<circle cx="73.4" cy="374.59" r="1.6" fill="#66774e" stroke="#111" stroke-width="0.55"/>
<circle cx="74" cy="376.76" r="1.6" fill="#66774e" stroke="#111" stroke-width="0.55"/>
<circle cx="71.6" cy="376.99" r="1.6" fill="#66774e" stroke="#111" stroke-width="0.55"/>
<circle cx="76.4" cy="377.53" r="1.6" fill="#66774e" stroke="#111" stroke-width="0.55"/>
<circle cx="73.4" cy="378.93" r="1.6" fill="#66774e" stroke="#111" stroke-width="0.55"/>
<circle cx="75.5" cy="379.72" r="1.6" fill="#66774e" stroke="#111" stroke-width="0.55"/>
<circle cx="84.9" cy="330.34" r="1.6" fill="#24304e" stroke="#111" stroke-width="0.55"/>
<circle cx="87.3" cy="331.19" r="1.6" fill="#24304e" stroke="#111" stroke-width="0.55"/>
<circle cx="84.9" cy="340.56" r="1.6" fill="#24304e" stroke="#111" stroke-width="0.55"/>
<circle cx="84.9" cy="347.11" r="1.6" fill="#24304e" stroke="#111" stroke-width="0.55"/>
<circle cx="87.3" cy="347.54" r="1.6" fill="#24304e" stroke="#111" stroke-width="0.55"/>
<circle cx="82.5" cy="347.86" r="1.6" fill="#24304e" stroke="#111" stroke-width="0.55"/>
<circle cx="81.37" cy="348.11" r="1.6" fill="#24304e" stroke="#111" stroke-width="0.55"/>
<circle cx="80.93" cy="348.32" r="1.6" fill="#24304e" stroke="#111" stroke-width="0.55"/>
<circle cx="84.9" cy="350.34" r="1.6" fill="#24304e" stroke="#111" stroke-width="0.55"/>
<circle cx="84.9" cy="356.5" r="1.6" fill="#24304e" stroke="#111" stroke-width="0.55"/>
<circle cx="87.3" cy="357.03" r="1.6" fill="#24304e" stroke="#111" stroke-width="0.55"/>
<circle cx="83.1" cy="358.16" r="1.6" fill="#24304e" stroke="#111" stroke-width="0.55"/>
<circle cx="85.2" cy="359.4" r="1.6" fill="#24304e" stroke="#111" stroke-width="0.55"/>
<circle cx="87.6" cy="359.55" r="1.6" fill="#24304e" stroke="#111" stroke-width="0.55"/>
<circle cx="84" cy="361.49" r="1.6" fill="#24304e" stroke="#111" stroke-width="0.55"/>
<circle cx="86.1" cy="362.82" r="1.6" fill="#24304e" stroke="#111" stroke-width="0.55"/>
<circle cx="84.9" cy="365.65" r="1.6" fill="#24304e" stroke="#111" stroke-width="0.55"/>
<circle cx="85.8" cy="367.91" r="1.6" fill="#24304e" stroke="#111" stroke-width="0.55"/>
<circle cx="83.4" cy="368.01" r="1.6" fill="#24304e" stroke="#111" stroke-width="0.55"/>
<circle cx="84.9" cy="370.28" r="1.6" fill="#24304e" stroke="#111" stroke-width="0.55"/>
<circle cx="87.3" cy="370.55" r="1.6" fill="#24304e" stroke="#111" stroke-width="0.55"/>
<circle cx="82.5" cy="371.33" r="1.6" fill="#24304e" stroke="#111" stroke-width="0.55"/>
<circle cx="85.15" cy="371.37" r="1.6" fill="#24304e" stroke="#111" stroke-width="0.55"/>
<circle cx="89.1" cy="372.2" r="1.6" fill="#24304e" stroke="#111" stroke-width="0.55"/>
<circle cx="80.7" cy="373.11" r="1.6" fill="#24304e" stroke="#111" stroke-width="0.55"/>
<circle cx="86.7" cy="373.29" r="1.6" fill="#24304e" stroke="#111" stroke-width="0.55"/>
<circle cx="84" cy="373.55" r="1.6" fill="#24304e" stroke="#111" stroke-width="0.55"/>
<circle cx="84.9" cy="377.2" r="1.6" fill="#24304e" stroke="#111" stroke-width="0.55"/>
<circle cx="84.9" cy="380.61" r="1.6" fill="#24304e" stroke="#111" stroke-width="0.55"/>
<circle cx="104.2" cy="367.32" r="1.6" fill="#66774e" stroke="#111" stroke-width="0.55"/>
<circle cx="106.3" cy="368.28" r="1.6" fill="#66774e" stroke="#111" stroke-width="0.55"/>
<circle cx="102.1" cy="368.5" r="1.6" fill="#66774e" stroke="#111" stroke-width="0.55"/>
<circle cx="102.24" cy="369.09" r="1.6" fill="#66774e" stroke="#111" stroke-width="0.55"/>
<circle cx="104.5" cy="370.11" r="1.6" fill="#66774e" stroke="#111" stroke-width="0.55"/>
<circle cx="104.98" cy="370.24" r="1.6" fill="#66774e" stroke="#111" stroke-width="0.55"/>
<circle cx="115.7" cy="333.79" r="1.6" fill="#24304e" stroke="#111" stroke-width="0.55"/>
<circle cx="118.1" cy="333.85" r="1.6" fill="#24304e" stroke="#111" stroke-width="0.55"/>
<circle cx="113.3" cy="334.6" r="1.6" fill="#24304e" stroke="#111" stroke-width="0.55"/>
<circle cx="112.04" cy="334.75" r="1.6" fill="#24304e" stroke="#111" stroke-width="0.55"/>
<circle cx="115.7" cy="336.53" r="1.6" fill="#24304e" stroke="#111" stroke-width="0.55"/>
<circle cx="117.5" cy="338.36" r="1.6" fill="#24304e" stroke="#111" stroke-width="0.55"/>
<circle cx="115.4" cy="339.77" r="1.6" fill="#24304e" stroke="#111" stroke-width="0.55"/>
<circle cx="113" cy="340.41" r="1.6" fill="#24304e" stroke="#111" stroke-width="0.55"/>
<circle cx="117.5" cy="341.14" r="1.6" fill="#24304e" stroke="#111" stroke-width="0.55"/>
<circle cx="119.9" cy="341.7" r="1.6" fill="#24304e" stroke="#111" stroke-width="0.55"/>
<circle cx="118.17" cy="341.75" r="1.6" fill="#24304e" stroke="#111" stroke-width="0.55"/>
<circle cx="113.26" cy="341.8" r="1.6" fill="#24304e" stroke="#111" stroke-width="0.55"/>
<circle cx="111.41" cy="342.13" r="1.6" fill="#24304e" stroke="#111" stroke-width="0.55"/>
<circle cx="112.85" cy="342.34" r="1.6" fill="#24304e" stroke="#111" stroke-width="0.55"/>
<circle cx="115.7" cy="342.85" r="1.6" fill="#24304e" stroke="#111" stroke-width="0.55"/>
<circle cx="115.7" cy="345.61" r="1.6" fill="#24304e" stroke="#111" stroke-width="0.55"/>
<circle cx="118.1" cy="346.05" r="1.6" fill="#24304e" stroke="#111" stroke-width="0.55"/>
<circle cx="113.6" cy="346.71" r="1.6" fill="#24304e" stroke="#111" stroke-width="0.55"/>
<circle cx="115.32" cy="347.1" r="1.6" fill="#24304e" stroke="#111" stroke-width="0.55"/>
<circle cx="117.2" cy="348.71" r="1.6" fill="#24304e" stroke="#111" stroke-width="0.55"/>
<circle cx="114.5" cy="349.35" r="1.6" fill="#24304e" stroke="#111" stroke-width="0.55"/>
<circle cx="118.7" cy="350.67" r="1.6" fill="#24304e" stroke="#111" stroke-width="0.55"/>
<circle cx="116.3" cy="351.14" r="1.6" fill="#24304e" stroke="#111" stroke-width="0.55"/>
<circle cx="113.9" cy="351.71" r="1.6" fill="#24304e" stroke="#111" stroke-width="0.55"/>
<circle cx="111.5" cy="352.29" r="1.6" fill="#24304e" stroke="#111" stroke-width="0.55"/>
<circle cx="116.22" cy="352.42" r="1.6" fill="#24304e" stroke="#111" stroke-width="0.55"/>
<circle cx="118.7" cy="353.09" r="1.6" fill="#24304e" stroke="#111" stroke-width="0.55"/>
<circle cx="114.72" cy="353.32" r="1.6" fill="#24304e" stroke="#111" stroke-width="0.55"/>
<circle cx="135" cy="362.68" r="1.6" fill="#66774e" stroke="#111" stroke-width="0.55"/>
<circle cx="137.4" cy="362.75" r="1.6" fill="#66774e" stroke="#111" stroke-width="0.55"/>
<circle cx="132.6" cy="363.34" r="1.6" fill="#66774e" stroke="#111" stroke-width="0.55"/>
<circle cx="133.04" cy="363.5" r="1.6" fill="#66774e" stroke="#111" stroke-width="0.55"/>
<circle cx="134.89" cy="364.14" r="1.6" fill="#66774e" stroke="#111" stroke-width="0.55"/>
<circle cx="137.68" cy="364.38" r="1.6" fill="#66774e" stroke="#111" stroke-width="0.55"/>
<circle cx="135.21" cy="364.52" r="1.6" fill="#66774e" stroke="#111" stroke-width="0.55"/>
<circle cx="146.5" cy="326.08" r="1.6" fill="#24304e" stroke="#111" stroke-width="0.55"/>
<circle cx="148.9" cy="326.5" r="1.6" fill="#24304e" stroke="#111" stroke-width="0.55"/>
<circle cx="144.1" cy="327.15" r="1.6" fill="#24304e" stroke="#111" stroke-width="0.55"/>
<circle cx="146.5" cy="331.82" r="1.6" fill="#24304e" stroke="#111" stroke-width="0.55"/>
<circle cx="148.9" cy="332.06" r="1.6" fill="#24304e" stroke="#111" stroke-width="0.55"/>
<circle cx="144.1" cy="332.52" r="1.6" fill="#24304e" stroke="#111" stroke-width="0.55"/>
<circle cx="150.38" cy="332.62" r="1.6" fill="#24304e" stroke="#111" stroke-width="0.55"/>
<circle cx="142.35" cy="333.9" r="1.6" fill="#24304e" stroke="#111" stroke-width="0.55"/>
<circle cx="146.5" cy="334.74" r="1.6" fill="#24304e" stroke="#111" stroke-width="0.55"/>
<circle cx="146.5" cy="337.13" r="1.6" fill="#24304e" stroke="#111" stroke-width="0.55"/>
<circle cx="148.6" cy="338.48" r="1.6" fill="#24304e" stroke="#111" stroke-width="0.55"/>
<circle cx="144.7" cy="338.77" r="1.6" fill="#24304e" stroke="#111" stroke-width="0.55"/>
<circle cx="146.5" cy="341.07" r="1.6" fill="#24304e" stroke="#111" stroke-width="0.55"/>
<circle cx="148.6" cy="342.44" r="1.6" fill="#24304e" stroke="#111" stroke-width="0.55"/>
<circle cx="144.7" cy="342.66" r="1.6" fill="#24304e" stroke="#111" stroke-width="0.55"/>
<circle cx="142.3" cy="342.97" r="1.6" fill="#24304e" stroke="#111" stroke-width="0.55"/>
<circle cx="150.84" cy="343.23" r="1.6" fill="#24304e" stroke="#111" stroke-width="0.55"/>
<circle cx="149.92" cy="343.91" r="1.6" fill="#24304e" stroke="#111" stroke-width="0.55"/>
<circle cx="146.5" cy="346.1" r="1.6" fill="#24304e" stroke="#111" stroke-width="0.55"/>
<circle cx="148.9" cy="346.22" r="1.6" fill="#24304e" stroke="#111" stroke-width="0.55"/>
<circle cx="146.5" cy="348.5" r="1.6" fill="#24304e" stroke="#111" stroke-width="0.55"/>
<circle cx="148.9" cy="349.01" r="1.6" fill="#24304e" stroke="#111" stroke-width="0.55"/>
<circle cx="144.1" cy="349.54" r="1.6" fill="#24304e" stroke="#111" stroke-width="0.55"/>
<circle cx="146.5" cy="352.83" r="1.6" fill="#24304e" stroke="#111" stroke-width="0.55"/>
<circle cx="148.9" cy="353.25" r="1.6" fill="#24304e" stroke="#111" stroke-width="0.55"/>
<circle cx="147.1" cy="355.14" r="1.6" fill="#24304e" stroke="#111" stroke-width="0.55"/>
<circle cx="144.7" cy="355.35" r="1.6" fill="#24304e" stroke="#111" stroke-width="0.55"/>
<circle cx="146.5" cy="360.16" r="1.6" fill="#24304e" stroke="#111" stroke-width="0.55"/>
<circle cx="146.5" cy="364.42" r="1.6" fill="#24304e" stroke="#111" stroke-width="0.55"/>
<circle cx="165.8" cy="374.02" r="1.6" fill="#66774e" stroke="#111" stroke-width="0.55"/>
<circle cx="168.2" cy="374.47" r="1.6" fill="#66774e" stroke="#111" stroke-width="0.55"/>
<circle cx="163.4" cy="374.55" r="1.6" fill="#66774e" stroke="#111" stroke-width="0.55"/>
<circle cx="166.07" cy="375.01" r="1.6" fill="#66774e" stroke="#111" stroke-width="0.55"/>
<circle cx="165.94" cy="375.63" r="1.6" fill="#66774e" stroke="#111" stroke-width="0.55"/>
<circle cx="166.02" cy="375.91" r="1.6" fill="#66774e" stroke="#111" stroke-width="0.55"/>
<circle cx="168.26" cy="376.47" r="1.6" fill="#66774e" stroke="#111" stroke-width="0.55"/>
<circle cx="177.3" cy="365.27" r="1.6" fill="#24304e" stroke="#111" stroke-width="0.55"/>
<circle cx="179.7" cy="366.3" r="1.6" fill="#24304e" stroke="#111" stroke-width="0.55"/>
<circle cx="175.2" cy="366.44" r="1.6" fill="#24304e" stroke="#111" stroke-width="0.55"/>
<circle cx="173.48" cy="366.55" r="1.6" fill="#24304e" stroke="#111" stroke-width="0.55"/>
<circle cx="178.56" cy="366.81" r="1.6" fill="#24304e" stroke="#111" stroke-width="0.55"/>
<circle cx="181.5" cy="367.91" r="1.6" fill="#24304e" stroke="#111" stroke-width="0.55"/>
<circle cx="177.67" cy="368.13" r="1.6" fill="#24304e" stroke="#111" stroke-width="0.55"/>
<circle cx="176.7" cy="370.37" r="1.6" fill="#24304e" stroke="#111" stroke-width="0.55"/>
<circle cx="179.1" cy="371.09" r="1.6" fill="#24304e" stroke="#111" stroke-width="0.55"/>
<circle cx="174.3" cy="371.15" r="1.6" fill="#24304e" stroke="#111" stroke-width="0.55"/>
<circle cx="177.3" cy="373.78" r="1.6" fill="#24304e" stroke="#111" stroke-width="0.55"/>
<circle cx="179.7" cy="373.93" r="1.6" fill="#24304e" stroke="#111" stroke-width="0.55"/>
<circle cx="174.9" cy="374.14" r="1.6" fill="#24304e" stroke="#111" stroke-width="0.55"/>
<circle cx="175.54" cy="374.18" r="1.6" fill="#24304e" stroke="#111" stroke-width="0.55"/>
<circle cx="179.28" cy="374.37" r="1.6" fill="#24304e" stroke="#111" stroke-width="0.55"/>
<circle cx="181.5" cy="375.6" r="1.6" fill="#24304e" stroke="#111" stroke-width="0.55"/>
<circle cx="177.3" cy="376.24" r="1.6" fill="#24304e" stroke="#111" stroke-width="0.55"/>
<circle cx="174.9" cy="376.7" r="1.6" fill="#24304e" stroke="#111" stroke-width="0.55"/>
<circle cx="179.24" cy="376.72" r="1.6" fill="#24304e" stroke="#111" stroke-width="0.55"/>
<circle cx="173.81" cy="377.11" r="1.6" fill="#24304e" stroke="#111" stroke-width="0.55"/>
<circle cx="181.2" cy="378.13" r="1.6" fill="#24304e" stroke="#111" stroke-width="0.55"/>
<circle cx="179.06" cy="378.26" r="1.6" fill="#24304e" stroke="#111" stroke-width="0.55"/>
<circle cx="176.7" cy="378.75" r="1.6" fill="#24304e" stroke="#111" stroke-width="0.55"/>
<circle cx="177.3" cy="381.46" r="1.6" fill="#24304e" stroke="#111" stroke-width="0.55"/>
<circle cx="196.6" cy="378.64" r="1.6" fill="#66774e" stroke="#111" stroke-width="0.55"/>
<circle cx="199" cy="378.75" r="1.6" fill="#66774e" stroke="#111" stroke-width="0.55"/>
<circle cx="194.2" cy="379.28" r="1.6" fill="#66774e" stroke="#111" stroke-width="0.55"/>
<circle cx="196.32" cy="379.61" r="1.6" fill="#66774e" stroke="#111" stroke-width="0.55"/>
<circle cx="196.54" cy="379.73" r="1.6" fill="#66774e" stroke="#111" stroke-width="0.55"/>
<circle cx="197.42" cy="380" r="1.6" fill="#66774e" stroke="#111" stroke-width="0.55"/>
<circle cx="208.1" cy="374.95" r="1.6" fill="#24304e" stroke="#111" stroke-width="0.55"/>
<circle cx="210.5" cy="375.02" r="1.6" fill="#24304e" stroke="#111" stroke-width="0.55"/>
<circle cx="206" cy="376.13" r="1.6" fill="#24304e" stroke="#111" stroke-width="0.55"/>
<circle cx="204.17" cy="376.2" r="1.6" fill="#24304e" stroke="#111" stroke-width="0.55"/>
<circle cx="212.3" cy="376.7" r="1.6" fill="#24304e" stroke="#111" stroke-width="0.55"/>
<circle cx="209.01" cy="376.82" r="1.6" fill="#24304e" stroke="#111" stroke-width="0.55"/>
<circle cx="206.98" cy="376.9" r="1.6" fill="#24304e" stroke="#111" stroke-width="0.55"/>
<circle cx="211.43" cy="378.27" r="1.6" fill="#24304e" stroke="#111" stroke-width="0.55"/>
<circle cx="205.73" cy="378.33" r="1.6" fill="#24304e" stroke="#111" stroke-width="0.55"/>
<circle cx="210.94" cy="378.96" r="1.6" fill="#24304e" stroke="#111" stroke-width="0.55"/>
<circle cx="208.1" cy="379.4" r="1.6" fill="#24304e" stroke="#111" stroke-width="0.55"/>
<circle cx="203.9" cy="380.1" r="1.6" fill="#24304e" stroke="#111" stroke-width="0.55"/>
<circle cx="208.1" cy="382.29" r="1.6" fill="#24304e" stroke="#111" stroke-width="0.55"/>
<circle cx="210.5" cy="382.61" r="1.6" fill="#24304e" stroke="#111" stroke-width="0.55"/>
<circle cx="205.7" cy="383.13" r="1.6" fill="#24304e" stroke="#111" stroke-width="0.55"/>
<circle cx="210.12" cy="383.35" r="1.6" fill="#24304e" stroke="#111" stroke-width="0.55"/>
<line x1="74.3" y1="324" x2="86" y2="324" stroke="#111" stroke-width="1.0"/>
<text x="80.15" y="324.6" font-size="5.6" text-anchor="middle" font-weight="normal" fill="#222">***</text>
<line x1="105.6" y1="326.5" x2="117.3" y2="326.5" stroke="#111" stroke-width="1.0"/>
<text x="111.45" y="327.1" font-size="5.6" text-anchor="middle" font-weight="normal" fill="#222">***</text>
<line x1="135.6" y1="318.7" x2="148.3" y2="318.7" stroke="#111" stroke-width="1.0"/>
<text x="141.95" y="319.3" font-size="5.6" text-anchor="middle" font-weight="normal" fill="#222">***</text>
<line x1="166.3" y1="357" x2="182" y2="357" stroke="#111" stroke-width="1.0"/>
<text x="174.15" y="357.6" font-size="5.6" text-anchor="middle" font-weight="normal" fill="#222">**</text>
<circle cx="202.8" cy="314.6" r="1.55" fill="#444" stroke="#111" stroke-width="0.6"/>
<circle cx="202.8" cy="323.3" r="1.55" fill="#24304e" stroke="#111" stroke-width="0.6"/>
<text x="207.3" y="316.4" font-size="5.0" text-anchor="start" font-weight="normal" fill="#2a2a2a" textLength="8.1" lengthAdjust="spacingAndGlyphs">HD</text>
<text x="207.3" y="325" font-size="5.0" text-anchor="start" font-weight="normal" fill="#2a2a2a" textLength="8.7" lengthAdjust="spacingAndGlyphs">CLL</text>
<line x1="329.7" y1="313" x2="329.7" y2="394.5" stroke="#111" stroke-width="1.0"/>
<line x1="326.8" y1="315.2" x2="329.7" y2="315.2" stroke="#111" stroke-width="1.0"/>
<text x="324.4" y="317.26" font-size="6.0" text-anchor="end" font-weight="normal" fill="#222" stroke="#222" stroke-width="0.15">8</text>
<line x1="326.8" y1="334.9" x2="329.7" y2="334.9" stroke="#111" stroke-width="1.0"/>
<text x="324.4" y="336.96" font-size="6.0" text-anchor="end" font-weight="normal" fill="#222" stroke="#222" stroke-width="0.15">6</text>
<line x1="326.8" y1="354.6" x2="329.7" y2="354.6" stroke="#111" stroke-width="1.0"/>
<text x="324.4" y="356.66" font-size="6.0" text-anchor="end" font-weight="normal" fill="#222" stroke="#222" stroke-width="0.15">4</text>
<line x1="326.8" y1="374.3" x2="329.7" y2="374.3" stroke="#111" stroke-width="1.0"/>
<text x="324.4" y="376.36" font-size="6.0" text-anchor="end" font-weight="normal" fill="#222" stroke="#222" stroke-width="0.15">2</text>
<line x1="326.8" y1="394" x2="329.7" y2="394" stroke="#111" stroke-width="1.0"/>
<text x="324.4" y="396.06" font-size="6.0" text-anchor="end" font-weight="normal" fill="#222" stroke="#222" stroke-width="0.15">0</text>
<line x1="329.2" y1="394" x2="446.5" y2="394" stroke="#111" stroke-width="1.0"/>
<line x1="348" y1="394" x2="348" y2="396.8" stroke="#111" stroke-width="1.0"/>
<text x="348" y="404.3" font-size="6.6" text-anchor="middle" font-weight="normal" fill="#222" textLength="16.2" lengthAdjust="spacingAndGlyphs" stroke="#222" stroke-width="0.12">pSYK</text>
<line x1="387.7" y1="394" x2="387.7" y2="396.8" stroke="#111" stroke-width="1.0"/>
<text x="387.7" y="404.3" font-size="6.6" text-anchor="middle" font-weight="normal" fill="#222" textLength="25.2" lengthAdjust="spacingAndGlyphs" stroke="#222" stroke-width="0.12">pERK1/2</text>
<line x1="429.2" y1="394" x2="429.2" y2="396.8" stroke="#111" stroke-width="1.0"/>
<text x="429.2" y="404.3" font-size="6.6" text-anchor="middle" font-weight="normal" fill="#222" textLength="15.3" lengthAdjust="spacingAndGlyphs" stroke="#222" stroke-width="0.12">pp38</text>
<text x="388.5" y="304.5" font-size="7.8" text-anchor="middle" font-weight="normal" fill="#1a1a1a" textLength="15" lengthAdjust="spacingAndGlyphs">CLL</text>
<text x="315.8" y="353.7" font-size="7.0" text-anchor="middle" font-weight="normal" fill="#222" textLength="85.6" lengthAdjust="spacingAndGlyphs" transform="rotate(-90 315.8 353.7)" stroke="#222" stroke-width="0.18">Response (log2Fold change)</text>
<circle cx="339.7" cy="346.85" r="1.85" fill="#6d9c50" stroke="#142008" stroke-width="0.9"/>
<circle cx="339.7" cy="350.62" r="1.85" fill="#6d9c50" stroke="#142008" stroke-width="0.9"/>
<circle cx="342.7" cy="351.52" r="1.85" fill="#6d9c50" stroke="#142008" stroke-width="0.9"/>
<circle cx="336.7" cy="351.55" r="1.85" fill="#6d9c50" stroke="#142008" stroke-width="0.9"/>
<circle cx="339.7" cy="354.37" r="1.85" fill="#6d9c50" stroke="#142008" stroke-width="0.9"/>
<circle cx="339.7" cy="357.39" r="1.85" fill="#6d9c50" stroke="#142008" stroke-width="0.9"/>
<circle cx="342.7" cy="357.51" r="1.85" fill="#6d9c50" stroke="#142008" stroke-width="0.9"/>
<circle cx="336.7" cy="357.78" r="1.85" fill="#6d9c50" stroke="#142008" stroke-width="0.9"/>
<circle cx="339.01" cy="358.42" r="1.85" fill="#6d9c50" stroke="#142008" stroke-width="0.9"/>
<circle cx="341.5" cy="360.19" r="1.85" fill="#6d9c50" stroke="#142008" stroke-width="0.9"/>
<circle cx="337.3" cy="360.81" r="1.85" fill="#6d9c50" stroke="#142008" stroke-width="0.9"/>
<circle cx="343.6" cy="362.19" r="1.85" fill="#6d9c50" stroke="#142008" stroke-width="0.9"/>
<circle cx="341.9" cy="362.37" r="1.85" fill="#6d9c50" stroke="#142008" stroke-width="0.9"/>
<circle cx="339.7" cy="365.34" r="1.85" fill="#6d9c50" stroke="#142008" stroke-width="0.9"/>
<circle cx="339.7" cy="368.61" r="1.85" fill="#6d9c50" stroke="#142008" stroke-width="0.9"/>
<circle cx="342.7" cy="369.24" r="1.85" fill="#6d9c50" stroke="#142008" stroke-width="0.9"/>
<circle cx="336.7" cy="369.35" r="1.85" fill="#6d9c50" stroke="#142008" stroke-width="0.9"/>
<circle cx="339.7" cy="371.82" r="1.85" fill="#6d9c50" stroke="#142008" stroke-width="0.9"/>
<circle cx="341.2" cy="374.33" r="1.85" fill="#6d9c50" stroke="#142008" stroke-width="0.9"/>
<circle cx="338.5" cy="375.88" r="1.85" fill="#6d9c50" stroke="#142008" stroke-width="0.9"/>
<circle cx="339.7" cy="379.23" r="1.85" fill="#6d9c50" stroke="#142008" stroke-width="0.9"/>
<circle cx="339.7" cy="386.12" r="1.85" fill="#6d9c50" stroke="#142008" stroke-width="0.9"/>
<circle cx="355.8" cy="353.62" r="1.85" fill="#8c1631" stroke="#200408" stroke-width="0.9"/>
<circle cx="355.8" cy="356.57" r="1.85" fill="#8c1631" stroke="#200408" stroke-width="0.9"/>
<circle cx="355.8" cy="371.58" r="1.85" fill="#8c1631" stroke="#200408" stroke-width="0.9"/>
<circle cx="358.8" cy="372.15" r="1.85" fill="#8c1631" stroke="#200408" stroke-width="0.9"/>
<circle cx="353.4" cy="373.5" r="1.85" fill="#8c1631" stroke="#200408" stroke-width="0.9"/>
<circle cx="356.4" cy="374.5" r="1.85" fill="#8c1631" stroke="#200408" stroke-width="0.9"/>
<circle cx="360.3" cy="374.65" r="1.85" fill="#8c1631" stroke="#200408" stroke-width="0.9"/>
<circle cx="351" cy="375.16" r="1.85" fill="#8c1631" stroke="#200408" stroke-width="0.9"/>
<circle cx="353.18" cy="375.86" r="1.85" fill="#8c1631" stroke="#200408" stroke-width="0.9"/>
<circle cx="353.81" cy="376.58" r="1.85" fill="#8c1631" stroke="#200408" stroke-width="0.9"/>
<circle cx="356.7" cy="377.83" r="1.85" fill="#8c1631" stroke="#200408" stroke-width="0.9"/>
<circle cx="355.8" cy="381.01" r="1.85" fill="#8c1631" stroke="#200408" stroke-width="0.9"/>
<circle cx="358.8" cy="381.11" r="1.85" fill="#8c1631" stroke="#200408" stroke-width="0.9"/>
<circle cx="355.8" cy="384.7" r="1.85" fill="#8c1631" stroke="#200408" stroke-width="0.9"/>
<circle cx="357" cy="387.34" r="1.85" fill="#8c1631" stroke="#200408" stroke-width="0.9"/>
<circle cx="354" cy="387.54" r="1.85" fill="#8c1631" stroke="#200408" stroke-width="0.9"/>
<circle cx="359.4" cy="389.22" r="1.85" fill="#8c1631" stroke="#200408" stroke-width="0.9"/>
<circle cx="355.8" cy="390.58" r="1.85" fill="#8c1631" stroke="#200408" stroke-width="0.9"/>
<circle cx="358.5" cy="391.99" r="1.85" fill="#8c1631" stroke="#200408" stroke-width="0.9"/>
<circle cx="353.4" cy="392.56" r="1.85" fill="#8c1631" stroke="#200408" stroke-width="0.9"/>
<circle cx="379.4" cy="343.86" r="1.85" fill="#6d9c50" stroke="#142008" stroke-width="0.9"/>
<circle cx="382.4" cy="344.1" r="1.85" fill="#6d9c50" stroke="#142008" stroke-width="0.9"/>
<circle cx="376.4" cy="344.81" r="1.85" fill="#6d9c50" stroke="#142008" stroke-width="0.9"/>
<circle cx="384.18" cy="344.81" r="1.85" fill="#6d9c50" stroke="#142008" stroke-width="0.9"/>
<circle cx="379.61" cy="345.03" r="1.85" fill="#6d9c50" stroke="#142008" stroke-width="0.9"/>
<circle cx="379.88" cy="346.11" r="1.85" fill="#6d9c50" stroke="#142008" stroke-width="0.9"/>
<circle cx="374.51" cy="346.83" r="1.85" fill="#6d9c50" stroke="#142008" stroke-width="0.9"/>
<circle cx="382.7" cy="347.49" r="1.85" fill="#6d9c50" stroke="#142008" stroke-width="0.9"/>
<circle cx="378.55" cy="347.57" r="1.85" fill="#6d9c50" stroke="#142008" stroke-width="0.9"/>
<circle cx="380.2" cy="348.28" r="1.85" fill="#6d9c50" stroke="#142008" stroke-width="0.9"/>
<circle cx="376.4" cy="349.63" r="1.85" fill="#6d9c50" stroke="#142008" stroke-width="0.9"/>
<circle cx="379.4" cy="351.61" r="1.85" fill="#6d9c50" stroke="#142008" stroke-width="0.9"/>
<circle cx="382.4" cy="352.08" r="1.85" fill="#6d9c50" stroke="#142008" stroke-width="0.9"/>
<circle cx="376.7" cy="352.91" r="1.85" fill="#6d9c50" stroke="#142008" stroke-width="0.9"/>
<circle cx="379.7" cy="354.48" r="1.85" fill="#6d9c50" stroke="#142008" stroke-width="0.9"/>
<circle cx="379.4" cy="357.89" r="1.85" fill="#6d9c50" stroke="#142008" stroke-width="0.9"/>
<circle cx="382.4" cy="358.45" r="1.85" fill="#6d9c50" stroke="#142008" stroke-width="0.9"/>
<circle cx="376.7" cy="359.01" r="1.85" fill="#6d9c50" stroke="#142008" stroke-width="0.9"/>
<circle cx="395.5" cy="346.75" r="1.85" fill="#8c1631" stroke="#200408" stroke-width="0.9"/>
<circle cx="398.5" cy="347.06" r="1.85" fill="#8c1631" stroke="#200408" stroke-width="0.9"/>
<circle cx="393.4" cy="348.83" r="1.85" fill="#8c1631" stroke="#200408" stroke-width="0.9"/>
<circle cx="390.7" cy="348.98" r="1.85" fill="#8c1631" stroke="#200408" stroke-width="0.9"/>
<circle cx="395.5" cy="351.71" r="1.85" fill="#8c1631" stroke="#200408" stroke-width="0.9"/>
<circle cx="397.9" cy="353.55" r="1.85" fill="#8c1631" stroke="#200408" stroke-width="0.9"/>
<circle cx="393.4" cy="353.82" r="1.85" fill="#8c1631" stroke="#200408" stroke-width="0.9"/>
<circle cx="391" cy="355.49" r="1.85" fill="#8c1631" stroke="#200408" stroke-width="0.9"/>
<circle cx="395.5" cy="357.22" r="1.85" fill="#8c1631" stroke="#200408" stroke-width="0.9"/>
<circle cx="398.2" cy="358.58" r="1.85" fill="#8c1631" stroke="#200408" stroke-width="0.9"/>
<circle cx="393.1" cy="358.96" r="1.85" fill="#8c1631" stroke="#200408" stroke-width="0.9"/>
<circle cx="395.5" cy="360.95" r="1.85" fill="#8c1631" stroke="#200408" stroke-width="0.9"/>
<circle cx="397.6" cy="363.09" r="1.85" fill="#8c1631" stroke="#200408" stroke-width="0.9"/>
<circle cx="394.3" cy="363.65" r="1.85" fill="#8c1631" stroke="#200408" stroke-width="0.9"/>
<circle cx="391.3" cy="363.67" r="1.85" fill="#8c1631" stroke="#200408" stroke-width="0.9"/>
<circle cx="396.66" cy="363.89" r="1.85" fill="#8c1631" stroke="#200408" stroke-width="0.9"/>
<circle cx="395.5" cy="380.21" r="1.85" fill="#8c1631" stroke="#200408" stroke-width="0.9"/>
<circle cx="420.9" cy="319.14" r="1.85" fill="#6d9c50" stroke="#142008" stroke-width="0.9"/>
<circle cx="420.9" cy="325.05" r="1.85" fill="#6d9c50" stroke="#142008" stroke-width="0.9"/>
<circle cx="420.9" cy="334.9" r="1.85" fill="#6d9c50" stroke="#142008" stroke-width="0.9"/>
<circle cx="420.9" cy="338.84" r="1.85" fill="#6d9c50" stroke="#142008" stroke-width="0.9"/>
<circle cx="420.9" cy="341.95" r="1.85" fill="#6d9c50" stroke="#142008" stroke-width="0.9"/>
<circle cx="423.9" cy="342.41" r="1.85" fill="#6d9c50" stroke="#142008" stroke-width="0.9"/>
<circle cx="418.2" cy="343.05" r="1.85" fill="#6d9c50" stroke="#142008" stroke-width="0.9"/>
<circle cx="422.22" cy="343.49" r="1.85" fill="#6d9c50" stroke="#142008" stroke-width="0.9"/>
<circle cx="416.5" cy="344.34" r="1.85" fill="#6d9c50" stroke="#142008" stroke-width="0.9"/>
<circle cx="420.9" cy="347.43" r="1.85" fill="#6d9c50" stroke="#142008" stroke-width="0.9"/>
<circle cx="423.9" cy="347.62" r="1.85" fill="#6d9c50" stroke="#142008" stroke-width="0.9"/>
<circle cx="417.9" cy="348.41" r="1.85" fill="#6d9c50" stroke="#142008" stroke-width="0.9"/>
<circle cx="422.17" cy="349.15" r="1.85" fill="#6d9c50" stroke="#142008" stroke-width="0.9"/>
<circle cx="420.56" cy="349.17" r="1.85" fill="#6d9c50" stroke="#142008" stroke-width="0.9"/>
<circle cx="424.8" cy="350.53" r="1.85" fill="#6d9c50" stroke="#142008" stroke-width="0.9"/>
<circle cx="419.1" cy="351.79" r="1.85" fill="#6d9c50" stroke="#142008" stroke-width="0.9"/>
<circle cx="422.1" cy="352.68" r="1.85" fill="#6d9c50" stroke="#142008" stroke-width="0.9"/>
<circle cx="416.4" cy="353.3" r="1.85" fill="#6d9c50" stroke="#142008" stroke-width="0.9"/>
<circle cx="424.8" cy="354.19" r="1.85" fill="#6d9c50" stroke="#142008" stroke-width="0.9"/>
<circle cx="420.9" cy="355.68" r="1.85" fill="#6d9c50" stroke="#142008" stroke-width="0.9"/>
<circle cx="417.9" cy="356.63" r="1.85" fill="#6d9c50" stroke="#142008" stroke-width="0.9"/>
<circle cx="423.6" cy="357.11" r="1.85" fill="#6d9c50" stroke="#142008" stroke-width="0.9"/>
<circle cx="437" cy="345.74" r="1.85" fill="#8c1631" stroke="#200408" stroke-width="0.9"/>
<circle cx="437" cy="356.28" r="1.85" fill="#8c1631" stroke="#200408" stroke-width="0.9"/>
<circle cx="440" cy="356.58" r="1.85" fill="#8c1631" stroke="#200408" stroke-width="0.9"/>
<circle cx="434.3" cy="357.32" r="1.85" fill="#8c1631" stroke="#200408" stroke-width="0.9"/>
<circle cx="438.79" cy="357.8" r="1.85" fill="#8c1631" stroke="#200408" stroke-width="0.9"/>
<circle cx="437" cy="361.55" r="1.85" fill="#8c1631" stroke="#200408" stroke-width="0.9"/>
<circle cx="440" cy="361.95" r="1.85" fill="#8c1631" stroke="#200408" stroke-width="0.9"/>
<circle cx="434" cy="362.11" r="1.85" fill="#8c1631" stroke="#200408" stroke-width="0.9"/>
<circle cx="435.53" cy="362.36" r="1.85" fill="#8c1631" stroke="#200408" stroke-width="0.9"/>
<circle cx="439.07" cy="362.97" r="1.85" fill="#8c1631" stroke="#200408" stroke-width="0.9"/>
<circle cx="439.38" cy="363.62" r="1.85" fill="#8c1631" stroke="#200408" stroke-width="0.9"/>
<circle cx="432.22" cy="363.84" r="1.85" fill="#8c1631" stroke="#200408" stroke-width="0.9"/>
<circle cx="432.61" cy="364.62" r="1.85" fill="#8c1631" stroke="#200408" stroke-width="0.9"/>
<circle cx="437" cy="366" r="1.85" fill="#8c1631" stroke="#200408" stroke-width="0.9"/>
<circle cx="439.7" cy="367.07" r="1.85" fill="#8c1631" stroke="#200408" stroke-width="0.9"/>
<circle cx="437" cy="369.71" r="1.85" fill="#8c1631" stroke="#200408" stroke-width="0.9"/>
<circle cx="439.4" cy="371.62" r="1.85" fill="#8c1631" stroke="#200408" stroke-width="0.9"/>
<circle cx="437" cy="384.15" r="1.85" fill="#8c1631" stroke="#200408" stroke-width="0.9"/>
<line x1="338.6" y1="340.2" x2="354.8" y2="340.2" stroke="#111" stroke-width="1.0"/>
<text x="346.7" y="340.8" font-size="5.6" text-anchor="middle" font-weight="normal" fill="#222">***</text>
<line x1="379.8" y1="334.8" x2="395.6" y2="334.8" stroke="#111" stroke-width="1.0"/>
<text x="387.7" y="335.4" font-size="5.6" text-anchor="middle" font-weight="normal" fill="#222">**</text>
<line x1="419.8" y1="311.9" x2="435.2" y2="311.9" stroke="#111" stroke-width="1.0"/>
<text x="427.5" y="312.5" font-size="5.6" text-anchor="middle" font-weight="normal" fill="#222">***</text>
<circle cx="452.7" cy="316.1" r="1.7" fill="#6d9c50" stroke="#142008" stroke-width="0.9"/>
<circle cx="452.7" cy="326.8" r="1.7" fill="#8c1631" stroke="#200408" stroke-width="0.9"/>
<text x="458.1" y="317.4" font-size="5.3" text-anchor="start" fill="#2a2a2a" textLength="38.8" lengthAdjust="spacingAndGlyphs">H<tspan dy="1.17" font-size="3.39">2</tspan><tspan dy="-1.17">O</tspan><tspan dy="1.17" font-size="3.39">2</tspan><tspan dy="-1.17"> modulated</tspan></text>
<text x="458.1" y="328.2" font-size="5.3" text-anchor="start" fill="#2a2a2a" textLength="53.6" lengthAdjust="spacingAndGlyphs">NAC+H<tspan dy="1.17" font-size="3.39">2</tspan><tspan dy="-1.17">O</tspan><tspan dy="1.17" font-size="3.39">2</tspan><tspan dy="-1.17"> modulated</tspan></text>
<defs><filter id="b5" x="-50%" y="-50%" width="200%" height="200%"><feGaussianBlur stdDeviation="0.5"/></filter><filter id="b8" x="-50%" y="-50%" width="200%" height="200%"><feGaussianBlur stdDeviation="0.8"/></filter><filter id="b10" x="-50%" y="-50%" width="200%" height="200%"><feGaussianBlur stdDeviation="1.0"/></filter><filter id="b12" x="-50%" y="-50%" width="200%" height="200%"><feGaussianBlur stdDeviation="1.2"/></filter><filter id="b15" x="-50%" y="-50%" width="200%" height="200%"><feGaussianBlur stdDeviation="1.5"/></filter><filter id="b20" x="-50%" y="-50%" width="200%" height="200%"><feGaussianBlur stdDeviation="2.0"/></filter></defs>
<text x="151.5" y="426.5" font-size="8.0" text-anchor="middle" font-weight="bold" fill="#0a0a0a" textLength="12.4" lengthAdjust="spacingAndGlyphs">HD</text>
<text x="328.2" y="426.4" font-size="8.0" text-anchor="middle" font-weight="bold" fill="#0a0a0a" textLength="14.8" lengthAdjust="spacingAndGlyphs">CLL</text>
<line x1="84.2" y1="429.8" x2="218.7" y2="429.8" stroke="#111" stroke-width="1.4"/>
<line x1="261.2" y1="429.8" x2="395" y2="429.8" stroke="#111" stroke-width="1.4"/>
<text x="114.5" y="439" font-size="6.2" text-anchor="middle" font-weight="normal" fill="#1a1a1a" textLength="40.4" lengthAdjust="spacingAndGlyphs">Unmodulated</text>
<text x="290.4" y="439.4" font-size="6.2" text-anchor="middle" font-weight="normal" fill="#1a1a1a" textLength="40.4" lengthAdjust="spacingAndGlyphs">Unmodulated</text>
<text x="188.5" y="439" font-size="6.2" text-anchor="middle" fill="#1a1a1a" textLength="48.4" lengthAdjust="spacingAndGlyphs">H<tspan dy="1.36" font-size="3.97">2</tspan><tspan dy="-1.36">O</tspan><tspan dy="1.36" font-size="3.97">2</tspan><tspan dy="-1.36"> modulated</tspan></text>
<text x="363.2" y="439.4" font-size="6.2" text-anchor="middle" fill="#1a1a1a" textLength="48.4" lengthAdjust="spacingAndGlyphs">H<tspan dy="1.36" font-size="3.97">2</tspan><tspan dy="-1.36">O</tspan><tspan dy="1.36" font-size="3.97">2</tspan><tspan dy="-1.36"> modulated</tspan></text>
<line x1="70.5" y1="444.2" x2="70.5" y2="502.6" stroke="#111" stroke-width="1.2"/>
<text x="66.4" y="471.4" font-size="5.8" text-anchor="middle" font-weight="normal" fill="#1a1a1a" textLength="19.6" lengthAdjust="spacingAndGlyphs" transform="rotate(-90 66.4 471.4)">pERK1/2</text>
<line x1="246.7" y1="444.2" x2="246.7" y2="502.6" stroke="#111" stroke-width="1.2"/>
<text x="242.6" y="471.4" font-size="5.8" text-anchor="middle" font-weight="normal" fill="#1a1a1a" textLength="19.6" lengthAdjust="spacingAndGlyphs" transform="rotate(-90 242.6 471.4)">pERK1/2</text>
<line x1="84.2" y1="513.6" x2="218.7" y2="513.6" stroke="#111" stroke-width="1.3"/>
<line x1="261.2" y1="513.6" x2="393.5" y2="513.6" stroke="#111" stroke-width="1.3"/>
<text x="152" y="520.6" font-size="5.6" text-anchor="middle" font-weight="normal" fill="#1a1a1a" textLength="11.9" lengthAdjust="spacingAndGlyphs">pSYK</text>
<text x="327" y="520.6" font-size="5.6" text-anchor="middle" font-weight="normal" fill="#1a1a1a" textLength="11.9" lengthAdjust="spacingAndGlyphs">pSYK</text>
<clipPath id="fc00"><rect x="84.2" y="444.2" width="59.7" height="59"/></clipPath>
<g clip-path="url(#fc00)">
<circle cx="99.82" cy="487.35" r="0.4" fill="#000" opacity="0.20"/>
<circle cx="86.87" cy="485.27" r="0.4" fill="#000" opacity="0.20"/>
<circle cx="83.74" cy="483.23" r="0.4" fill="#000" opacity="0.20"/>
<circle cx="102.84" cy="481.62" r="0.4" fill="#000" opacity="0.20"/>
<circle cx="100.43" cy="488.76" r="0.4" fill="#000" opacity="0.20"/>
<circle cx="90.95" cy="491.67" r="0.4" fill="#000" opacity="0.20"/>
<circle cx="109.17" cy="485.53" r="0.4" fill="#000" opacity="0.20"/>
<circle cx="98.46" cy="480.19" r="0.4" fill="#000" opacity="0.20"/>
<circle cx="108.62" cy="490.55" r="0.4" fill="#000" opacity="0.20"/>
<circle cx="114.39" cy="475.88" r="0.4" fill="#000" opacity="0.20"/>
<circle cx="100.07" cy="474.68" r="0.4" fill="#000" opacity="0.20"/>
<circle cx="91.02" cy="495.87" r="0.4" fill="#000" opacity="0.20"/>
<circle cx="88.77" cy="483.44" r="0.4" fill="#000" opacity="0.20"/>
<circle cx="109.72" cy="487.21" r="0.4" fill="#000" opacity="0.20"/>
<circle cx="113.2" cy="483.99" r="0.4" fill="#000" opacity="0.20"/>
<circle cx="92.29" cy="483.57" r="0.4" fill="#000" opacity="0.20"/>
<circle cx="114.29" cy="482.07" r="0.4" fill="#000" opacity="0.20"/>
<circle cx="107.01" cy="479.06" r="0.4" fill="#000" opacity="0.20"/>
<circle cx="85.91" cy="486.67" r="0.4" fill="#000" opacity="0.20"/>
<circle cx="130.39" cy="475.61" r="0.4" fill="#000" opacity="0.20"/>
<circle cx="97.66" cy="491.74" r="0.4" fill="#000" opacity="0.20"/>
<circle cx="102.82" cy="484.48" r="0.4" fill="#000" opacity="0.20"/>
<circle cx="102.88" cy="487.96" r="0.4" fill="#000" opacity="0.20"/>
<circle cx="101.68" cy="473.97" r="0.4" fill="#000" opacity="0.20"/>
<circle cx="101.91" cy="483.91" r="0.4" fill="#000" opacity="0.20"/>
<ellipse cx="99.5" cy="488.2" rx="12" ry="4.5" fill="#000" opacity="0.25" filter="url(#b15)"/>
<ellipse cx="102.5" cy="488.2" rx="7.5" ry="3" fill="#000" opacity="0.50" filter="url(#b10)"/>
<ellipse cx="104" cy="488.2" rx="4.5" ry="1.8" fill="#000" opacity="0.35" filter="url(#b8)"/>
<ellipse cx="102" cy="488.2" rx="9" ry="3.4" fill="none" stroke="#000" stroke-width="0.5" opacity="0.25"/>
<ellipse cx="104" cy="488.4" rx="3" ry="0.6" fill="#fff" opacity="0.60" filter="url(#b5)"/>
</g>
<rect x="84.2" y="444.2" width="59.7" height="59" fill="none" stroke="#a0a0a0" stroke-width="0.7"/>
<line x1="112.8" y1="444.2" x2="112.8" y2="503.2" stroke="#666" stroke-width="0.75"/>
<line x1="84.2" y1="482" x2="143.9" y2="482" stroke="#666" stroke-width="0.75"/>
<text x="82.8" y="453.4" font-size="4.6" text-anchor="end" fill="#2a2a2a">10<tspan dy="-1.7" font-size="3.0">5</tspan></text>
<line x1="83.2" y1="451.8" x2="84.2" y2="451.8" stroke="#333" stroke-width="0.6"/>
<text x="82.8" y="466.4" font-size="4.6" text-anchor="end" fill="#2a2a2a">10<tspan dy="-1.7" font-size="3.0">4</tspan></text>
<line x1="83.2" y1="464.8" x2="84.2" y2="464.8" stroke="#333" stroke-width="0.6"/>
<text x="82.8" y="480.6" font-size="4.6" text-anchor="end" fill="#2a2a2a">10<tspan dy="-1.7" font-size="3.0">3</tspan></text>
<line x1="83.2" y1="479" x2="84.2" y2="479" stroke="#333" stroke-width="0.6"/>
<text x="82.8" y="494.4" font-size="4.6" text-anchor="end" fill="#2a2a2a">0</text>
<line x1="83.2" y1="492.8" x2="84.2" y2="492.8" stroke="#333" stroke-width="0.6"/>
<line x1="83.6" y1="490.7" x2="83.6" y2="494.7" stroke="#111" stroke-width="1.2"/>
<text x="94" y="512.1" font-size="4.6" text-anchor="middle" fill="#2a2a2a">0</text>
<line x1="94" y1="503.2" x2="94" y2="504.2" stroke="#333" stroke-width="0.6"/>
<text x="108.8" y="512.1" font-size="4.6" text-anchor="middle" fill="#2a2a2a">10<tspan dy="-1.7" font-size="3.0">3</tspan></text>
<line x1="108.8" y1="503.2" x2="108.8" y2="504.2" stroke="#333" stroke-width="0.6"/>
<text x="123.6" y="512.1" font-size="4.6" text-anchor="middle" fill="#2a2a2a">10<tspan dy="-1.7" font-size="3.0">4</tspan></text>
<line x1="123.6" y1="503.2" x2="123.6" y2="504.2" stroke="#333" stroke-width="0.6"/>
<text x="137.8" y="512.1" font-size="4.6" text-anchor="middle" fill="#2a2a2a">10<tspan dy="-1.7" font-size="3.0">5</tspan></text>
<line x1="137.8" y1="503.2" x2="137.8" y2="504.2" stroke="#333" stroke-width="0.6"/>
<line x1="91.7" y1="504" x2="95.7" y2="504" stroke="#111" stroke-width="1.2"/>
<text x="86.2" y="453.2" font-size="4.5" text-anchor="start" font-weight="normal" fill="#1a1a1a" textLength="11.15" lengthAdjust="spacingAndGlyphs" stroke="#1a1a1a" stroke-width="0.1">0,89%</text>
<text x="132.3" y="453.2" font-size="4.5" text-anchor="end" font-weight="normal" fill="#1a1a1a" textLength="11.15" lengthAdjust="spacingAndGlyphs" stroke="#1a1a1a" stroke-width="0.1">0,40%</text>
<text x="86.2" y="499.2" font-size="4.5" text-anchor="start" font-weight="normal" fill="#1a1a1a" textLength="11.15" lengthAdjust="spacingAndGlyphs" stroke="#1a1a1a" stroke-width="0.1">98,4%</text>
<text x="132.3" y="499.2" font-size="4.5" text-anchor="end" font-weight="normal" fill="#1a1a1a" textLength="11.15" lengthAdjust="spacingAndGlyphs" stroke="#1a1a1a" stroke-width="0.1">0,32%</text>
<clipPath id="fc01"><rect x="158.2" y="444.2" width="60.4" height="59"/></clipPath>
<g clip-path="url(#fc01)">
<circle cx="175.19" cy="466.71" r="0.4" fill="#000" opacity="0.20"/>
<circle cx="177.6" cy="476.56" r="0.4" fill="#000" opacity="0.20"/>
<circle cx="185.49" cy="462.41" r="0.4" fill="#000" opacity="0.20"/>
<circle cx="180.84" cy="479.6" r="0.4" fill="#000" opacity="0.20"/>
<circle cx="164.89" cy="462.11" r="0.4" fill="#000" opacity="0.20"/>
<circle cx="181.04" cy="482.75" r="0.4" fill="#000" opacity="0.20"/>
<circle cx="183.1" cy="492.56" r="0.4" fill="#000" opacity="0.20"/>
<circle cx="174.34" cy="475.28" r="0.4" fill="#000" opacity="0.20"/>
<circle cx="174.05" cy="468.26" r="0.4" fill="#000" opacity="0.20"/>
<circle cx="171.69" cy="475.82" r="0.4" fill="#000" opacity="0.20"/>
<circle cx="169.84" cy="461.06" r="0.4" fill="#000" opacity="0.20"/>
<circle cx="190.57" cy="481.47" r="0.4" fill="#000" opacity="0.20"/>
<circle cx="182.44" cy="474.63" r="0.4" fill="#000" opacity="0.20"/>
<circle cx="168.04" cy="466.84" r="0.4" fill="#000" opacity="0.20"/>
<circle cx="171.85" cy="479.56" r="0.4" fill="#000" opacity="0.20"/>
<circle cx="171.27" cy="484.84" r="0.4" fill="#000" opacity="0.20"/>
<circle cx="178.27" cy="480.87" r="0.4" fill="#000" opacity="0.20"/>
<circle cx="165.15" cy="462.75" r="0.4" fill="#000" opacity="0.20"/>
<circle cx="180.07" cy="467.28" r="0.4" fill="#000" opacity="0.20"/>
<circle cx="180.22" cy="485.02" r="0.4" fill="#000" opacity="0.20"/>
<circle cx="174.01" cy="488.22" r="0.4" fill="#000" opacity="0.20"/>
<circle cx="163.43" cy="456.73" r="0.4" fill="#000" opacity="0.20"/>
<circle cx="172.57" cy="473" r="0.4" fill="#000" opacity="0.20"/>
<circle cx="181.69" cy="479.42" r="0.4" fill="#000" opacity="0.20"/>
<circle cx="177.45" cy="471.74" r="0.4" fill="#000" opacity="0.20"/>
<circle cx="163.62" cy="472.73" r="0.4" fill="#000" opacity="0.20"/>
<circle cx="186.27" cy="466.59" r="0.4" fill="#000" opacity="0.20"/>
<circle cx="177.75" cy="474.4" r="0.4" fill="#000" opacity="0.20"/>
<circle cx="175.86" cy="484.75" r="0.4" fill="#000" opacity="0.20"/>
<circle cx="173.43" cy="451.08" r="0.4" fill="#000" opacity="0.20"/>
<circle cx="176.31" cy="480.07" r="0.4" fill="#000" opacity="0.20"/>
<circle cx="175.67" cy="479.54" r="0.4" fill="#000" opacity="0.20"/>
<circle cx="184.7" cy="474.06" r="0.4" fill="#000" opacity="0.20"/>
<circle cx="178.37" cy="472.26" r="0.4" fill="#000" opacity="0.20"/>
<circle cx="173.47" cy="469.47" r="0.4" fill="#000" opacity="0.20"/>
<circle cx="178.99" cy="468.26" r="0.4" fill="#000" opacity="0.20"/>
<circle cx="177.93" cy="476.34" r="0.4" fill="#000" opacity="0.20"/>
<circle cx="176.04" cy="492.94" r="0.4" fill="#000" opacity="0.20"/>
<circle cx="165.93" cy="476.76" r="0.4" fill="#000" opacity="0.20"/>
<circle cx="176.03" cy="479.5" r="0.4" fill="#000" opacity="0.20"/>
<ellipse cx="176.5" cy="476" rx="9.5" ry="13.5" fill="#000" opacity="0.22" filter="url(#b20)" transform="rotate(18 176.5 476)"/>
<ellipse cx="174.5" cy="487.4" rx="11" ry="5" fill="#000" opacity="0.40" filter="url(#b12)" transform="rotate(-4 174.5 487.4)"/>
<ellipse cx="175" cy="488.5" rx="7" ry="2.6" fill="#000" opacity="0.30" filter="url(#b8)" transform="rotate(-4 175 488.5)"/>
<ellipse cx="176.5" cy="477" rx="8.5" ry="12" fill="none" stroke="#000" stroke-width="0.45" opacity="0.18" transform="rotate(18 176.5 477)"/>
<ellipse cx="177" cy="474.5" rx="6" ry="8.5" fill="none" stroke="#000" stroke-width="0.45" opacity="0.15" transform="rotate(18 177 474.5)"/>
<ellipse cx="174.5" cy="487.8" rx="10" ry="4" fill="none" stroke="#000" stroke-width="0.5" opacity="0.35" transform="rotate(-4 174.5 487.8)"/>
<ellipse cx="176" cy="488.6" rx="3" ry="0.8" fill="#fff" opacity="0.50" filter="url(#b5)"/>
</g>
<rect x="158.2" y="444.2" width="60.4" height="59" fill="none" stroke="#a0a0a0" stroke-width="0.7"/>
<line x1="187.5" y1="444.2" x2="187.5" y2="503.2" stroke="#666" stroke-width="0.75"/>
<line x1="158.2" y1="482" x2="218.6" y2="482" stroke="#666" stroke-width="0.75"/>
<text x="156.8" y="453.4" font-size="4.6" text-anchor="end" fill="#2a2a2a">10<tspan dy="-1.7" font-size="3.0">5</tspan></text>
<line x1="157.2" y1="451.8" x2="158.2" y2="451.8" stroke="#333" stroke-width="0.6"/>
<text x="156.8" y="466.4" font-size="4.6" text-anchor="end" fill="#2a2a2a">10<tspan dy="-1.7" font-size="3.0">4</tspan></text>
<line x1="157.2" y1="464.8" x2="158.2" y2="464.8" stroke="#333" stroke-width="0.6"/>
<text x="156.8" y="480.6" font-size="4.6" text-anchor="end" fill="#2a2a2a">10<tspan dy="-1.7" font-size="3.0">3</tspan></text>
<line x1="157.2" y1="479" x2="158.2" y2="479" stroke="#333" stroke-width="0.6"/>
<text x="156.8" y="494.4" font-size="4.6" text-anchor="end" fill="#2a2a2a">0</text>
<line x1="157.2" y1="492.8" x2="158.2" y2="492.8" stroke="#333" stroke-width="0.6"/>
<line x1="157.6" y1="490.7" x2="157.6" y2="494.7" stroke="#111" stroke-width="1.2"/>
<text x="168" y="512.1" font-size="4.6" text-anchor="middle" fill="#2a2a2a">0</text>
<line x1="168" y1="503.2" x2="168" y2="504.2" stroke="#333" stroke-width="0.6"/>
<text x="182.8" y="512.1" font-size="4.6" text-anchor="middle" fill="#2a2a2a">10<tspan dy="-1.7" font-size="3.0">3</tspan></text>
<line x1="182.8" y1="503.2" x2="182.8" y2="504.2" stroke="#333" stroke-width="0.6"/>
<text x="197.6" y="512.1" font-size="4.6" text-anchor="middle" fill="#2a2a2a">10<tspan dy="-1.7" font-size="3.0">4</tspan></text>
<line x1="197.6" y1="503.2" x2="197.6" y2="504.2" stroke="#333" stroke-width="0.6"/>
<text x="211.8" y="512.1" font-size="4.6" text-anchor="middle" fill="#2a2a2a">10<tspan dy="-1.7" font-size="3.0">5</tspan></text>
<line x1="211.8" y1="503.2" x2="211.8" y2="504.2" stroke="#333" stroke-width="0.6"/>
<line x1="165.7" y1="504" x2="169.7" y2="504" stroke="#111" stroke-width="1.2"/>
<text x="160.2" y="453.2" font-size="4.5" text-anchor="start" font-weight="normal" fill="#1a1a1a" textLength="11.15" lengthAdjust="spacingAndGlyphs" stroke="#1a1a1a" stroke-width="0.1">33,3%</text>
<text x="207" y="453.2" font-size="4.5" text-anchor="end" font-weight="normal" fill="#1a1a1a" textLength="11.15" lengthAdjust="spacingAndGlyphs" stroke="#1a1a1a" stroke-width="0.1">0,94%</text>
<text x="160.2" y="499.2" font-size="4.5" text-anchor="start" font-weight="normal" fill="#1a1a1a" textLength="11.15" lengthAdjust="spacingAndGlyphs" stroke="#1a1a1a" stroke-width="0.1">65,8%</text>
<text x="207" y="499.2" font-size="4.5" text-anchor="end" font-weight="normal" fill="#1a1a1a" textLength="11.15" lengthAdjust="spacingAndGlyphs" stroke="#1a1a1a" stroke-width="0.1">0,31%</text>
<clipPath id="fc02"><rect x="261.2" y="444.2" width="59" height="59"/></clipPath>
<g clip-path="url(#fc02)">
<circle cx="291.56" cy="481.02" r="0.4" fill="#000" opacity="0.20"/>
<circle cx="283.72" cy="481.34" r="0.4" fill="#000" opacity="0.20"/>
<circle cx="263.59" cy="486" r="0.4" fill="#000" opacity="0.20"/>
<circle cx="266.15" cy="482.79" r="0.4" fill="#000" opacity="0.20"/>
<circle cx="304.29" cy="472.54" r="0.4" fill="#000" opacity="0.20"/>
<circle cx="284.27" cy="468.95" r="0.4" fill="#000" opacity="0.20"/>
<circle cx="272.37" cy="480.45" r="0.4" fill="#000" opacity="0.20"/>
<circle cx="273.41" cy="480.95" r="0.4" fill="#000" opacity="0.20"/>
<circle cx="286.54" cy="481.19" r="0.4" fill="#000" opacity="0.20"/>
<circle cx="266.96" cy="476.45" r="0.4" fill="#000" opacity="0.20"/>
<circle cx="282.57" cy="475.51" r="0.4" fill="#000" opacity="0.20"/>
<circle cx="274.71" cy="481.97" r="0.4" fill="#000" opacity="0.20"/>
<circle cx="291.91" cy="483.74" r="0.4" fill="#000" opacity="0.20"/>
<circle cx="273.08" cy="484.23" r="0.4" fill="#000" opacity="0.20"/>
<circle cx="288.47" cy="476.11" r="0.4" fill="#000" opacity="0.20"/>
<circle cx="286.3" cy="467.51" r="0.4" fill="#000" opacity="0.20"/>
<circle cx="292.18" cy="479.32" r="0.4" fill="#000" opacity="0.20"/>
<circle cx="301.62" cy="476.43" r="0.4" fill="#000" opacity="0.20"/>
<circle cx="286.63" cy="484.91" r="0.4" fill="#000" opacity="0.20"/>
<circle cx="287.02" cy="481.88" r="0.4" fill="#000" opacity="0.20"/>
<rect x="263.8" y="483.3" width="28.4" height="8.4" rx="4.2" fill="#000" opacity="0.25" filter="url(#b10)"/>
<rect x="268" y="484.7" width="22" height="5.6" rx="2.8" fill="#000" opacity="0.40" filter="url(#b8)"/>
<rect x="264.6" y="483.8" width="26.8" height="7.4" rx="3.7" fill="none" stroke="#000" stroke-width="0.7" opacity="0.95"/>
<rect x="268.3" y="484.9" width="21" height="5.2" rx="2.6" fill="none" stroke="#000" stroke-width="0.6" opacity="0.90"/>
<rect x="272.5" y="486" width="14" height="3" rx="1.5" fill="none" stroke="#000" stroke-width="0.5" opacity="0.75"/>
<ellipse cx="280" cy="487.5" rx="4" ry="0.6" fill="#fff" opacity="0.60" filter="url(#b5)"/>
</g>
<rect x="261.2" y="444.2" width="59" height="59" fill="none" stroke="#a0a0a0" stroke-width="0.7"/>
<line x1="292.4" y1="444.2" x2="292.4" y2="503.2" stroke="#666" stroke-width="0.75"/>
<line x1="261.2" y1="482" x2="320.2" y2="482" stroke="#666" stroke-width="0.75"/>
<text x="259.8" y="453.4" font-size="4.6" text-anchor="end" fill="#2a2a2a">10<tspan dy="-1.7" font-size="3.0">5</tspan></text>
<line x1="260.2" y1="451.8" x2="261.2" y2="451.8" stroke="#333" stroke-width="0.6"/>
<text x="259.8" y="466.4" font-size="4.6" text-anchor="end" fill="#2a2a2a">10<tspan dy="-1.7" font-size="3.0">4</tspan></text>
<line x1="260.2" y1="464.8" x2="261.2" y2="464.8" stroke="#333" stroke-width="0.6"/>
<text x="259.8" y="480.6" font-size="4.6" text-anchor="end" fill="#2a2a2a">10<tspan dy="-1.7" font-size="3.0">3</tspan></text>
<line x1="260.2" y1="479" x2="261.2" y2="479" stroke="#333" stroke-width="0.6"/>
<text x="259.8" y="494.4" font-size="4.6" text-anchor="end" fill="#2a2a2a">0</text>
<line x1="260.2" y1="492.8" x2="261.2" y2="492.8" stroke="#333" stroke-width="0.6"/>
<line x1="260.6" y1="490.7" x2="260.6" y2="494.7" stroke="#111" stroke-width="1.2"/>
<text x="271" y="512.1" font-size="4.6" text-anchor="middle" fill="#2a2a2a">0</text>
<line x1="271" y1="503.2" x2="271" y2="504.2" stroke="#333" stroke-width="0.6"/>
<text x="285.8" y="512.1" font-size="4.6" text-anchor="middle" fill="#2a2a2a">10<tspan dy="-1.7" font-size="3.0">3</tspan></text>
<line x1="285.8" y1="503.2" x2="285.8" y2="504.2" stroke="#333" stroke-width="0.6"/>
<text x="300.6" y="512.1" font-size="4.6" text-anchor="middle" fill="#2a2a2a">10<tspan dy="-1.7" font-size="3.0">4</tspan></text>
<line x1="300.6" y1="503.2" x2="300.6" y2="504.2" stroke="#333" stroke-width="0.6"/>
<text x="314.8" y="512.1" font-size="4.6" text-anchor="middle" fill="#2a2a2a">10<tspan dy="-1.7" font-size="3.0">5</tspan></text>
<line x1="314.8" y1="503.2" x2="314.8" y2="504.2" stroke="#333" stroke-width="0.6"/>
<line x1="268.7" y1="504" x2="272.7" y2="504" stroke="#111" stroke-width="1.2"/>
<text x="263.2" y="453.2" font-size="4.5" text-anchor="start" font-weight="normal" fill="#1a1a1a" textLength="11.15" lengthAdjust="spacingAndGlyphs" stroke="#1a1a1a" stroke-width="0.1">0,27%</text>
<text x="308.6" y="453.2" font-size="4.5" text-anchor="end" font-weight="normal" fill="#1a1a1a" textLength="13.4" lengthAdjust="spacingAndGlyphs" stroke="#1a1a1a" stroke-width="0.1">0,068%</text>
<text x="263.2" y="499.2" font-size="4.5" text-anchor="start" font-weight="normal" fill="#1a1a1a" textLength="11.15" lengthAdjust="spacingAndGlyphs" stroke="#1a1a1a" stroke-width="0.1">99,6%</text>
<text x="308.6" y="499.2" font-size="4.5" text-anchor="end" font-weight="normal" fill="#1a1a1a" textLength="11.15" lengthAdjust="spacingAndGlyphs" stroke="#1a1a1a" stroke-width="0.1">0,13%</text>
<clipPath id="fc03"><rect x="332.5" y="444.2" width="59.8" height="59"/></clipPath>
<g clip-path="url(#fc03)">
<circle cx="347.68" cy="467.89" r="0.4" fill="#000" opacity="0.22"/>
<circle cx="338.1" cy="474.93" r="0.4" fill="#000" opacity="0.22"/>
<circle cx="351" cy="477.01" r="0.4" fill="#000" opacity="0.22"/>
<circle cx="355.65" cy="473.72" r="0.4" fill="#000" opacity="0.22"/>
<circle cx="359.63" cy="480.33" r="0.4" fill="#000" opacity="0.22"/>
<circle cx="349.76" cy="473.42" r="0.4" fill="#000" opacity="0.22"/>
<circle cx="351.84" cy="482.17" r="0.4" fill="#000" opacity="0.22"/>
<circle cx="350.11" cy="470.88" r="0.4" fill="#000" opacity="0.22"/>
<circle cx="356.16" cy="472.81" r="0.4" fill="#000" opacity="0.22"/>
<circle cx="348.28" cy="477.4" r="0.4" fill="#000" opacity="0.22"/>
<circle cx="349.72" cy="481.27" r="0.4" fill="#000" opacity="0.22"/>
<circle cx="345.17" cy="477.93" r="0.4" fill="#000" opacity="0.22"/>
<circle cx="344.09" cy="482.41" r="0.4" fill="#000" opacity="0.22"/>
<circle cx="344.37" cy="483.49" r="0.4" fill="#000" opacity="0.22"/>
<circle cx="357.15" cy="494.79" r="0.4" fill="#000" opacity="0.22"/>
<circle cx="368.75" cy="471.57" r="0.4" fill="#000" opacity="0.22"/>
<circle cx="348.53" cy="480.1" r="0.4" fill="#000" opacity="0.22"/>
<circle cx="352.12" cy="483.02" r="0.4" fill="#000" opacity="0.22"/>
<circle cx="340.06" cy="478.7" r="0.4" fill="#000" opacity="0.22"/>
<circle cx="337.8" cy="473.07" r="0.4" fill="#000" opacity="0.22"/>
<circle cx="327.28" cy="482.31" r="0.4" fill="#000" opacity="0.22"/>
<circle cx="340.77" cy="481.99" r="0.4" fill="#000" opacity="0.22"/>
<circle cx="344.07" cy="481.85" r="0.4" fill="#000" opacity="0.22"/>
<circle cx="341.85" cy="472.79" r="0.4" fill="#000" opacity="0.22"/>
<circle cx="348.57" cy="479.36" r="0.4" fill="#000" opacity="0.22"/>
<circle cx="357.31" cy="464.2" r="0.4" fill="#000" opacity="0.22"/>
<circle cx="345.21" cy="480.83" r="0.4" fill="#000" opacity="0.22"/>
<circle cx="356.96" cy="477.97" r="0.4" fill="#000" opacity="0.22"/>
<circle cx="352.42" cy="473.82" r="0.4" fill="#000" opacity="0.22"/>
<circle cx="332.18" cy="473.6" r="0.4" fill="#000" opacity="0.22"/>
<circle cx="342.92" cy="478.11" r="0.4" fill="#000" opacity="0.22"/>
<circle cx="352.02" cy="471.66" r="0.4" fill="#000" opacity="0.22"/>
<circle cx="339.58" cy="467.5" r="0.4" fill="#000" opacity="0.22"/>
<circle cx="348.89" cy="479.96" r="0.4" fill="#000" opacity="0.22"/>
<circle cx="362.42" cy="480.66" r="0.4" fill="#000" opacity="0.22"/>
<circle cx="362.09" cy="472.77" r="0.4" fill="#000" opacity="0.22"/>
<circle cx="352.65" cy="475.83" r="0.4" fill="#000" opacity="0.22"/>
<circle cx="367.02" cy="474.54" r="0.4" fill="#000" opacity="0.22"/>
<circle cx="358.1" cy="482.15" r="0.4" fill="#000" opacity="0.22"/>
<circle cx="353.82" cy="469.93" r="0.4" fill="#000" opacity="0.22"/>
<circle cx="339.95" cy="480.04" r="0.4" fill="#000" opacity="0.22"/>
<circle cx="337.68" cy="475.75" r="0.4" fill="#000" opacity="0.22"/>
<circle cx="348.7" cy="480.92" r="0.4" fill="#000" opacity="0.22"/>
<circle cx="349.29" cy="492.59" r="0.4" fill="#000" opacity="0.22"/>
<circle cx="347.07" cy="480.73" r="0.4" fill="#000" opacity="0.22"/>
<circle cx="362.44" cy="476.28" r="0.4" fill="#000" opacity="0.22"/>
<circle cx="341.38" cy="476.55" r="0.4" fill="#000" opacity="0.22"/>
<circle cx="332.18" cy="474.66" r="0.4" fill="#000" opacity="0.22"/>
<circle cx="349.44" cy="480.9" r="0.4" fill="#000" opacity="0.22"/>
<circle cx="336.7" cy="481.17" r="0.4" fill="#000" opacity="0.22"/>
<circle cx="353.74" cy="477.7" r="0.4" fill="#000" opacity="0.22"/>
<circle cx="328.72" cy="481.88" r="0.4" fill="#000" opacity="0.22"/>
<circle cx="352.49" cy="474.3" r="0.4" fill="#000" opacity="0.22"/>
<circle cx="353.72" cy="474.28" r="0.4" fill="#000" opacity="0.22"/>
<circle cx="356.63" cy="472.35" r="0.4" fill="#000" opacity="0.22"/>
<circle cx="368.19" cy="480.16" r="0.4" fill="#000" opacity="0.22"/>
<circle cx="347.37" cy="473.01" r="0.4" fill="#000" opacity="0.22"/>
<circle cx="345.65" cy="471.44" r="0.4" fill="#000" opacity="0.22"/>
<circle cx="348.12" cy="474.46" r="0.4" fill="#000" opacity="0.22"/>
<circle cx="352.7" cy="478.48" r="0.4" fill="#000" opacity="0.22"/>
<circle cx="341.09" cy="481.84" r="0.4" fill="#000" opacity="0.22"/>
<circle cx="352.82" cy="478.31" r="0.4" fill="#000" opacity="0.22"/>
<circle cx="344.36" cy="480.95" r="0.4" fill="#000" opacity="0.22"/>
<circle cx="343.9" cy="477" r="0.4" fill="#000" opacity="0.22"/>
<circle cx="365.72" cy="488.42" r="0.4" fill="#000" opacity="0.22"/>
<circle cx="330.79" cy="484.52" r="0.4" fill="#000" opacity="0.22"/>
<circle cx="345.25" cy="469.41" r="0.4" fill="#000" opacity="0.22"/>
<circle cx="348.62" cy="479.4" r="0.4" fill="#000" opacity="0.22"/>
<circle cx="351.11" cy="477.69" r="0.4" fill="#000" opacity="0.22"/>
<circle cx="342.59" cy="489.53" r="0.4" fill="#000" opacity="0.22"/>
<circle cx="346.76" cy="484.14" r="0.4" fill="#000" opacity="0.25"/>
<circle cx="349.67" cy="488.42" r="0.4" fill="#000" opacity="0.25"/>
<circle cx="359.66" cy="491.99" r="0.4" fill="#000" opacity="0.25"/>
<circle cx="354.85" cy="485.22" r="0.4" fill="#000" opacity="0.25"/>
<circle cx="340.9" cy="485.86" r="0.4" fill="#000" opacity="0.25"/>
<circle cx="341.39" cy="486.57" r="0.4" fill="#000" opacity="0.25"/>
<circle cx="351.48" cy="490.83" r="0.4" fill="#000" opacity="0.25"/>
<circle cx="346.03" cy="488.27" r="0.4" fill="#000" opacity="0.25"/>
<circle cx="350.37" cy="486.65" r="0.4" fill="#000" opacity="0.25"/>
<circle cx="350.08" cy="486.54" r="0.4" fill="#000" opacity="0.25"/>
<circle cx="353.06" cy="491.34" r="0.4" fill="#000" opacity="0.25"/>
<circle cx="352.37" cy="488.72" r="0.4" fill="#000" opacity="0.25"/>
<circle cx="351.64" cy="490.81" r="0.4" fill="#000" opacity="0.25"/>
<circle cx="360.6" cy="485.63" r="0.4" fill="#000" opacity="0.25"/>
<circle cx="355.49" cy="481.02" r="0.4" fill="#000" opacity="0.25"/>
<circle cx="364.05" cy="484.71" r="0.4" fill="#000" opacity="0.25"/>
<circle cx="353.9" cy="487.28" r="0.4" fill="#000" opacity="0.25"/>
<circle cx="347.69" cy="486.14" r="0.4" fill="#000" opacity="0.25"/>
<circle cx="348.95" cy="484.36" r="0.4" fill="#000" opacity="0.25"/>
<circle cx="360.1" cy="490.66" r="0.4" fill="#000" opacity="0.25"/>
<circle cx="354.93" cy="487.35" r="0.4" fill="#000" opacity="0.25"/>
<circle cx="352.84" cy="486.29" r="0.4" fill="#000" opacity="0.25"/>
<circle cx="358.45" cy="490.25" r="0.4" fill="#000" opacity="0.25"/>
<circle cx="342.78" cy="484" r="0.4" fill="#000" opacity="0.25"/>
<circle cx="343.56" cy="488.05" r="0.4" fill="#000" opacity="0.25"/>
<circle cx="348.65" cy="488.72" r="0.4" fill="#000" opacity="0.25"/>
<circle cx="340.84" cy="487.52" r="0.4" fill="#000" opacity="0.25"/>
<circle cx="337.97" cy="488.76" r="0.4" fill="#000" opacity="0.25"/>
<circle cx="344.39" cy="483.03" r="0.4" fill="#000" opacity="0.25"/>
<circle cx="344.76" cy="489.33" r="0.4" fill="#000" opacity="0.25"/>
<ellipse cx="350" cy="486.5" rx="8" ry="2.6" fill="#000" opacity="0.10" filter="url(#b15)"/>
<ellipse cx="366" cy="465" rx="22" ry="3.8" fill="#000" opacity="0.30" filter="url(#b12)" transform="rotate(-14 366 465)"/>
<ellipse cx="372" cy="463.5" rx="14" ry="2.8" fill="#000" opacity="0.50" filter="url(#b8)" transform="rotate(-14 372 463.5)"/>
<ellipse cx="367" cy="464.8" rx="21.5" ry="3.8" fill="none" stroke="#000" stroke-width="0.6" opacity="0.85" transform="rotate(-14 367 464.8)"/>
<ellipse cx="370" cy="464" rx="16" ry="2.6" fill="none" stroke="#000" stroke-width="0.55" opacity="0.80" transform="rotate(-14 370 464)"/>
<ellipse cx="374" cy="463" rx="10" ry="1.5" fill="none" stroke="#000" stroke-width="0.5" opacity="0.70" transform="rotate(-14 374 463)"/>
<ellipse cx="359" cy="467.3" rx="3" ry="1.4" fill="#fff" opacity="0.95" filter="url(#b5)" transform="rotate(-14 359 467.3)"/>
</g>
<rect x="332.5" y="444.2" width="59.8" height="59" fill="none" stroke="#a0a0a0" stroke-width="0.7"/>
<line x1="363.6" y1="444.2" x2="363.6" y2="503.2" stroke="#666" stroke-width="0.75"/>
<line x1="332.5" y1="482" x2="392.3" y2="482" stroke="#666" stroke-width="0.75"/>
<text x="331.1" y="453.4" font-size="4.6" text-anchor="end" fill="#2a2a2a">10<tspan dy="-1.7" font-size="3.0">5</tspan></text>
<line x1="331.5" y1="451.8" x2="332.5" y2="451.8" stroke="#333" stroke-width="0.6"/>
<text x="331.1" y="466.4" font-size="4.6" text-anchor="end" fill="#2a2a2a">10<tspan dy="-1.7" font-size="3.0">4</tspan></text>
<line x1="331.5" y1="464.8" x2="332.5" y2="464.8" stroke="#333" stroke-width="0.6"/>
<text x="331.1" y="480.6" font-size="4.6" text-anchor="end" fill="#2a2a2a">10<tspan dy="-1.7" font-size="3.0">3</tspan></text>
<line x1="331.5" y1="479" x2="332.5" y2="479" stroke="#333" stroke-width="0.6"/>
<text x="331.1" y="494.4" font-size="4.6" text-anchor="end" fill="#2a2a2a">0</text>
<line x1="331.5" y1="492.8" x2="332.5" y2="492.8" stroke="#333" stroke-width="0.6"/>
<line x1="331.9" y1="490.7" x2="331.9" y2="494.7" stroke="#111" stroke-width="1.2"/>
<text x="342.3" y="512.1" font-size="4.6" text-anchor="middle" fill="#2a2a2a">0</text>
<line x1="342.3" y1="503.2" x2="342.3" y2="504.2" stroke="#333" stroke-width="0.6"/>
<text x="357.1" y="512.1" font-size="4.6" text-anchor="middle" fill="#2a2a2a">10<tspan dy="-1.7" font-size="3.0">3</tspan></text>
<line x1="357.1" y1="503.2" x2="357.1" y2="504.2" stroke="#333" stroke-width="0.6"/>
<text x="371.9" y="512.1" font-size="4.6" text-anchor="middle" fill="#2a2a2a">10<tspan dy="-1.7" font-size="3.0">4</tspan></text>
<line x1="371.9" y1="503.2" x2="371.9" y2="504.2" stroke="#333" stroke-width="0.6"/>
<text x="386.1" y="512.1" font-size="4.6" text-anchor="middle" fill="#2a2a2a">10<tspan dy="-1.7" font-size="3.0">5</tspan></text>
<line x1="386.1" y1="503.2" x2="386.1" y2="504.2" stroke="#333" stroke-width="0.6"/>
<line x1="340" y1="504" x2="344" y2="504" stroke="#111" stroke-width="1.2"/>
<text x="334.5" y="453.2" font-size="4.5" text-anchor="start" font-weight="normal" fill="#1a1a1a" textLength="11.15" lengthAdjust="spacingAndGlyphs" stroke="#1a1a1a" stroke-width="0.1">8,62%</text>
<text x="380.7" y="453.2" font-size="4.5" text-anchor="end" font-weight="normal" fill="#1a1a1a" textLength="11.15" lengthAdjust="spacingAndGlyphs" stroke="#1a1a1a" stroke-width="0.1">89,6%</text>
<text x="334.5" y="499.2" font-size="4.5" text-anchor="start" font-weight="normal" fill="#1a1a1a" textLength="11.15" lengthAdjust="spacingAndGlyphs" stroke="#1a1a1a" stroke-width="0.1">1,92%</text>
<text x="380.7" y="499.2" font-size="4.5" text-anchor="end" font-weight="normal" fill="#1a1a1a" textLength="13.4" lengthAdjust="spacingAndGlyphs" stroke="#1a1a1a" stroke-width="0.1">0,018%</text>
<line x1="70.5" y1="525.2" x2="70.5" y2="583.7" stroke="#111" stroke-width="1.2"/>
<text x="66.4" y="552.45" font-size="5.8" text-anchor="middle" font-weight="normal" fill="#1a1a1a" textLength="12.5" lengthAdjust="spacingAndGlyphs" transform="rotate(-90 66.4 552.45)">pp38</text>
<line x1="246.7" y1="525.2" x2="246.7" y2="583.7" stroke="#111" stroke-width="1.2"/>
<text x="242.6" y="552.45" font-size="5.8" text-anchor="middle" font-weight="normal" fill="#1a1a1a" textLength="12.5" lengthAdjust="spacingAndGlyphs" transform="rotate(-90 242.6 552.45)">pp38</text>
<line x1="84.2" y1="595" x2="218.7" y2="595" stroke="#111" stroke-width="1.3"/>
<line x1="261.2" y1="595" x2="393.5" y2="595" stroke="#111" stroke-width="1.3"/>
<text x="152" y="602" font-size="5.6" text-anchor="middle" font-weight="normal" fill="#1a1a1a" textLength="11.9" lengthAdjust="spacingAndGlyphs">pSYK</text>
<text x="327" y="602" font-size="5.6" text-anchor="middle" font-weight="normal" fill="#1a1a1a" textLength="11.9" lengthAdjust="spacingAndGlyphs">pSYK</text>
<clipPath id="fc10"><rect x="84.2" y="525.2" width="59.7" height="59.1"/></clipPath>
<g clip-path="url(#fc10)">
<circle cx="106.93" cy="568.67" r="0.4" fill="#000" opacity="0.20"/>
<circle cx="101.21" cy="561.85" r="0.4" fill="#000" opacity="0.20"/>
<circle cx="99.01" cy="556.19" r="0.4" fill="#000" opacity="0.20"/>
<circle cx="98.01" cy="569.76" r="0.4" fill="#000" opacity="0.20"/>
<circle cx="96.09" cy="565.38" r="0.4" fill="#000" opacity="0.20"/>
<circle cx="85.33" cy="562.35" r="0.4" fill="#000" opacity="0.20"/>
<circle cx="98.47" cy="573.77" r="0.4" fill="#000" opacity="0.20"/>
<circle cx="99.46" cy="565.02" r="0.4" fill="#000" opacity="0.20"/>
<circle cx="100.66" cy="563.66" r="0.4" fill="#000" opacity="0.20"/>
<circle cx="101.92" cy="560.43" r="0.4" fill="#000" opacity="0.20"/>
<circle cx="112.11" cy="558.44" r="0.4" fill="#000" opacity="0.20"/>
<circle cx="95.91" cy="568.28" r="0.4" fill="#000" opacity="0.20"/>
<circle cx="114.9" cy="566.48" r="0.4" fill="#000" opacity="0.20"/>
<circle cx="73.52" cy="563.61" r="0.4" fill="#000" opacity="0.20"/>
<circle cx="113.59" cy="571.96" r="0.4" fill="#000" opacity="0.20"/>
<circle cx="111.27" cy="568.65" r="0.4" fill="#000" opacity="0.20"/>
<circle cx="94.56" cy="569.96" r="0.4" fill="#000" opacity="0.20"/>
<circle cx="88.24" cy="577.13" r="0.4" fill="#000" opacity="0.20"/>
<circle cx="104.33" cy="558.2" r="0.4" fill="#000" opacity="0.20"/>
<circle cx="96.99" cy="561.09" r="0.4" fill="#000" opacity="0.20"/>
<circle cx="104.65" cy="560.21" r="0.4" fill="#000" opacity="0.20"/>
<circle cx="89.9" cy="568.04" r="0.4" fill="#000" opacity="0.20"/>
<circle cx="91.25" cy="554.74" r="0.4" fill="#000" opacity="0.20"/>
<circle cx="103.76" cy="563.69" r="0.4" fill="#000" opacity="0.20"/>
<circle cx="94.64" cy="560.76" r="0.4" fill="#000" opacity="0.20"/>
<ellipse cx="99.5" cy="570.3" rx="12.8" ry="4.5" fill="#000" opacity="0.25" filter="url(#b15)" transform="rotate(8 99.5 570.3)"/>
<ellipse cx="103" cy="571" rx="7.5" ry="3" fill="#000" opacity="0.50" filter="url(#b10)" transform="rotate(8 103 571)"/>
<ellipse cx="104.5" cy="571.3" rx="4.5" ry="1.8" fill="#000" opacity="0.35" filter="url(#b8)" transform="rotate(8 104.5 571.3)"/>
<ellipse cx="101.5" cy="570.8" rx="9.5" ry="3.3" fill="none" stroke="#000" stroke-width="0.5" opacity="0.25" transform="rotate(8 101.5 570.8)"/>
<ellipse cx="104" cy="571.2" rx="3" ry="0.6" fill="#fff" opacity="0.60" filter="url(#b5)" transform="rotate(8 104 571.2)"/>
</g>
<rect x="84.2" y="525.2" width="59.7" height="59.1" fill="none" stroke="#a0a0a0" stroke-width="0.7"/>
<line x1="112.3" y1="525.2" x2="112.3" y2="584.3" stroke="#666" stroke-width="0.75"/>
<line x1="84.2" y1="564.6" x2="143.9" y2="564.6" stroke="#666" stroke-width="0.75"/>
<text x="82.8" y="534.4" font-size="4.6" text-anchor="end" fill="#2a2a2a">10<tspan dy="-1.7" font-size="3.0">5</tspan></text>
<line x1="83.2" y1="532.8" x2="84.2" y2="532.8" stroke="#333" stroke-width="0.6"/>
<text x="82.8" y="547.4" font-size="4.6" text-anchor="end" fill="#2a2a2a">10<tspan dy="-1.7" font-size="3.0">4</tspan></text>
<line x1="83.2" y1="545.8" x2="84.2" y2="545.8" stroke="#333" stroke-width="0.6"/>
<text x="82.8" y="561.6" font-size="4.6" text-anchor="end" fill="#2a2a2a">10<tspan dy="-1.7" font-size="3.0">3</tspan></text>
<line x1="83.2" y1="560" x2="84.2" y2="560" stroke="#333" stroke-width="0.6"/>
<text x="82.8" y="575.4" font-size="4.6" text-anchor="end" fill="#2a2a2a">0</text>
<line x1="83.2" y1="573.8" x2="84.2" y2="573.8" stroke="#333" stroke-width="0.6"/>
<line x1="83.6" y1="571.7" x2="83.6" y2="575.7" stroke="#111" stroke-width="1.2"/>
<text x="94" y="593.2" font-size="4.6" text-anchor="middle" fill="#2a2a2a">0</text>
<line x1="94" y1="584.3" x2="94" y2="585.3" stroke="#333" stroke-width="0.6"/>
<text x="108.8" y="593.2" font-size="4.6" text-anchor="middle" fill="#2a2a2a">10<tspan dy="-1.7" font-size="3.0">3</tspan></text>
<line x1="108.8" y1="584.3" x2="108.8" y2="585.3" stroke="#333" stroke-width="0.6"/>
<text x="123.6" y="593.2" font-size="4.6" text-anchor="middle" fill="#2a2a2a">10<tspan dy="-1.7" font-size="3.0">4</tspan></text>
<line x1="123.6" y1="584.3" x2="123.6" y2="585.3" stroke="#333" stroke-width="0.6"/>
<text x="137.8" y="593.2" font-size="4.6" text-anchor="middle" fill="#2a2a2a">10<tspan dy="-1.7" font-size="3.0">5</tspan></text>
<line x1="137.8" y1="584.3" x2="137.8" y2="585.3" stroke="#333" stroke-width="0.6"/>
<line x1="91.7" y1="585.1" x2="95.7" y2="585.1" stroke="#111" stroke-width="1.2"/>
<text x="86.2" y="534.2" font-size="4.5" text-anchor="start" font-weight="normal" fill="#1a1a1a" textLength="11.15" lengthAdjust="spacingAndGlyphs" stroke="#1a1a1a" stroke-width="0.1">0,34%</text>
<text x="132.3" y="534.2" font-size="4.5" text-anchor="end" font-weight="normal" fill="#1a1a1a" textLength="11.15" lengthAdjust="spacingAndGlyphs" stroke="#1a1a1a" stroke-width="0.1">0,44%</text>
<text x="86.2" y="580.3" font-size="4.5" text-anchor="start" font-weight="normal" fill="#1a1a1a" textLength="11.15" lengthAdjust="spacingAndGlyphs" stroke="#1a1a1a" stroke-width="0.1">98,6%</text>
<text x="132.3" y="580.3" font-size="4.5" text-anchor="end" font-weight="normal" fill="#1a1a1a" textLength="11.15" lengthAdjust="spacingAndGlyphs" stroke="#1a1a1a" stroke-width="0.1">0,40%</text>
<clipPath id="fc11"><rect x="158.2" y="525.2" width="60.4" height="59.1"/></clipPath>
<g clip-path="url(#fc11)">
<circle cx="201.71" cy="570.29" r="0.4" fill="#000" opacity="0.18"/>
<circle cx="177.47" cy="566.71" r="0.4" fill="#000" opacity="0.18"/>
<circle cx="167.47" cy="549.08" r="0.4" fill="#000" opacity="0.18"/>
<circle cx="177.85" cy="556.33" r="0.4" fill="#000" opacity="0.18"/>
<circle cx="175.62" cy="556.96" r="0.4" fill="#000" opacity="0.18"/>
<circle cx="178.23" cy="571.02" r="0.4" fill="#000" opacity="0.18"/>
<circle cx="187.71" cy="564.46" r="0.4" fill="#000" opacity="0.18"/>
<circle cx="189.73" cy="573.04" r="0.4" fill="#000" opacity="0.18"/>
<circle cx="176.54" cy="547.5" r="0.4" fill="#000" opacity="0.18"/>
<circle cx="172.5" cy="558.92" r="0.4" fill="#000" opacity="0.18"/>
<circle cx="166.67" cy="551.54" r="0.4" fill="#000" opacity="0.18"/>
<circle cx="177.18" cy="549.62" r="0.4" fill="#000" opacity="0.18"/>
<circle cx="159.78" cy="548.66" r="0.4" fill="#000" opacity="0.18"/>
<circle cx="186" cy="565.55" r="0.4" fill="#000" opacity="0.18"/>
<circle cx="176.63" cy="564.26" r="0.4" fill="#000" opacity="0.18"/>
<circle cx="177.34" cy="551.16" r="0.4" fill="#000" opacity="0.18"/>
<circle cx="186.18" cy="567.2" r="0.4" fill="#000" opacity="0.18"/>
<circle cx="188" cy="548.5" r="0.4" fill="#000" opacity="0.18"/>
<circle cx="191.06" cy="565.4" r="0.4" fill="#000" opacity="0.18"/>
<circle cx="166.9" cy="566.55" r="0.4" fill="#000" opacity="0.18"/>
<circle cx="187.26" cy="553.92" r="0.4" fill="#000" opacity="0.18"/>
<circle cx="177.52" cy="549.46" r="0.4" fill="#000" opacity="0.18"/>
<circle cx="174.25" cy="560.24" r="0.4" fill="#000" opacity="0.18"/>
<circle cx="182.36" cy="563.85" r="0.4" fill="#000" opacity="0.18"/>
<circle cx="171.62" cy="566.98" r="0.4" fill="#000" opacity="0.18"/>
<circle cx="183.99" cy="582.3" r="0.4" fill="#000" opacity="0.18"/>
<circle cx="194.26" cy="572.17" r="0.4" fill="#000" opacity="0.18"/>
<circle cx="176.59" cy="560.11" r="0.4" fill="#000" opacity="0.18"/>
<circle cx="178.87" cy="553.23" r="0.4" fill="#000" opacity="0.18"/>
<circle cx="179.96" cy="550.52" r="0.4" fill="#000" opacity="0.18"/>
<circle cx="172.42" cy="550.26" r="0.4" fill="#000" opacity="0.18"/>
<circle cx="186.88" cy="561.74" r="0.4" fill="#000" opacity="0.18"/>
<circle cx="177.96" cy="571.98" r="0.4" fill="#000" opacity="0.18"/>
<circle cx="179.8" cy="545.14" r="0.4" fill="#000" opacity="0.18"/>
<circle cx="171.78" cy="561.08" r="0.4" fill="#000" opacity="0.18"/>
<circle cx="167.19" cy="548.92" r="0.4" fill="#000" opacity="0.18"/>
<circle cx="186.57" cy="567.96" r="0.4" fill="#000" opacity="0.18"/>
<circle cx="192.57" cy="572.99" r="0.4" fill="#000" opacity="0.18"/>
<circle cx="179.16" cy="559.57" r="0.4" fill="#000" opacity="0.18"/>
<circle cx="167.79" cy="574.88" r="0.4" fill="#000" opacity="0.18"/>
<circle cx="177.87" cy="554.85" r="0.4" fill="#000" opacity="0.18"/>
<circle cx="183.23" cy="555.73" r="0.4" fill="#000" opacity="0.18"/>
<circle cx="188.96" cy="552.83" r="0.4" fill="#000" opacity="0.18"/>
<circle cx="183.01" cy="572.85" r="0.4" fill="#000" opacity="0.18"/>
<circle cx="179.87" cy="566.75" r="0.4" fill="#000" opacity="0.18"/>
<circle cx="175.5" cy="563.31" r="0.4" fill="#000" opacity="0.18"/>
<circle cx="176.05" cy="558.08" r="0.4" fill="#000" opacity="0.18"/>
<circle cx="173.9" cy="556.9" r="0.4" fill="#000" opacity="0.18"/>
<circle cx="189.52" cy="560.3" r="0.4" fill="#000" opacity="0.18"/>
<circle cx="191.83" cy="564.87" r="0.4" fill="#000" opacity="0.18"/>
<ellipse cx="177.5" cy="563" rx="11" ry="10.5" fill="#000" opacity="0.32" filter="url(#b20)"/>
<ellipse cx="178" cy="564" rx="7" ry="6.5" fill="#000" opacity="0.30" filter="url(#b12)"/>
<ellipse cx="177.5" cy="562.5" rx="9.5" ry="9" fill="none" stroke="#000" stroke-width="0.45" opacity="0.18"/>
<ellipse cx="177.5" cy="563" rx="6.5" ry="6" fill="none" stroke="#000" stroke-width="0.45" opacity="0.20"/>
<ellipse cx="179" cy="566" rx="2.2" ry="1.2" fill="#fff" opacity="0.80" filter="url(#b5)"/>
</g>
<rect x="158.2" y="525.2" width="60.4" height="59.1" fill="none" stroke="#a0a0a0" stroke-width="0.7"/>
<line x1="187.5" y1="525.2" x2="187.5" y2="584.3" stroke="#666" stroke-width="0.75"/>
<line x1="158.2" y1="564.6" x2="218.6" y2="564.6" stroke="#666" stroke-width="0.75"/>
<text x="156.8" y="534.4" font-size="4.6" text-anchor="end" fill="#2a2a2a">10<tspan dy="-1.7" font-size="3.0">5</tspan></text>
<line x1="157.2" y1="532.8" x2="158.2" y2="532.8" stroke="#333" stroke-width="0.6"/>
<text x="156.8" y="547.4" font-size="4.6" text-anchor="end" fill="#2a2a2a">10<tspan dy="-1.7" font-size="3.0">4</tspan></text>
<line x1="157.2" y1="545.8" x2="158.2" y2="545.8" stroke="#333" stroke-width="0.6"/>
<text x="156.8" y="561.6" font-size="4.6" text-anchor="end" fill="#2a2a2a">10<tspan dy="-1.7" font-size="3.0">3</tspan></text>
<line x1="157.2" y1="560" x2="158.2" y2="560" stroke="#333" stroke-width="0.6"/>
<text x="156.8" y="575.4" font-size="4.6" text-anchor="end" fill="#2a2a2a">0</text>
<line x1="157.2" y1="573.8" x2="158.2" y2="573.8" stroke="#333" stroke-width="0.6"/>
<line x1="157.6" y1="571.7" x2="157.6" y2="575.7" stroke="#111" stroke-width="1.2"/>
<text x="168" y="593.2" font-size="4.6" text-anchor="middle" fill="#2a2a2a">0</text>
<line x1="168" y1="584.3" x2="168" y2="585.3" stroke="#333" stroke-width="0.6"/>
<text x="182.8" y="593.2" font-size="4.6" text-anchor="middle" fill="#2a2a2a">10<tspan dy="-1.7" font-size="3.0">3</tspan></text>
<line x1="182.8" y1="584.3" x2="182.8" y2="585.3" stroke="#333" stroke-width="0.6"/>
<text x="197.6" y="593.2" font-size="4.6" text-anchor="middle" fill="#2a2a2a">10<tspan dy="-1.7" font-size="3.0">4</tspan></text>
<line x1="197.6" y1="584.3" x2="197.6" y2="585.3" stroke="#333" stroke-width="0.6"/>
<text x="211.8" y="593.2" font-size="4.6" text-anchor="middle" fill="#2a2a2a">10<tspan dy="-1.7" font-size="3.0">5</tspan></text>
<line x1="211.8" y1="584.3" x2="211.8" y2="585.3" stroke="#333" stroke-width="0.6"/>
<line x1="165.7" y1="585.1" x2="169.7" y2="585.1" stroke="#111" stroke-width="1.2"/>
<text x="160.2" y="534.2" font-size="4.5" text-anchor="start" font-weight="normal" fill="#1a1a1a" textLength="11.15" lengthAdjust="spacingAndGlyphs" stroke="#1a1a1a" stroke-width="0.1">51,2%</text>
<text x="207" y="534.2" font-size="4.5" text-anchor="end" font-weight="normal" fill="#1a1a1a" textLength="11.15" lengthAdjust="spacingAndGlyphs" stroke="#1a1a1a" stroke-width="0.1">1,12%</text>
<text x="160.2" y="580.3" font-size="4.5" text-anchor="start" font-weight="normal" fill="#1a1a1a" textLength="11.15" lengthAdjust="spacingAndGlyphs" stroke="#1a1a1a" stroke-width="0.1">47,2%</text>
<text x="207" y="580.3" font-size="4.5" text-anchor="end" font-weight="normal" fill="#1a1a1a" textLength="11.15" lengthAdjust="spacingAndGlyphs" stroke="#1a1a1a" stroke-width="0.1">0,45%</text>
<clipPath id="fc12"><rect x="261.2" y="525.2" width="59" height="59.1"/></clipPath>
<g clip-path="url(#fc12)">
<circle cx="295.87" cy="562.13" r="0.4" fill="#000" opacity="0.20"/>
<circle cx="295.28" cy="558.14" r="0.4" fill="#000" opacity="0.20"/>
<circle cx="286.99" cy="564.93" r="0.4" fill="#000" opacity="0.20"/>
<circle cx="296.7" cy="555.97" r="0.4" fill="#000" opacity="0.20"/>
<circle cx="270.14" cy="562.2" r="0.4" fill="#000" opacity="0.20"/>
<circle cx="292.64" cy="560.55" r="0.4" fill="#000" opacity="0.20"/>
<circle cx="281.84" cy="566.66" r="0.4" fill="#000" opacity="0.20"/>
<circle cx="290.56" cy="567.17" r="0.4" fill="#000" opacity="0.20"/>
<circle cx="285.17" cy="559.74" r="0.4" fill="#000" opacity="0.20"/>
<circle cx="274.5" cy="568.11" r="0.4" fill="#000" opacity="0.20"/>
<circle cx="271.99" cy="563.1" r="0.4" fill="#000" opacity="0.20"/>
<circle cx="269.68" cy="562.58" r="0.4" fill="#000" opacity="0.20"/>
<circle cx="275.98" cy="556.02" r="0.4" fill="#000" opacity="0.20"/>
<circle cx="279.92" cy="570.83" r="0.4" fill="#000" opacity="0.20"/>
<circle cx="286.58" cy="558.18" r="0.4" fill="#000" opacity="0.20"/>
<circle cx="287.74" cy="556.51" r="0.4" fill="#000" opacity="0.20"/>
<circle cx="291.44" cy="558" r="0.4" fill="#000" opacity="0.20"/>
<circle cx="281.3" cy="559.91" r="0.4" fill="#000" opacity="0.20"/>
<circle cx="289" cy="555.08" r="0.4" fill="#000" opacity="0.20"/>
<circle cx="290.88" cy="560.01" r="0.4" fill="#000" opacity="0.20"/>
<rect x="263.7" y="565.7" width="27.6" height="8.2" rx="4.1" fill="#000" opacity="0.25" filter="url(#b10)"/>
<rect x="268" y="567.1" width="21" height="5.4" rx="2.7" fill="#000" opacity="0.40" filter="url(#b8)"/>
<rect x="264.3" y="566.1" width="26.4" height="7.4" rx="3.7" fill="none" stroke="#000" stroke-width="0.7" opacity="0.95"/>
<rect x="268" y="567.2" width="20.6" height="5.2" rx="2.6" fill="none" stroke="#000" stroke-width="0.6" opacity="0.90"/>
<rect x="272" y="568.3" width="14" height="3" rx="1.5" fill="none" stroke="#000" stroke-width="0.5" opacity="0.75"/>
<ellipse cx="280" cy="569.8" rx="4" ry="0.6" fill="#fff" opacity="0.60" filter="url(#b5)"/>
</g>
<rect x="261.2" y="525.2" width="59" height="59.1" fill="none" stroke="#a0a0a0" stroke-width="0.7"/>
<line x1="291.3" y1="525.2" x2="291.3" y2="584.3" stroke="#666" stroke-width="0.75"/>
<line x1="261.2" y1="564.6" x2="320.2" y2="564.6" stroke="#666" stroke-width="0.75"/>
<text x="259.8" y="534.4" font-size="4.6" text-anchor="end" fill="#2a2a2a">10<tspan dy="-1.7" font-size="3.0">5</tspan></text>
<line x1="260.2" y1="532.8" x2="261.2" y2="532.8" stroke="#333" stroke-width="0.6"/>
<text x="259.8" y="547.4" font-size="4.6" text-anchor="end" fill="#2a2a2a">10<tspan dy="-1.7" font-size="3.0">4</tspan></text>
<line x1="260.2" y1="545.8" x2="261.2" y2="545.8" stroke="#333" stroke-width="0.6"/>
<text x="259.8" y="561.6" font-size="4.6" text-anchor="end" fill="#2a2a2a">10<tspan dy="-1.7" font-size="3.0">3</tspan></text>
<line x1="260.2" y1="560" x2="261.2" y2="560" stroke="#333" stroke-width="0.6"/>
<text x="259.8" y="575.4" font-size="4.6" text-anchor="end" fill="#2a2a2a">0</text>
<line x1="260.2" y1="573.8" x2="261.2" y2="573.8" stroke="#333" stroke-width="0.6"/>
<line x1="260.6" y1="571.7" x2="260.6" y2="575.7" stroke="#111" stroke-width="1.2"/>
<text x="271" y="593.2" font-size="4.6" text-anchor="middle" fill="#2a2a2a">0</text>
<line x1="271" y1="584.3" x2="271" y2="585.3" stroke="#333" stroke-width="0.6"/>
<text x="285.8" y="593.2" font-size="4.6" text-anchor="middle" fill="#2a2a2a">10<tspan dy="-1.7" font-size="3.0">3</tspan></text>
<line x1="285.8" y1="584.3" x2="285.8" y2="585.3" stroke="#333" stroke-width="0.6"/>
<text x="300.6" y="593.2" font-size="4.6" text-anchor="middle" fill="#2a2a2a">10<tspan dy="-1.7" font-size="3.0">4</tspan></text>
<line x1="300.6" y1="584.3" x2="300.6" y2="585.3" stroke="#333" stroke-width="0.6"/>
<text x="314.8" y="593.2" font-size="4.6" text-anchor="middle" fill="#2a2a2a">10<tspan dy="-1.7" font-size="3.0">5</tspan></text>
<line x1="314.8" y1="584.3" x2="314.8" y2="585.3" stroke="#333" stroke-width="0.6"/>
<line x1="268.7" y1="585.1" x2="272.7" y2="585.1" stroke="#111" stroke-width="1.2"/>
<text x="263.2" y="534.2" font-size="4.5" text-anchor="start" font-weight="normal" fill="#1a1a1a" textLength="11.15" lengthAdjust="spacingAndGlyphs" stroke="#1a1a1a" stroke-width="0.1">0,25%</text>
<text x="308.6" y="534.2" font-size="4.5" text-anchor="end" font-weight="normal" fill="#1a1a1a" textLength="13.4" lengthAdjust="spacingAndGlyphs" stroke="#1a1a1a" stroke-width="0.1">0,083%</text>
<text x="263.2" y="580.3" font-size="4.5" text-anchor="start" font-weight="normal" fill="#1a1a1a" textLength="11.15" lengthAdjust="spacingAndGlyphs" stroke="#1a1a1a" stroke-width="0.1">99,2%</text>
<text x="308.6" y="580.3" font-size="4.5" text-anchor="end" font-weight="normal" fill="#1a1a1a" textLength="11.15" lengthAdjust="spacingAndGlyphs" stroke="#1a1a1a" stroke-width="0.1">0,47%</text>
<clipPath id="fc13"><rect x="332.5" y="525.2" width="59.8" height="59.1"/></clipPath>
<g clip-path="url(#fc13)">
<circle cx="354.53" cy="564.95" r="0.4" fill="#000" opacity="0.22"/>
<circle cx="346.45" cy="559.91" r="0.4" fill="#000" opacity="0.22"/>
<circle cx="356.19" cy="548.49" r="0.4" fill="#000" opacity="0.22"/>
<circle cx="354.63" cy="573.2" r="0.4" fill="#000" opacity="0.22"/>
<circle cx="361.56" cy="556.34" r="0.4" fill="#000" opacity="0.22"/>
<circle cx="383.34" cy="562.74" r="0.4" fill="#000" opacity="0.22"/>
<circle cx="359.78" cy="548.29" r="0.4" fill="#000" opacity="0.22"/>
<circle cx="369" cy="560.21" r="0.4" fill="#000" opacity="0.22"/>
<circle cx="353.01" cy="575.15" r="0.4" fill="#000" opacity="0.22"/>
<circle cx="393.14" cy="559.26" r="0.4" fill="#000" opacity="0.22"/>
<circle cx="357.76" cy="558.99" r="0.4" fill="#000" opacity="0.22"/>
<circle cx="374.01" cy="552.15" r="0.4" fill="#000" opacity="0.22"/>
<circle cx="373.99" cy="569.19" r="0.4" fill="#000" opacity="0.22"/>
<circle cx="376.97" cy="568.01" r="0.4" fill="#000" opacity="0.22"/>
<circle cx="374.62" cy="576.39" r="0.4" fill="#000" opacity="0.22"/>
<circle cx="366.8" cy="558.77" r="0.4" fill="#000" opacity="0.22"/>
<circle cx="365.85" cy="568.71" r="0.4" fill="#000" opacity="0.22"/>
<circle cx="362.9" cy="553.55" r="0.4" fill="#000" opacity="0.22"/>
<circle cx="335.63" cy="548.01" r="0.4" fill="#000" opacity="0.22"/>
<circle cx="360.95" cy="552.17" r="0.4" fill="#000" opacity="0.22"/>
<circle cx="365.07" cy="568.19" r="0.4" fill="#000" opacity="0.22"/>
<circle cx="351.92" cy="539.94" r="0.4" fill="#000" opacity="0.22"/>
<circle cx="362.9" cy="560.48" r="0.4" fill="#000" opacity="0.22"/>
<circle cx="356.15" cy="553.31" r="0.4" fill="#000" opacity="0.22"/>
<circle cx="349.12" cy="557.66" r="0.4" fill="#000" opacity="0.22"/>
<circle cx="344.2" cy="559.18" r="0.4" fill="#000" opacity="0.22"/>
<circle cx="334.24" cy="547.66" r="0.4" fill="#000" opacity="0.22"/>
<circle cx="357.33" cy="562.69" r="0.4" fill="#000" opacity="0.22"/>
<circle cx="341.42" cy="578.58" r="0.4" fill="#000" opacity="0.22"/>
<circle cx="339.5" cy="559.18" r="0.4" fill="#000" opacity="0.22"/>
<circle cx="359.64" cy="550.45" r="0.4" fill="#000" opacity="0.22"/>
<circle cx="338.06" cy="558.03" r="0.4" fill="#000" opacity="0.22"/>
<circle cx="336.19" cy="557.43" r="0.4" fill="#000" opacity="0.22"/>
<circle cx="340.92" cy="552.62" r="0.4" fill="#000" opacity="0.22"/>
<circle cx="358.82" cy="567.23" r="0.4" fill="#000" opacity="0.22"/>
<circle cx="380.18" cy="556.61" r="0.4" fill="#000" opacity="0.22"/>
<circle cx="359.16" cy="561.76" r="0.4" fill="#000" opacity="0.22"/>
<circle cx="362.2" cy="560.89" r="0.4" fill="#000" opacity="0.22"/>
<circle cx="344.04" cy="557.24" r="0.4" fill="#000" opacity="0.22"/>
<circle cx="360.67" cy="553.05" r="0.4" fill="#000" opacity="0.22"/>
<circle cx="379.04" cy="561.58" r="0.4" fill="#000" opacity="0.22"/>
<circle cx="352.87" cy="569.13" r="0.4" fill="#000" opacity="0.22"/>
<circle cx="340.29" cy="561.11" r="0.4" fill="#000" opacity="0.22"/>
<circle cx="332.53" cy="566.16" r="0.4" fill="#000" opacity="0.22"/>
<circle cx="342.88" cy="561.96" r="0.4" fill="#000" opacity="0.22"/>
<circle cx="351.13" cy="557.56" r="0.4" fill="#000" opacity="0.22"/>
<circle cx="362.36" cy="547.4" r="0.4" fill="#000" opacity="0.22"/>
<circle cx="372.78" cy="552.85" r="0.4" fill="#000" opacity="0.22"/>
<circle cx="327.86" cy="548.74" r="0.4" fill="#000" opacity="0.22"/>
<circle cx="354.17" cy="564.17" r="0.4" fill="#000" opacity="0.22"/>
<circle cx="388.5" cy="550.38" r="0.4" fill="#000" opacity="0.22"/>
<circle cx="343.63" cy="562.62" r="0.4" fill="#000" opacity="0.22"/>
<circle cx="335.94" cy="564.81" r="0.4" fill="#000" opacity="0.22"/>
<circle cx="348.02" cy="555.95" r="0.4" fill="#000" opacity="0.22"/>
<circle cx="351.79" cy="551" r="0.4" fill="#000" opacity="0.22"/>
<circle cx="338.7" cy="545.78" r="0.4" fill="#000" opacity="0.22"/>
<circle cx="351.07" cy="567.82" r="0.4" fill="#000" opacity="0.22"/>
<circle cx="354.02" cy="560.99" r="0.4" fill="#000" opacity="0.22"/>
<circle cx="379.81" cy="565.08" r="0.4" fill="#000" opacity="0.22"/>
<circle cx="338.71" cy="563.46" r="0.4" fill="#000" opacity="0.22"/>
<circle cx="344.28" cy="567.08" r="0.4" fill="#000" opacity="0.22"/>
<circle cx="353.48" cy="540.53" r="0.4" fill="#000" opacity="0.22"/>
<circle cx="374.17" cy="553.9" r="0.4" fill="#000" opacity="0.22"/>
<circle cx="356.04" cy="564.36" r="0.4" fill="#000" opacity="0.22"/>
<circle cx="344.44" cy="562.69" r="0.4" fill="#000" opacity="0.22"/>
<circle cx="355.44" cy="560.35" r="0.4" fill="#000" opacity="0.22"/>
<circle cx="321.38" cy="558.08" r="0.4" fill="#000" opacity="0.22"/>
<circle cx="354.76" cy="549.67" r="0.4" fill="#000" opacity="0.22"/>
<circle cx="386.06" cy="556.1" r="0.4" fill="#000" opacity="0.22"/>
<circle cx="346.49" cy="573.92" r="0.4" fill="#000" opacity="0.22"/>
<ellipse cx="348" cy="570" rx="9" ry="3" fill="#000" opacity="0.15" filter="url(#b15)"/>
<ellipse cx="348" cy="570" rx="6" ry="2" fill="none" stroke="#000" stroke-width="0.45" opacity="0.25"/>
<ellipse cx="355" cy="553" rx="9" ry="4.5" fill="#000" opacity="0.15" filter="url(#b15)" transform="rotate(-40 355 553)"/>
<ellipse cx="370" cy="545" rx="19" ry="7.5" fill="#000" opacity="0.33" filter="url(#b15)" transform="rotate(-38 370 545)"/>
<ellipse cx="371.5" cy="543" rx="13" ry="4.5" fill="#000" opacity="0.50" filter="url(#b10)" transform="rotate(-38 371.5 543)"/>
<ellipse cx="369" cy="546" rx="19" ry="6.2" fill="none" stroke="#000" stroke-width="0.5" opacity="0.50" transform="rotate(-38 369 546)"/>
<ellipse cx="370.5" cy="544.5" rx="14" ry="4.2" fill="none" stroke="#000" stroke-width="0.5" opacity="0.55" transform="rotate(-38 370.5 544.5)"/>
<ellipse cx="372" cy="543" rx="9" ry="2.5" fill="none" stroke="#000" stroke-width="0.5" opacity="0.50" transform="rotate(-38 372 543)"/>
<ellipse cx="352" cy="556" rx="7" ry="2.5" fill="none" stroke="#000" stroke-width="0.45" opacity="0.40" transform="rotate(-45 352 556)"/>
<ellipse cx="362" cy="553" rx="2.5" ry="2" fill="#fff" opacity="0.90" filter="url(#b5)"/>
</g>
<rect x="332.5" y="525.2" width="59.8" height="59.1" fill="none" stroke="#a0a0a0" stroke-width="0.7"/>
<line x1="362.6" y1="525.2" x2="362.6" y2="584.3" stroke="#666" stroke-width="0.75"/>
<line x1="332.5" y1="564.6" x2="392.3" y2="564.6" stroke="#666" stroke-width="0.75"/>
<text x="331.1" y="534.4" font-size="4.6" text-anchor="end" fill="#2a2a2a">10<tspan dy="-1.7" font-size="3.0">5</tspan></text>
<line x1="331.5" y1="532.8" x2="332.5" y2="532.8" stroke="#333" stroke-width="0.6"/>
<text x="331.1" y="547.4" font-size="4.6" text-anchor="end" fill="#2a2a2a">10<tspan dy="-1.7" font-size="3.0">4</tspan></text>
<line x1="331.5" y1="545.8" x2="332.5" y2="545.8" stroke="#333" stroke-width="0.6"/>
<text x="331.1" y="561.6" font-size="4.6" text-anchor="end" fill="#2a2a2a">10<tspan dy="-1.7" font-size="3.0">3</tspan></text>
<line x1="331.5" y1="560" x2="332.5" y2="560" stroke="#333" stroke-width="0.6"/>
<text x="331.1" y="575.4" font-size="4.6" text-anchor="end" fill="#2a2a2a">0</text>
<line x1="331.5" y1="573.8" x2="332.5" y2="573.8" stroke="#333" stroke-width="0.6"/>
<line x1="331.9" y1="571.7" x2="331.9" y2="575.7" stroke="#111" stroke-width="1.2"/>
<text x="342.3" y="593.2" font-size="4.6" text-anchor="middle" fill="#2a2a2a">0</text>
<line x1="342.3" y1="584.3" x2="342.3" y2="585.3" stroke="#333" stroke-width="0.6"/>
<text x="357.1" y="593.2" font-size="4.6" text-anchor="middle" fill="#2a2a2a">10<tspan dy="-1.7" font-size="3.0">3</tspan></text>
<line x1="357.1" y1="584.3" x2="357.1" y2="585.3" stroke="#333" stroke-width="0.6"/>
<text x="371.9" y="593.2" font-size="4.6" text-anchor="middle" fill="#2a2a2a">10<tspan dy="-1.7" font-size="3.0">4</tspan></text>
<line x1="371.9" y1="584.3" x2="371.9" y2="585.3" stroke="#333" stroke-width="0.6"/>
<text x="386.1" y="593.2" font-size="4.6" text-anchor="middle" fill="#2a2a2a">10<tspan dy="-1.7" font-size="3.0">5</tspan></text>
<line x1="386.1" y1="584.3" x2="386.1" y2="585.3" stroke="#333" stroke-width="0.6"/>
<line x1="340" y1="585.1" x2="344" y2="585.1" stroke="#111" stroke-width="1.2"/>
<text x="334.5" y="534.2" font-size="4.5" text-anchor="start" font-weight="normal" fill="#1a1a1a" textLength="11.15" lengthAdjust="spacingAndGlyphs" stroke="#1a1a1a" stroke-width="0.1">6,60%</text>
<text x="380.7" y="534.2" font-size="4.5" text-anchor="end" font-weight="normal" fill="#1a1a1a" textLength="11.15" lengthAdjust="spacingAndGlyphs" stroke="#1a1a1a" stroke-width="0.1">91,5%</text>
<text x="334.5" y="580.3" font-size="4.5" text-anchor="start" font-weight="normal" fill="#1a1a1a" textLength="11.15" lengthAdjust="spacingAndGlyphs" stroke="#1a1a1a" stroke-width="0.1">1,93%</text>
<text x="380.7" y="580.3" font-size="4.5" text-anchor="end" font-weight="normal" fill="#1a1a1a" textLength="4.4" lengthAdjust="spacingAndGlyphs" stroke="#1a1a1a" stroke-width="0.1">0%</text>
<line x1="70.5" y1="606.7" x2="70.5" y2="665.1" stroke="#111" stroke-width="1.2"/>
<text x="66.4" y="633.9" font-size="5.8" text-anchor="middle" font-weight="normal" fill="#1a1a1a" textLength="19.6" lengthAdjust="spacingAndGlyphs" transform="rotate(-90 66.4 633.9)">pERK1/2</text>
<line x1="246.7" y1="606.7" x2="246.7" y2="665.1" stroke="#111" stroke-width="1.2"/>
<text x="242.6" y="633.9" font-size="5.8" text-anchor="middle" font-weight="normal" fill="#1a1a1a" textLength="19.6" lengthAdjust="spacingAndGlyphs" transform="rotate(-90 242.6 633.9)">pERK1/2</text>
<line x1="84.2" y1="675.4" x2="218.7" y2="675.4" stroke="#111" stroke-width="1.3"/>
<line x1="261.2" y1="675.4" x2="393.5" y2="675.4" stroke="#111" stroke-width="1.3"/>
<text x="152" y="682.4" font-size="5.6" text-anchor="middle" font-weight="normal" fill="#1a1a1a" textLength="11.6" lengthAdjust="spacingAndGlyphs">pp38</text>
<text x="327" y="682.4" font-size="5.6" text-anchor="middle" font-weight="normal" fill="#1a1a1a" textLength="11.6" lengthAdjust="spacingAndGlyphs">pp38</text>
<clipPath id="fc20"><rect x="84.2" y="606.7" width="59.7" height="59"/></clipPath>
<g clip-path="url(#fc20)">
<circle cx="97.53" cy="652.85" r="0.4" fill="#000" opacity="0.20"/>
<circle cx="94.54" cy="652.84" r="0.4" fill="#000" opacity="0.20"/>
<circle cx="97.04" cy="646.79" r="0.4" fill="#000" opacity="0.20"/>
<circle cx="97.42" cy="648.32" r="0.4" fill="#000" opacity="0.20"/>
<circle cx="89.39" cy="651.92" r="0.4" fill="#000" opacity="0.20"/>
<circle cx="96.37" cy="649.65" r="0.4" fill="#000" opacity="0.20"/>
<circle cx="99.68" cy="650.4" r="0.4" fill="#000" opacity="0.20"/>
<circle cx="92.41" cy="650.02" r="0.4" fill="#000" opacity="0.20"/>
<circle cx="104.69" cy="646.5" r="0.4" fill="#000" opacity="0.20"/>
<circle cx="94.8" cy="648.4" r="0.4" fill="#000" opacity="0.20"/>
<circle cx="99.89" cy="645.76" r="0.4" fill="#000" opacity="0.20"/>
<circle cx="88.93" cy="647.08" r="0.4" fill="#000" opacity="0.20"/>
<ellipse cx="96.8" cy="650.8" rx="4.6" ry="4.6" fill="#000" opacity="0.25" filter="url(#b12)"/>
<ellipse cx="96.8" cy="650.8" rx="3" ry="3" fill="#000" opacity="0.50" filter="url(#b8)"/>
<ellipse cx="96.8" cy="650.8" rx="3.6" ry="3.6" fill="none" stroke="#000" stroke-width="0.6" opacity="0.60"/>
<ellipse cx="96.8" cy="650.8" rx="2.2" ry="2.2" fill="none" stroke="#000" stroke-width="0.6" opacity="0.70"/>
<ellipse cx="96.8" cy="650.8" rx="0.9" ry="0.9" fill="#fff" opacity="0.80" filter="url(#b5)"/>
</g>
<rect x="84.2" y="606.7" width="59.7" height="59" fill="none" stroke="#a0a0a0" stroke-width="0.7"/>
<line x1="103.4" y1="606.7" x2="103.4" y2="665.7" stroke="#666" stroke-width="0.75"/>
<line x1="84.2" y1="644.2" x2="143.9" y2="644.2" stroke="#666" stroke-width="0.75"/>
<text x="82.8" y="615.9" font-size="4.6" text-anchor="end" fill="#2a2a2a">10<tspan dy="-1.7" font-size="3.0">5</tspan></text>
<line x1="83.2" y1="614.3" x2="84.2" y2="614.3" stroke="#333" stroke-width="0.6"/>
<text x="82.8" y="628.9" font-size="4.6" text-anchor="end" fill="#2a2a2a">10<tspan dy="-1.7" font-size="3.0">4</tspan></text>
<line x1="83.2" y1="627.3" x2="84.2" y2="627.3" stroke="#333" stroke-width="0.6"/>
<text x="82.8" y="643.1" font-size="4.6" text-anchor="end" fill="#2a2a2a">10<tspan dy="-1.7" font-size="3.0">3</tspan></text>
<line x1="83.2" y1="641.5" x2="84.2" y2="641.5" stroke="#333" stroke-width="0.6"/>
<text x="82.8" y="656.9" font-size="4.6" text-anchor="end" fill="#2a2a2a">0</text>
<line x1="83.2" y1="655.3" x2="84.2" y2="655.3" stroke="#333" stroke-width="0.6"/>
<line x1="83.6" y1="653.2" x2="83.6" y2="657.2" stroke="#111" stroke-width="1.2"/>
<text x="94" y="674.6" font-size="4.6" text-anchor="middle" fill="#2a2a2a">0</text>
<line x1="94" y1="665.7" x2="94" y2="666.7" stroke="#333" stroke-width="0.6"/>
<text x="108.8" y="674.6" font-size="4.6" text-anchor="middle" fill="#2a2a2a">10<tspan dy="-1.7" font-size="3.0">3</tspan></text>
<line x1="108.8" y1="665.7" x2="108.8" y2="666.7" stroke="#333" stroke-width="0.6"/>
<text x="123.6" y="674.6" font-size="4.6" text-anchor="middle" fill="#2a2a2a">10<tspan dy="-1.7" font-size="3.0">4</tspan></text>
<line x1="123.6" y1="665.7" x2="123.6" y2="666.7" stroke="#333" stroke-width="0.6"/>
<text x="137.8" y="674.6" font-size="4.6" text-anchor="middle" fill="#2a2a2a">10<tspan dy="-1.7" font-size="3.0">5</tspan></text>
<line x1="137.8" y1="665.7" x2="137.8" y2="666.7" stroke="#333" stroke-width="0.6"/>
<line x1="91.7" y1="666.5" x2="95.7" y2="666.5" stroke="#111" stroke-width="1.2"/>
<text x="86.2" y="615.7" font-size="4.5" text-anchor="start" font-weight="normal" fill="#1a1a1a" textLength="11.15" lengthAdjust="spacingAndGlyphs" stroke="#1a1a1a" stroke-width="0.1">0,69%</text>
<text x="132.3" y="615.7" font-size="4.5" text-anchor="end" font-weight="normal" fill="#1a1a1a" textLength="11.15" lengthAdjust="spacingAndGlyphs" stroke="#1a1a1a" stroke-width="0.1">0,40%</text>
<text x="86.2" y="661.7" font-size="4.5" text-anchor="start" font-weight="normal" fill="#1a1a1a" textLength="11.15" lengthAdjust="spacingAndGlyphs" stroke="#1a1a1a" stroke-width="0.1">98,2%</text>
<text x="132.3" y="661.7" font-size="4.5" text-anchor="end" font-weight="normal" fill="#1a1a1a" textLength="11.15" lengthAdjust="spacingAndGlyphs" stroke="#1a1a1a" stroke-width="0.1">0,48%</text>
<clipPath id="fc21"><rect x="158.2" y="606.7" width="60.4" height="59"/></clipPath>
<g clip-path="url(#fc21)">
<circle cx="177.34" cy="633.35" r="0.4" fill="#000" opacity="0.22"/>
<circle cx="175.93" cy="645.52" r="0.4" fill="#000" opacity="0.22"/>
<circle cx="175.3" cy="621.39" r="0.4" fill="#000" opacity="0.22"/>
<circle cx="173.09" cy="643.12" r="0.4" fill="#000" opacity="0.22"/>
<circle cx="174.74" cy="630.99" r="0.4" fill="#000" opacity="0.22"/>
<circle cx="189.42" cy="629.56" r="0.4" fill="#000" opacity="0.22"/>
<circle cx="189.65" cy="647.26" r="0.4" fill="#000" opacity="0.22"/>
<circle cx="174.73" cy="633.88" r="0.4" fill="#000" opacity="0.22"/>
<circle cx="181.51" cy="635.3" r="0.4" fill="#000" opacity="0.22"/>
<circle cx="171.93" cy="652.35" r="0.4" fill="#000" opacity="0.22"/>
<circle cx="187.16" cy="621.71" r="0.4" fill="#000" opacity="0.22"/>
<circle cx="185.15" cy="625.6" r="0.4" fill="#000" opacity="0.22"/>
<circle cx="173.87" cy="649.65" r="0.4" fill="#000" opacity="0.22"/>
<circle cx="187.68" cy="634.61" r="0.4" fill="#000" opacity="0.22"/>
<circle cx="181.77" cy="636.17" r="0.4" fill="#000" opacity="0.22"/>
<circle cx="173.29" cy="639.23" r="0.4" fill="#000" opacity="0.22"/>
<circle cx="189.41" cy="636.72" r="0.4" fill="#000" opacity="0.22"/>
<circle cx="180.45" cy="643.56" r="0.4" fill="#000" opacity="0.22"/>
<circle cx="195.14" cy="621.87" r="0.4" fill="#000" opacity="0.22"/>
<circle cx="183.69" cy="629.57" r="0.4" fill="#000" opacity="0.22"/>
<circle cx="189.08" cy="647.1" r="0.4" fill="#000" opacity="0.22"/>
<circle cx="172.16" cy="634.99" r="0.4" fill="#000" opacity="0.22"/>
<circle cx="191.03" cy="633.17" r="0.4" fill="#000" opacity="0.22"/>
<circle cx="183.52" cy="636.9" r="0.4" fill="#000" opacity="0.22"/>
<circle cx="171.29" cy="636.99" r="0.4" fill="#000" opacity="0.22"/>
<circle cx="180.13" cy="630.15" r="0.4" fill="#000" opacity="0.22"/>
<circle cx="168.37" cy="633.94" r="0.4" fill="#000" opacity="0.22"/>
<circle cx="189" cy="622.01" r="0.4" fill="#000" opacity="0.22"/>
<circle cx="188.28" cy="641.55" r="0.4" fill="#000" opacity="0.22"/>
<circle cx="181.76" cy="649.69" r="0.4" fill="#000" opacity="0.22"/>
<circle cx="173.65" cy="638.66" r="0.4" fill="#000" opacity="0.22"/>
<circle cx="176.94" cy="626.42" r="0.4" fill="#000" opacity="0.22"/>
<circle cx="177.56" cy="641.68" r="0.4" fill="#000" opacity="0.22"/>
<circle cx="178.2" cy="651.56" r="0.4" fill="#000" opacity="0.22"/>
<circle cx="179.27" cy="639.57" r="0.4" fill="#000" opacity="0.22"/>
<circle cx="178.27" cy="626.24" r="0.4" fill="#000" opacity="0.22"/>
<circle cx="177.77" cy="613.4" r="0.4" fill="#000" opacity="0.22"/>
<circle cx="162.25" cy="649.84" r="0.4" fill="#000" opacity="0.22"/>
<circle cx="177.37" cy="625.27" r="0.4" fill="#000" opacity="0.22"/>
<circle cx="179.45" cy="644.67" r="0.4" fill="#000" opacity="0.22"/>
<circle cx="181.37" cy="631.96" r="0.4" fill="#000" opacity="0.22"/>
<circle cx="179.56" cy="633.12" r="0.4" fill="#000" opacity="0.22"/>
<circle cx="186.78" cy="633.8" r="0.4" fill="#000" opacity="0.22"/>
<circle cx="175.19" cy="632.12" r="0.4" fill="#000" opacity="0.22"/>
<circle cx="178.44" cy="623.5" r="0.4" fill="#000" opacity="0.22"/>
<circle cx="198.71" cy="648.23" r="0.4" fill="#000" opacity="0.22"/>
<circle cx="169.84" cy="640.83" r="0.4" fill="#000" opacity="0.22"/>
<circle cx="169.17" cy="635.34" r="0.4" fill="#000" opacity="0.22"/>
<circle cx="170.62" cy="635.36" r="0.4" fill="#000" opacity="0.22"/>
<circle cx="174.71" cy="635.43" r="0.4" fill="#000" opacity="0.22"/>
<circle cx="181.69" cy="627.02" r="0.4" fill="#000" opacity="0.22"/>
<circle cx="177.14" cy="643.84" r="0.4" fill="#000" opacity="0.22"/>
<circle cx="198.55" cy="612.35" r="0.4" fill="#000" opacity="0.22"/>
<circle cx="168.6" cy="631.06" r="0.4" fill="#000" opacity="0.22"/>
<circle cx="179.08" cy="622.21" r="0.4" fill="#000" opacity="0.22"/>
<circle cx="176.43" cy="647.48" r="0.4" fill="#000" opacity="0.22"/>
<circle cx="182.11" cy="629.34" r="0.4" fill="#000" opacity="0.22"/>
<circle cx="176.25" cy="621.79" r="0.4" fill="#000" opacity="0.22"/>
<circle cx="189.78" cy="648.86" r="0.4" fill="#000" opacity="0.22"/>
<circle cx="178.12" cy="642.32" r="0.4" fill="#000" opacity="0.22"/>
<circle cx="181.02" cy="642.34" r="0.4" fill="#000" opacity="0.22"/>
<circle cx="192.05" cy="615.91" r="0.4" fill="#000" opacity="0.22"/>
<circle cx="187.92" cy="631.09" r="0.4" fill="#000" opacity="0.22"/>
<circle cx="203.77" cy="633.64" r="0.4" fill="#000" opacity="0.22"/>
<circle cx="184.51" cy="621.56" r="0.4" fill="#000" opacity="0.22"/>
<circle cx="179.13" cy="638.03" r="0.4" fill="#000" opacity="0.22"/>
<circle cx="199.77" cy="632.48" r="0.4" fill="#000" opacity="0.22"/>
<circle cx="183.13" cy="649.97" r="0.4" fill="#000" opacity="0.22"/>
<circle cx="162.76" cy="642.42" r="0.4" fill="#000" opacity="0.22"/>
<circle cx="192.13" cy="633.54" r="0.4" fill="#000" opacity="0.22"/>
<ellipse cx="181" cy="636" rx="11" ry="12" fill="#000" opacity="0.20" filter="url(#b20)" transform="rotate(10 181 636)"/>
<ellipse cx="175" cy="649.5" rx="9" ry="5" fill="#000" opacity="0.45" filter="url(#b12)" transform="rotate(-10 175 649.5)"/>
<ellipse cx="181" cy="636" rx="10" ry="11" fill="none" stroke="#000" stroke-width="0.45" opacity="0.18" transform="rotate(10 181 636)"/>
<ellipse cx="182" cy="634" rx="7" ry="8" fill="none" stroke="#000" stroke-width="0.45" opacity="0.15" transform="rotate(10 182 634)"/>
<ellipse cx="183" cy="632" rx="4" ry="5" fill="none" stroke="#000" stroke-width="0.45" opacity="0.12" transform="rotate(10 183 632)"/>
<ellipse cx="175" cy="649.5" rx="8" ry="4.4" fill="none" stroke="#000" stroke-width="0.5" opacity="0.45" transform="rotate(-10 175 649.5)"/>
<ellipse cx="174.5" cy="650" rx="5" ry="2.8" fill="none" stroke="#000" stroke-width="0.5" opacity="0.50" transform="rotate(-10 174.5 650)"/>
<ellipse cx="176" cy="649" rx="1.5" ry="1" fill="#fff" opacity="0.80" filter="url(#b5)"/>
</g>
<rect x="158.2" y="606.7" width="60.4" height="59" fill="none" stroke="#a0a0a0" stroke-width="0.7"/>
<line x1="177.7" y1="606.7" x2="177.7" y2="665.7" stroke="#666" stroke-width="0.75"/>
<line x1="158.2" y1="644.2" x2="218.6" y2="644.2" stroke="#666" stroke-width="0.75"/>
<text x="156.8" y="615.9" font-size="4.6" text-anchor="end" fill="#2a2a2a">10<tspan dy="-1.7" font-size="3.0">5</tspan></text>
<line x1="157.2" y1="614.3" x2="158.2" y2="614.3" stroke="#333" stroke-width="0.6"/>
<text x="156.8" y="628.9" font-size="4.6" text-anchor="end" fill="#2a2a2a">10<tspan dy="-1.7" font-size="3.0">4</tspan></text>
<line x1="157.2" y1="627.3" x2="158.2" y2="627.3" stroke="#333" stroke-width="0.6"/>
<text x="156.8" y="643.1" font-size="4.6" text-anchor="end" fill="#2a2a2a">10<tspan dy="-1.7" font-size="3.0">3</tspan></text>
<line x1="157.2" y1="641.5" x2="158.2" y2="641.5" stroke="#333" stroke-width="0.6"/>
<text x="156.8" y="656.9" font-size="4.6" text-anchor="end" fill="#2a2a2a">0</text>
<line x1="157.2" y1="655.3" x2="158.2" y2="655.3" stroke="#333" stroke-width="0.6"/>
<line x1="157.6" y1="653.2" x2="157.6" y2="657.2" stroke="#111" stroke-width="1.2"/>
<text x="168" y="674.6" font-size="4.6" text-anchor="middle" fill="#2a2a2a">0</text>
<line x1="168" y1="665.7" x2="168" y2="666.7" stroke="#333" stroke-width="0.6"/>
<text x="182.8" y="674.6" font-size="4.6" text-anchor="middle" fill="#2a2a2a">10<tspan dy="-1.7" font-size="3.0">3</tspan></text>
<line x1="182.8" y1="665.7" x2="182.8" y2="666.7" stroke="#333" stroke-width="0.6"/>
<text x="197.6" y="674.6" font-size="4.6" text-anchor="middle" fill="#2a2a2a">10<tspan dy="-1.7" font-size="3.0">4</tspan></text>
<line x1="197.6" y1="665.7" x2="197.6" y2="666.7" stroke="#333" stroke-width="0.6"/>
<text x="211.8" y="674.6" font-size="4.6" text-anchor="middle" fill="#2a2a2a">10<tspan dy="-1.7" font-size="3.0">5</tspan></text>
<line x1="211.8" y1="665.7" x2="211.8" y2="666.7" stroke="#333" stroke-width="0.6"/>
<line x1="165.7" y1="666.5" x2="169.7" y2="666.5" stroke="#111" stroke-width="1.2"/>
<text x="160.2" y="615.7" font-size="4.5" text-anchor="start" font-weight="normal" fill="#1a1a1a" textLength="11.15" lengthAdjust="spacingAndGlyphs" stroke="#1a1a1a" stroke-width="0.1">9,72%</text>
<text x="207" y="615.7" font-size="4.5" text-anchor="end" font-weight="normal" fill="#1a1a1a" textLength="11.15" lengthAdjust="spacingAndGlyphs" stroke="#1a1a1a" stroke-width="0.1">24,0%</text>
<text x="160.2" y="661.7" font-size="4.5" text-anchor="start" font-weight="normal" fill="#1a1a1a" textLength="11.15" lengthAdjust="spacingAndGlyphs" stroke="#1a1a1a" stroke-width="0.1">35,5%</text>
<text x="207" y="661.7" font-size="4.5" text-anchor="end" font-weight="normal" fill="#1a1a1a" textLength="11.15" lengthAdjust="spacingAndGlyphs" stroke="#1a1a1a" stroke-width="0.1">30,8%</text>
<clipPath id="fc22"><rect x="261.2" y="606.7" width="59" height="59"/></clipPath>
<g clip-path="url(#fc22)">
<circle cx="273.99" cy="652.92" r="0.4" fill="#000" opacity="0.18"/>
<circle cx="284.29" cy="646.23" r="0.4" fill="#000" opacity="0.18"/>
<circle cx="278.67" cy="640.11" r="0.4" fill="#000" opacity="0.18"/>
<circle cx="272.2" cy="649.17" r="0.4" fill="#000" opacity="0.18"/>
<circle cx="277.59" cy="643.64" r="0.4" fill="#000" opacity="0.18"/>
<circle cx="275.75" cy="646.42" r="0.4" fill="#000" opacity="0.18"/>
<circle cx="280.75" cy="641.65" r="0.4" fill="#000" opacity="0.18"/>
<circle cx="278.97" cy="640.43" r="0.4" fill="#000" opacity="0.18"/>
<circle cx="276.48" cy="641.63" r="0.4" fill="#000" opacity="0.18"/>
<circle cx="275.73" cy="642.33" r="0.4" fill="#000" opacity="0.18"/>
<circle cx="280.98" cy="644.96" r="0.4" fill="#000" opacity="0.18"/>
<circle cx="275.47" cy="645.76" r="0.4" fill="#000" opacity="0.18"/>
<ellipse cx="274.4" cy="650.5" rx="5.3" ry="5.6" fill="#000" opacity="0.25" filter="url(#b10)"/>
<ellipse cx="274.4" cy="650.5" rx="4.8" ry="5.2" fill="none" stroke="#000" stroke-width="0.6" opacity="0.90"/>
<ellipse cx="274.4" cy="650.5" rx="3.4" ry="3.7" fill="none" stroke="#000" stroke-width="0.6" opacity="0.90"/>
<ellipse cx="274.4" cy="650.5" rx="2" ry="2.1" fill="none" stroke="#000" stroke-width="0.6" opacity="0.90"/>
<ellipse cx="274.4" cy="650.5" rx="0.7" ry="0.7" fill="#fff" opacity="0.80" filter="url(#b5)"/>
</g>
<rect x="261.2" y="606.7" width="59" height="59" fill="none" stroke="#a0a0a0" stroke-width="0.7"/>
<line x1="280.6" y1="606.7" x2="280.6" y2="665.7" stroke="#666" stroke-width="0.75"/>
<line x1="261.2" y1="644.2" x2="320.2" y2="644.2" stroke="#666" stroke-width="0.75"/>
<text x="259.8" y="615.9" font-size="4.6" text-anchor="end" fill="#2a2a2a">10<tspan dy="-1.7" font-size="3.0">5</tspan></text>
<line x1="260.2" y1="614.3" x2="261.2" y2="614.3" stroke="#333" stroke-width="0.6"/>
<text x="259.8" y="628.9" font-size="4.6" text-anchor="end" fill="#2a2a2a">10<tspan dy="-1.7" font-size="3.0">4</tspan></text>
<line x1="260.2" y1="627.3" x2="261.2" y2="627.3" stroke="#333" stroke-width="0.6"/>
<text x="259.8" y="643.1" font-size="4.6" text-anchor="end" fill="#2a2a2a">10<tspan dy="-1.7" font-size="3.0">3</tspan></text>
<line x1="260.2" y1="641.5" x2="261.2" y2="641.5" stroke="#333" stroke-width="0.6"/>
<text x="259.8" y="656.9" font-size="4.6" text-anchor="end" fill="#2a2a2a">0</text>
<line x1="260.2" y1="655.3" x2="261.2" y2="655.3" stroke="#333" stroke-width="0.6"/>
<line x1="260.6" y1="653.2" x2="260.6" y2="657.2" stroke="#111" stroke-width="1.2"/>
<text x="271" y="674.6" font-size="4.6" text-anchor="middle" fill="#2a2a2a">0</text>
<line x1="271" y1="665.7" x2="271" y2="666.7" stroke="#333" stroke-width="0.6"/>
<text x="285.8" y="674.6" font-size="4.6" text-anchor="middle" fill="#2a2a2a">10<tspan dy="-1.7" font-size="3.0">3</tspan></text>
<line x1="285.8" y1="665.7" x2="285.8" y2="666.7" stroke="#333" stroke-width="0.6"/>
<text x="300.6" y="674.6" font-size="4.6" text-anchor="middle" fill="#2a2a2a">10<tspan dy="-1.7" font-size="3.0">4</tspan></text>
<line x1="300.6" y1="665.7" x2="300.6" y2="666.7" stroke="#333" stroke-width="0.6"/>
<text x="314.8" y="674.6" font-size="4.6" text-anchor="middle" fill="#2a2a2a">10<tspan dy="-1.7" font-size="3.0">5</tspan></text>
<line x1="314.8" y1="665.7" x2="314.8" y2="666.7" stroke="#333" stroke-width="0.6"/>
<line x1="268.7" y1="666.5" x2="272.7" y2="666.5" stroke="#111" stroke-width="1.2"/>
<text x="263.2" y="615.7" font-size="4.5" text-anchor="start" font-weight="normal" fill="#1a1a1a" textLength="11.15" lengthAdjust="spacingAndGlyphs" stroke="#1a1a1a" stroke-width="0.1">0,28%</text>
<text x="308.6" y="615.7" font-size="4.5" text-anchor="end" font-weight="normal" fill="#1a1a1a" textLength="11.15" lengthAdjust="spacingAndGlyphs" stroke="#1a1a1a" stroke-width="0.1">0,13%</text>
<text x="263.2" y="661.7" font-size="4.5" text-anchor="start" font-weight="normal" fill="#1a1a1a" textLength="11.15" lengthAdjust="spacingAndGlyphs" stroke="#1a1a1a" stroke-width="0.1">99,4%</text>
<text x="308.6" y="661.7" font-size="4.5" text-anchor="end" font-weight="normal" fill="#1a1a1a" textLength="11.15" lengthAdjust="spacingAndGlyphs" stroke="#1a1a1a" stroke-width="0.1">0,19%</text>
<clipPath id="fc23"><rect x="332.5" y="606.7" width="59.8" height="59"/></clipPath>
<g clip-path="url(#fc23)">
<circle cx="366.95" cy="627.36" r="0.4" fill="#000" opacity="0.20"/>
<circle cx="367.73" cy="634.74" r="0.4" fill="#000" opacity="0.20"/>
<circle cx="352.25" cy="625.17" r="0.4" fill="#000" opacity="0.20"/>
<circle cx="355.77" cy="632.31" r="0.4" fill="#000" opacity="0.20"/>
<circle cx="366.63" cy="627.07" r="0.4" fill="#000" opacity="0.20"/>
<circle cx="360.52" cy="630.01" r="0.4" fill="#000" opacity="0.20"/>
<circle cx="388.3" cy="633.22" r="0.4" fill="#000" opacity="0.20"/>
<circle cx="388.71" cy="634.4" r="0.4" fill="#000" opacity="0.20"/>
<circle cx="352.54" cy="628.41" r="0.4" fill="#000" opacity="0.20"/>
<circle cx="374.43" cy="635.76" r="0.4" fill="#000" opacity="0.20"/>
<circle cx="359.06" cy="636.42" r="0.4" fill="#000" opacity="0.20"/>
<circle cx="375.7" cy="628.61" r="0.4" fill="#000" opacity="0.20"/>
<circle cx="382.54" cy="646.53" r="0.4" fill="#000" opacity="0.20"/>
<circle cx="372.98" cy="626.16" r="0.4" fill="#000" opacity="0.20"/>
<circle cx="375.91" cy="637.77" r="0.4" fill="#000" opacity="0.20"/>
<circle cx="371.61" cy="624.39" r="0.4" fill="#000" opacity="0.20"/>
<circle cx="361.24" cy="640.04" r="0.4" fill="#000" opacity="0.20"/>
<circle cx="376.63" cy="633.95" r="0.4" fill="#000" opacity="0.20"/>
<circle cx="374.29" cy="639.68" r="0.4" fill="#000" opacity="0.20"/>
<circle cx="357.41" cy="635.11" r="0.4" fill="#000" opacity="0.20"/>
<circle cx="360.62" cy="630.77" r="0.4" fill="#000" opacity="0.20"/>
<circle cx="365.64" cy="635.45" r="0.4" fill="#000" opacity="0.20"/>
<circle cx="364.92" cy="629.86" r="0.4" fill="#000" opacity="0.20"/>
<circle cx="383.84" cy="634.97" r="0.4" fill="#000" opacity="0.20"/>
<circle cx="371.51" cy="630.66" r="0.4" fill="#000" opacity="0.20"/>
<circle cx="376.16" cy="620.57" r="0.4" fill="#000" opacity="0.20"/>
<circle cx="361.49" cy="635.52" r="0.4" fill="#000" opacity="0.20"/>
<circle cx="378.07" cy="637.86" r="0.4" fill="#000" opacity="0.20"/>
<circle cx="365.28" cy="627.1" r="0.4" fill="#000" opacity="0.20"/>
<circle cx="373.18" cy="635" r="0.4" fill="#000" opacity="0.20"/>
<circle cx="374.05" cy="638.18" r="0.4" fill="#000" opacity="0.20"/>
<circle cx="356.31" cy="631.59" r="0.4" fill="#000" opacity="0.20"/>
<circle cx="355.45" cy="627.91" r="0.4" fill="#000" opacity="0.20"/>
<circle cx="370.44" cy="635.52" r="0.4" fill="#000" opacity="0.20"/>
<circle cx="383.35" cy="630.01" r="0.4" fill="#000" opacity="0.20"/>
<circle cx="392.17" cy="629.49" r="0.4" fill="#000" opacity="0.20"/>
<circle cx="384.27" cy="628.34" r="0.4" fill="#000" opacity="0.20"/>
<circle cx="366.16" cy="629.54" r="0.4" fill="#000" opacity="0.20"/>
<circle cx="370.66" cy="641.63" r="0.4" fill="#000" opacity="0.20"/>
<circle cx="382.22" cy="627.76" r="0.4" fill="#000" opacity="0.20"/>
<ellipse cx="345" cy="649" rx="2.5" ry="4" fill="#000" opacity="0.50" filter="url(#b8)"/>
<ellipse cx="369" cy="627.5" rx="16.5" ry="4" fill="#000" opacity="0.35" filter="url(#b10)" transform="rotate(-17 369 627.5)"/>
<ellipse cx="371" cy="626.8" rx="11" ry="2.6" fill="#000" opacity="0.50" filter="url(#b8)" transform="rotate(-17 371 626.8)"/>
<ellipse cx="368.5" cy="627.5" rx="16" ry="3.7" fill="none" stroke="#000" stroke-width="0.6" opacity="0.85" transform="rotate(-17 368.5 627.5)"/>
<ellipse cx="370" cy="627" rx="11.5" ry="2.5" fill="none" stroke="#000" stroke-width="0.55" opacity="0.85" transform="rotate(-17 370 627)"/>
<ellipse cx="372" cy="626.5" rx="7" ry="1.3" fill="none" stroke="#000" stroke-width="0.5" opacity="0.70" transform="rotate(-17 372 626.5)"/>
</g>
<rect x="332.5" y="606.7" width="59.8" height="59" fill="none" stroke="#a0a0a0" stroke-width="0.7"/>
<line x1="352.6" y1="606.7" x2="352.6" y2="665.7" stroke="#666" stroke-width="0.75"/>
<line x1="332.5" y1="644.2" x2="392.3" y2="644.2" stroke="#666" stroke-width="0.75"/>
<text x="331.1" y="615.9" font-size="4.6" text-anchor="end" fill="#2a2a2a">10<tspan dy="-1.7" font-size="3.0">5</tspan></text>
<line x1="331.5" y1="614.3" x2="332.5" y2="614.3" stroke="#333" stroke-width="0.6"/>
<text x="331.1" y="628.9" font-size="4.6" text-anchor="end" fill="#2a2a2a">10<tspan dy="-1.7" font-size="3.0">4</tspan></text>
<line x1="331.5" y1="627.3" x2="332.5" y2="627.3" stroke="#333" stroke-width="0.6"/>
<text x="331.1" y="643.1" font-size="4.6" text-anchor="end" fill="#2a2a2a">10<tspan dy="-1.7" font-size="3.0">3</tspan></text>
<line x1="331.5" y1="641.5" x2="332.5" y2="641.5" stroke="#333" stroke-width="0.6"/>
<text x="331.1" y="656.9" font-size="4.6" text-anchor="end" fill="#2a2a2a">0</text>
<line x1="331.5" y1="655.3" x2="332.5" y2="655.3" stroke="#333" stroke-width="0.6"/>
<line x1="331.9" y1="653.2" x2="331.9" y2="657.2" stroke="#111" stroke-width="1.2"/>
<text x="342.3" y="674.6" font-size="4.6" text-anchor="middle" fill="#2a2a2a">0</text>
<line x1="342.3" y1="665.7" x2="342.3" y2="666.7" stroke="#333" stroke-width="0.6"/>
<text x="357.1" y="674.6" font-size="4.6" text-anchor="middle" fill="#2a2a2a">10<tspan dy="-1.7" font-size="3.0">3</tspan></text>
<line x1="357.1" y1="665.7" x2="357.1" y2="666.7" stroke="#333" stroke-width="0.6"/>
<text x="371.9" y="674.6" font-size="4.6" text-anchor="middle" fill="#2a2a2a">10<tspan dy="-1.7" font-size="3.0">4</tspan></text>
<line x1="371.9" y1="665.7" x2="371.9" y2="666.7" stroke="#333" stroke-width="0.6"/>
<text x="386.1" y="674.6" font-size="4.6" text-anchor="middle" fill="#2a2a2a">10<tspan dy="-1.7" font-size="3.0">5</tspan></text>
<line x1="386.1" y1="665.7" x2="386.1" y2="666.7" stroke="#333" stroke-width="0.6"/>
<line x1="340" y1="666.5" x2="344" y2="666.5" stroke="#111" stroke-width="1.2"/>
<text x="334.5" y="615.7" font-size="4.5" text-anchor="start" font-weight="normal" fill="#1a1a1a" textLength="11.15" lengthAdjust="spacingAndGlyphs" stroke="#1a1a1a" stroke-width="0.1">0,24%</text>
<text x="380.7" y="615.7" font-size="4.5" text-anchor="end" font-weight="normal" fill="#1a1a1a" textLength="11.15" lengthAdjust="spacingAndGlyphs" stroke="#1a1a1a" stroke-width="0.1">97,8%</text>
<text x="334.5" y="661.7" font-size="4.5" text-anchor="start" font-weight="normal" fill="#1a1a1a" textLength="11.15" lengthAdjust="spacingAndGlyphs" stroke="#1a1a1a" stroke-width="0.1">1,70%</text>
<text x="380.7" y="661.7" font-size="4.5" text-anchor="end" font-weight="normal" fill="#1a1a1a" textLength="11.15" lengthAdjust="spacingAndGlyphs" stroke="#1a1a1a" stroke-width="0.1">0,26%</text>
<rect x="0" y="0" width="520" height="1.4" fill="#000"/>
<rect x="0" y="0" width="1.5" height="691" fill="#000"/>
<rect x="518.5" y="0" width="1.5" height="691" fill="#000"/>
<rect x="0" y="689.5" width="520" height="1.5" fill="#000"/>
</svg></body></html>
